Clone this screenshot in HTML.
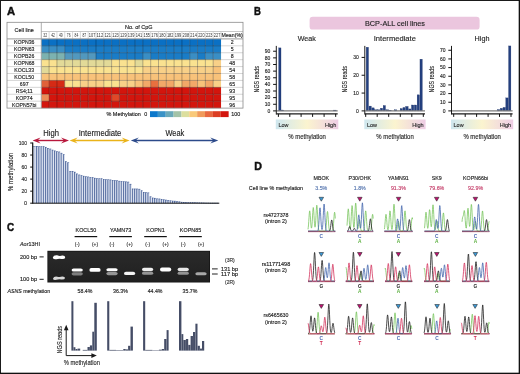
<!DOCTYPE html>
<html><head><meta charset="utf-8"><title>Figure</title>
<style>
html,body{margin:0;padding:0;background:#fff;}
body{width:520px;height:374px;overflow:hidden;position:relative;font-family:"Liberation Sans", sans-serif;}
svg{position:absolute;left:0;top:0;display:block;will-change:transform;filter:blur(0.25px);}
svg text{font-family:"Liberation Sans", sans-serif;}
</style></head><body>
<svg width="520" height="374" viewBox="0 0 520 374">
<rect x="0" y="0" width="520" height="374" fill="#fff"/>
<text x="7.00" y="15.40" font-size="11.4" text-anchor="start" fill="#111" font-weight="bold" textLength="8.10" lengthAdjust="spacingAndGlyphs" stroke="#111" stroke-width="0.45">A</text>
<text x="253.90" y="15.20" font-size="11.4" text-anchor="start" fill="#111" font-weight="bold" textLength="6.90" lengthAdjust="spacingAndGlyphs" stroke="#111" stroke-width="0.45">B</text>
<text x="7.10" y="230.60" font-size="11.8" text-anchor="start" fill="#111" font-weight="bold" textLength="7.20" lengthAdjust="spacingAndGlyphs" stroke="#111" stroke-width="0.45">C</text>
<text x="254.20" y="169.50" font-size="11.0" text-anchor="start" fill="#111" font-weight="bold" textLength="7.70" lengthAdjust="spacingAndGlyphs" stroke="#111" stroke-width="0.45">D</text>
<rect x="7.00" y="22.30" width="236.00" height="85.80" fill="#fff" />
<rect x="41.30" y="38.90" width="7.86" height="6.97" fill="#0a70c4" />
<rect x="49.11" y="38.90" width="7.86" height="6.97" fill="#0a70c4" />
<rect x="56.93" y="38.90" width="7.86" height="6.97" fill="#0a70c4" />
<rect x="64.74" y="38.90" width="7.86" height="6.97" fill="#0a70c4" />
<rect x="72.55" y="38.90" width="7.86" height="6.97" fill="#0a70c4" />
<rect x="80.37" y="38.90" width="7.86" height="6.97" fill="#0a70c4" />
<rect x="88.18" y="38.90" width="7.86" height="6.97" fill="#0a70c4" />
<rect x="95.99" y="38.90" width="7.86" height="6.97" fill="#0a70c4" />
<rect x="103.80" y="38.90" width="7.86" height="6.97" fill="#0a70c4" />
<rect x="111.62" y="38.90" width="7.86" height="6.97" fill="#0a70c4" />
<rect x="119.43" y="38.90" width="7.86" height="6.97" fill="#0a70c4" />
<rect x="127.24" y="38.90" width="7.86" height="6.97" fill="#0a70c4" />
<rect x="135.06" y="38.90" width="7.86" height="6.97" fill="#0a70c4" />
<rect x="142.87" y="38.90" width="7.86" height="6.97" fill="#0a70c4" />
<rect x="150.68" y="38.90" width="7.86" height="6.97" fill="#0a70c4" />
<rect x="158.50" y="38.90" width="7.86" height="6.97" fill="#0a70c4" />
<rect x="166.31" y="38.90" width="7.86" height="6.97" fill="#0a70c4" />
<rect x="174.12" y="38.90" width="7.86" height="6.97" fill="#0a70c4" />
<rect x="181.93" y="38.90" width="7.86" height="6.97" fill="#0a70c4" />
<rect x="189.75" y="38.90" width="7.86" height="6.97" fill="#0a70c4" />
<rect x="197.56" y="38.90" width="7.86" height="6.97" fill="#0a70c4" />
<rect x="205.37" y="38.90" width="7.86" height="6.97" fill="#0a70c4" />
<rect x="213.19" y="38.90" width="7.86" height="6.97" fill="#0a70c4" />
<rect x="41.30" y="45.82" width="7.86" height="6.97" fill="#3a8ec4" />
<rect x="49.11" y="45.82" width="7.86" height="6.97" fill="#3a8ec4" />
<rect x="56.93" y="45.82" width="7.86" height="6.97" fill="#3a8ec4" />
<rect x="64.74" y="45.82" width="7.86" height="6.97" fill="#1a7cc6" />
<rect x="72.55" y="45.82" width="7.86" height="6.97" fill="#1a7cc6" />
<rect x="80.37" y="45.82" width="7.86" height="6.97" fill="#1a7cc6" />
<rect x="88.18" y="45.82" width="7.86" height="6.97" fill="#1a7cc6" />
<rect x="95.99" y="45.82" width="7.86" height="6.97" fill="#1a7cc6" />
<rect x="103.80" y="45.82" width="7.86" height="6.97" fill="#1a7cc6" />
<rect x="111.62" y="45.82" width="7.86" height="6.97" fill="#1a7cc6" />
<rect x="119.43" y="45.82" width="7.86" height="6.97" fill="#1a7cc6" />
<rect x="127.24" y="45.82" width="7.86" height="6.97" fill="#1a7cc6" />
<rect x="135.06" y="45.82" width="7.86" height="6.97" fill="#1a7cc6" />
<rect x="142.87" y="45.82" width="7.86" height="6.97" fill="#1a7cc6" />
<rect x="150.68" y="45.82" width="7.86" height="6.97" fill="#1a7cc6" />
<rect x="158.50" y="45.82" width="7.86" height="6.97" fill="#1a7cc6" />
<rect x="166.31" y="45.82" width="7.86" height="6.97" fill="#1a7cc6" />
<rect x="174.12" y="45.82" width="7.86" height="6.97" fill="#1a7cc6" />
<rect x="181.93" y="45.82" width="7.86" height="6.97" fill="#1a7cc6" />
<rect x="189.75" y="45.82" width="7.86" height="6.97" fill="#1a7cc6" />
<rect x="197.56" y="45.82" width="7.86" height="6.97" fill="#1a7cc6" />
<rect x="205.37" y="45.82" width="7.86" height="6.97" fill="#1a7cc6" />
<rect x="213.19" y="45.82" width="7.86" height="6.97" fill="#1a7cc6" />
<rect x="41.30" y="52.74" width="7.86" height="6.97" fill="#7cb2b0" />
<rect x="49.11" y="52.74" width="7.86" height="6.97" fill="#7cb2b0" />
<rect x="56.93" y="52.74" width="7.86" height="6.97" fill="#7cb2b0" />
<rect x="64.74" y="52.74" width="7.86" height="6.97" fill="#5298be" />
<rect x="72.55" y="52.74" width="7.86" height="6.97" fill="#5298be" />
<rect x="80.37" y="52.74" width="7.86" height="6.97" fill="#5298be" />
<rect x="88.18" y="52.74" width="7.86" height="6.97" fill="#5298be" />
<rect x="95.99" y="52.74" width="7.86" height="6.97" fill="#1a7cc6" />
<rect x="103.80" y="52.74" width="7.86" height="6.97" fill="#1a7cc6" />
<rect x="111.62" y="52.74" width="7.86" height="6.97" fill="#1a7cc6" />
<rect x="119.43" y="52.74" width="7.86" height="6.97" fill="#1a7cc6" />
<rect x="127.24" y="52.74" width="7.86" height="6.97" fill="#1a7cc6" />
<rect x="135.06" y="52.74" width="7.86" height="6.97" fill="#1a7cc6" />
<rect x="142.87" y="52.74" width="7.86" height="6.97" fill="#3a8ec4" />
<rect x="150.68" y="52.74" width="7.86" height="6.97" fill="#1a7cc6" />
<rect x="158.50" y="52.74" width="7.86" height="6.97" fill="#1a7cc6" />
<rect x="166.31" y="52.74" width="7.86" height="6.97" fill="#1a7cc6" />
<rect x="174.12" y="52.74" width="7.86" height="6.97" fill="#1a7cc6" />
<rect x="181.93" y="52.74" width="7.86" height="6.97" fill="#1a7cc6" />
<rect x="189.75" y="52.74" width="7.86" height="6.97" fill="#3a8ec4" />
<rect x="197.56" y="52.74" width="7.86" height="6.97" fill="#1a7cc6" />
<rect x="205.37" y="52.74" width="7.86" height="6.97" fill="#3a8ec4" />
<rect x="213.19" y="52.74" width="7.86" height="6.97" fill="#3a8ec4" />
<rect x="41.30" y="59.66" width="7.86" height="6.97" fill="#fae290" />
<rect x="49.11" y="59.66" width="7.86" height="6.97" fill="#fae290" />
<rect x="56.93" y="59.66" width="7.86" height="6.97" fill="#e2da98" />
<rect x="64.74" y="59.66" width="7.86" height="6.97" fill="#e2da98" />
<rect x="72.55" y="59.66" width="7.86" height="6.97" fill="#e2da98" />
<rect x="80.37" y="59.66" width="7.86" height="6.97" fill="#e2da98" />
<rect x="88.18" y="59.66" width="7.86" height="6.97" fill="#e2da98" />
<rect x="95.99" y="59.66" width="7.86" height="6.97" fill="#e2da98" />
<rect x="103.80" y="59.66" width="7.86" height="6.97" fill="#e2da98" />
<rect x="111.62" y="59.66" width="7.86" height="6.97" fill="#fae290" />
<rect x="119.43" y="59.66" width="7.86" height="6.97" fill="#fae290" />
<rect x="127.24" y="59.66" width="7.86" height="6.97" fill="#fae290" />
<rect x="135.06" y="59.66" width="7.86" height="6.97" fill="#e2da98" />
<rect x="142.87" y="59.66" width="7.86" height="6.97" fill="#fae290" />
<rect x="150.68" y="59.66" width="7.86" height="6.97" fill="#fae290" />
<rect x="158.50" y="59.66" width="7.86" height="6.97" fill="#fae290" />
<rect x="166.31" y="59.66" width="7.86" height="6.97" fill="#fae290" />
<rect x="174.12" y="59.66" width="7.86" height="6.97" fill="#fae290" />
<rect x="181.93" y="59.66" width="7.86" height="6.97" fill="#fae290" />
<rect x="189.75" y="59.66" width="7.86" height="6.97" fill="#fae290" />
<rect x="197.56" y="59.66" width="7.86" height="6.97" fill="#fae290" />
<rect x="205.37" y="59.66" width="7.86" height="6.97" fill="#fae290" />
<rect x="213.19" y="59.66" width="7.86" height="6.97" fill="#f8d088" />
<rect x="41.30" y="66.58" width="7.86" height="6.97" fill="#e2da98" />
<rect x="49.11" y="66.58" width="7.86" height="6.97" fill="#fae290" />
<rect x="56.93" y="66.58" width="7.86" height="6.97" fill="#fae290" />
<rect x="64.74" y="66.58" width="7.86" height="6.97" fill="#fae290" />
<rect x="72.55" y="66.58" width="7.86" height="6.97" fill="#fae290" />
<rect x="80.37" y="66.58" width="7.86" height="6.97" fill="#fae290" />
<rect x="88.18" y="66.58" width="7.86" height="6.97" fill="#fae290" />
<rect x="95.99" y="66.58" width="7.86" height="6.97" fill="#fae290" />
<rect x="103.80" y="66.58" width="7.86" height="6.97" fill="#fae290" />
<rect x="111.62" y="66.58" width="7.86" height="6.97" fill="#fae290" />
<rect x="119.43" y="66.58" width="7.86" height="6.97" fill="#fae290" />
<rect x="127.24" y="66.58" width="7.86" height="6.97" fill="#fae290" />
<rect x="135.06" y="66.58" width="7.86" height="6.97" fill="#fae290" />
<rect x="142.87" y="66.58" width="7.86" height="6.97" fill="#f8d088" />
<rect x="150.68" y="66.58" width="7.86" height="6.97" fill="#f8d088" />
<rect x="158.50" y="66.58" width="7.86" height="6.97" fill="#f8d088" />
<rect x="166.31" y="66.58" width="7.86" height="6.97" fill="#f8d088" />
<rect x="174.12" y="66.58" width="7.86" height="6.97" fill="#f8d088" />
<rect x="181.93" y="66.58" width="7.86" height="6.97" fill="#f8d088" />
<rect x="189.75" y="66.58" width="7.86" height="6.97" fill="#f8d088" />
<rect x="197.56" y="66.58" width="7.86" height="6.97" fill="#f8d088" />
<rect x="205.37" y="66.58" width="7.86" height="6.97" fill="#f8d088" />
<rect x="213.19" y="66.58" width="7.86" height="6.97" fill="#f8c27a" />
<rect x="41.30" y="73.50" width="7.86" height="6.97" fill="#f8c27a" />
<rect x="49.11" y="73.50" width="7.86" height="6.97" fill="#f8c27a" />
<rect x="56.93" y="73.50" width="7.86" height="6.97" fill="#f8c27a" />
<rect x="64.74" y="73.50" width="7.86" height="6.97" fill="#f8c27a" />
<rect x="72.55" y="73.50" width="7.86" height="6.97" fill="#f8c27a" />
<rect x="80.37" y="73.50" width="7.86" height="6.97" fill="#f8c27a" />
<rect x="88.18" y="73.50" width="7.86" height="6.97" fill="#f8c27a" />
<rect x="95.99" y="73.50" width="7.86" height="6.97" fill="#f8c27a" />
<rect x="103.80" y="73.50" width="7.86" height="6.97" fill="#f8c27a" />
<rect x="111.62" y="73.50" width="7.86" height="6.97" fill="#f8c27a" />
<rect x="119.43" y="73.50" width="7.86" height="6.97" fill="#f8c27a" />
<rect x="127.24" y="73.50" width="7.86" height="6.97" fill="#f8c27a" />
<rect x="135.06" y="73.50" width="7.86" height="6.97" fill="#f8c27a" />
<rect x="142.87" y="73.50" width="7.86" height="6.97" fill="#f8c27a" />
<rect x="150.68" y="73.50" width="7.86" height="6.97" fill="#f8c27a" />
<rect x="158.50" y="73.50" width="7.86" height="6.97" fill="#f8c27a" />
<rect x="166.31" y="73.50" width="7.86" height="6.97" fill="#f8c27a" />
<rect x="174.12" y="73.50" width="7.86" height="6.97" fill="#f8c27a" />
<rect x="181.93" y="73.50" width="7.86" height="6.97" fill="#f8c27a" />
<rect x="189.75" y="73.50" width="7.86" height="6.97" fill="#f8c27a" />
<rect x="197.56" y="73.50" width="7.86" height="6.97" fill="#f8c27a" />
<rect x="205.37" y="73.50" width="7.86" height="6.97" fill="#f8c27a" />
<rect x="213.19" y="73.50" width="7.86" height="6.97" fill="#f8c27a" />
<rect x="41.30" y="80.42" width="7.86" height="6.97" fill="#e0603a" />
<rect x="49.11" y="80.42" width="7.86" height="6.97" fill="#d62a15" />
<rect x="56.93" y="80.42" width="7.86" height="6.97" fill="#d62a15" />
<rect x="64.74" y="80.42" width="7.86" height="6.97" fill="#fae290" />
<rect x="72.55" y="80.42" width="7.86" height="6.97" fill="#fae290" />
<rect x="80.37" y="80.42" width="7.86" height="6.97" fill="#f8d088" />
<rect x="88.18" y="80.42" width="7.86" height="6.97" fill="#f8d088" />
<rect x="95.99" y="80.42" width="7.86" height="6.97" fill="#f8d088" />
<rect x="103.80" y="80.42" width="7.86" height="6.97" fill="#fae290" />
<rect x="111.62" y="80.42" width="7.86" height="6.97" fill="#fae290" />
<rect x="119.43" y="80.42" width="7.86" height="6.97" fill="#f8d088" />
<rect x="127.24" y="80.42" width="7.86" height="6.97" fill="#f8d088" />
<rect x="135.06" y="80.42" width="7.86" height="6.97" fill="#f8c27a" />
<rect x="142.87" y="80.42" width="7.86" height="6.97" fill="#f2a868" />
<rect x="150.68" y="80.42" width="7.86" height="6.97" fill="#e8703f" />
<rect x="158.50" y="80.42" width="7.86" height="6.97" fill="#f2a868" />
<rect x="166.31" y="80.42" width="7.86" height="6.97" fill="#f2a868" />
<rect x="174.12" y="80.42" width="7.86" height="6.97" fill="#f8d088" />
<rect x="181.93" y="80.42" width="7.86" height="6.97" fill="#f2a868" />
<rect x="189.75" y="80.42" width="7.86" height="6.97" fill="#f2a868" />
<rect x="197.56" y="80.42" width="7.86" height="6.97" fill="#f8c27a" />
<rect x="205.37" y="80.42" width="7.86" height="6.97" fill="#f2a868" />
<rect x="213.19" y="80.42" width="7.86" height="6.97" fill="#f8d088" />
<rect x="41.30" y="87.34" width="7.86" height="6.97" fill="#d3150d" />
<rect x="49.11" y="87.34" width="7.86" height="6.97" fill="#d3150d" />
<rect x="56.93" y="87.34" width="7.86" height="6.97" fill="#d3150d" />
<rect x="64.74" y="87.34" width="7.86" height="6.97" fill="#d3150d" />
<rect x="72.55" y="87.34" width="7.86" height="6.97" fill="#d3150d" />
<rect x="80.37" y="87.34" width="7.86" height="6.97" fill="#d3150d" />
<rect x="88.18" y="87.34" width="7.86" height="6.97" fill="#d3150d" />
<rect x="95.99" y="87.34" width="7.86" height="6.97" fill="#d3150d" />
<rect x="103.80" y="87.34" width="7.86" height="6.97" fill="#d3150d" />
<rect x="111.62" y="87.34" width="7.86" height="6.97" fill="#d3150d" />
<rect x="119.43" y="87.34" width="7.86" height="6.97" fill="#d3150d" />
<rect x="127.24" y="87.34" width="7.86" height="6.97" fill="#d3150d" />
<rect x="135.06" y="87.34" width="7.86" height="6.97" fill="#d3150d" />
<rect x="142.87" y="87.34" width="7.86" height="6.97" fill="#d3150d" />
<rect x="150.68" y="87.34" width="7.86" height="6.97" fill="#d3150d" />
<rect x="158.50" y="87.34" width="7.86" height="6.97" fill="#d3150d" />
<rect x="166.31" y="87.34" width="7.86" height="6.97" fill="#d3150d" />
<rect x="174.12" y="87.34" width="7.86" height="6.97" fill="#d3150d" />
<rect x="181.93" y="87.34" width="7.86" height="6.97" fill="#d3150d" />
<rect x="189.75" y="87.34" width="7.86" height="6.97" fill="#d3150d" />
<rect x="197.56" y="87.34" width="7.86" height="6.97" fill="#d3150d" />
<rect x="205.37" y="87.34" width="7.86" height="6.97" fill="#d3150d" />
<rect x="213.19" y="87.34" width="7.86" height="6.97" fill="#d3150d" />
<rect x="41.30" y="94.26" width="7.86" height="6.97" fill="#ec8c58" />
<rect x="49.11" y="94.26" width="7.86" height="6.97" fill="#d3150d" />
<rect x="56.93" y="94.26" width="7.86" height="6.97" fill="#d3150d" />
<rect x="64.74" y="94.26" width="7.86" height="6.97" fill="#d3150d" />
<rect x="72.55" y="94.26" width="7.86" height="6.97" fill="#d3150d" />
<rect x="80.37" y="94.26" width="7.86" height="6.97" fill="#d3150d" />
<rect x="88.18" y="94.26" width="7.86" height="6.97" fill="#d3150d" />
<rect x="95.99" y="94.26" width="7.86" height="6.97" fill="#d3150d" />
<rect x="103.80" y="94.26" width="7.86" height="6.97" fill="#d3150d" />
<rect x="111.62" y="94.26" width="7.86" height="6.97" fill="#e04828" />
<rect x="119.43" y="94.26" width="7.86" height="6.97" fill="#d3150d" />
<rect x="127.24" y="94.26" width="7.86" height="6.97" fill="#d3150d" />
<rect x="135.06" y="94.26" width="7.86" height="6.97" fill="#d3150d" />
<rect x="142.87" y="94.26" width="7.86" height="6.97" fill="#d3150d" />
<rect x="150.68" y="94.26" width="7.86" height="6.97" fill="#d3150d" />
<rect x="158.50" y="94.26" width="7.86" height="6.97" fill="#d3150d" />
<rect x="166.31" y="94.26" width="7.86" height="6.97" fill="#d3150d" />
<rect x="174.12" y="94.26" width="7.86" height="6.97" fill="#d3150d" />
<rect x="181.93" y="94.26" width="7.86" height="6.97" fill="#d3150d" />
<rect x="189.75" y="94.26" width="7.86" height="6.97" fill="#d3150d" />
<rect x="197.56" y="94.26" width="7.86" height="6.97" fill="#d3150d" />
<rect x="205.37" y="94.26" width="7.86" height="6.97" fill="#d3150d" />
<rect x="213.19" y="94.26" width="7.86" height="6.97" fill="#d3150d" />
<rect x="41.30" y="101.18" width="7.86" height="6.97" fill="#d3150d" />
<rect x="49.11" y="101.18" width="7.86" height="6.97" fill="#d3150d" />
<rect x="56.93" y="101.18" width="7.86" height="6.97" fill="#d3150d" />
<rect x="64.74" y="101.18" width="7.86" height="6.97" fill="#d3150d" />
<rect x="72.55" y="101.18" width="7.86" height="6.97" fill="#d3150d" />
<rect x="80.37" y="101.18" width="7.86" height="6.97" fill="#d3150d" />
<rect x="88.18" y="101.18" width="7.86" height="6.97" fill="#d3150d" />
<rect x="95.99" y="101.18" width="7.86" height="6.97" fill="#d3150d" />
<rect x="103.80" y="101.18" width="7.86" height="6.97" fill="#d3150d" />
<rect x="111.62" y="101.18" width="7.86" height="6.97" fill="#d3150d" />
<rect x="119.43" y="101.18" width="7.86" height="6.97" fill="#d3150d" />
<rect x="127.24" y="101.18" width="7.86" height="6.97" fill="#d3150d" />
<rect x="135.06" y="101.18" width="7.86" height="6.97" fill="#d3150d" />
<rect x="142.87" y="101.18" width="7.86" height="6.97" fill="#d3150d" />
<rect x="150.68" y="101.18" width="7.86" height="6.97" fill="#d3150d" />
<rect x="158.50" y="101.18" width="7.86" height="6.97" fill="#d3150d" />
<rect x="166.31" y="101.18" width="7.86" height="6.97" fill="#d3150d" />
<rect x="174.12" y="101.18" width="7.86" height="6.97" fill="#d3150d" />
<rect x="181.93" y="101.18" width="7.86" height="6.97" fill="#d3150d" />
<rect x="189.75" y="101.18" width="7.86" height="6.97" fill="#d3150d" />
<rect x="197.56" y="101.18" width="7.86" height="6.97" fill="#d3150d" />
<rect x="205.37" y="101.18" width="7.86" height="6.97" fill="#d3150d" />
<rect x="213.19" y="101.18" width="7.86" height="6.97" fill="#d3150d" />
<line x1="49.11" y1="38.90" x2="49.11" y2="108.10" stroke="#000" stroke-width="0.7" stroke-opacity="0.4"/>
<line x1="56.93" y1="38.90" x2="56.93" y2="108.10" stroke="#000" stroke-width="0.7" stroke-opacity="0.4"/>
<line x1="64.74" y1="38.90" x2="64.74" y2="108.10" stroke="#000" stroke-width="0.7" stroke-opacity="0.4"/>
<line x1="72.55" y1="38.90" x2="72.55" y2="108.10" stroke="#000" stroke-width="0.7" stroke-opacity="0.4"/>
<line x1="80.37" y1="38.90" x2="80.37" y2="108.10" stroke="#000" stroke-width="0.7" stroke-opacity="0.4"/>
<line x1="88.18" y1="38.90" x2="88.18" y2="108.10" stroke="#000" stroke-width="0.7" stroke-opacity="0.4"/>
<line x1="95.99" y1="38.90" x2="95.99" y2="108.10" stroke="#000" stroke-width="0.7" stroke-opacity="0.4"/>
<line x1="103.80" y1="38.90" x2="103.80" y2="108.10" stroke="#000" stroke-width="0.7" stroke-opacity="0.4"/>
<line x1="111.62" y1="38.90" x2="111.62" y2="108.10" stroke="#000" stroke-width="0.7" stroke-opacity="0.4"/>
<line x1="119.43" y1="38.90" x2="119.43" y2="108.10" stroke="#000" stroke-width="0.7" stroke-opacity="0.4"/>
<line x1="127.24" y1="38.90" x2="127.24" y2="108.10" stroke="#000" stroke-width="0.7" stroke-opacity="0.4"/>
<line x1="135.06" y1="38.90" x2="135.06" y2="108.10" stroke="#000" stroke-width="0.7" stroke-opacity="0.4"/>
<line x1="142.87" y1="38.90" x2="142.87" y2="108.10" stroke="#000" stroke-width="0.7" stroke-opacity="0.4"/>
<line x1="150.68" y1="38.90" x2="150.68" y2="108.10" stroke="#000" stroke-width="0.7" stroke-opacity="0.4"/>
<line x1="158.50" y1="38.90" x2="158.50" y2="108.10" stroke="#000" stroke-width="0.7" stroke-opacity="0.4"/>
<line x1="166.31" y1="38.90" x2="166.31" y2="108.10" stroke="#000" stroke-width="0.7" stroke-opacity="0.4"/>
<line x1="174.12" y1="38.90" x2="174.12" y2="108.10" stroke="#000" stroke-width="0.7" stroke-opacity="0.4"/>
<line x1="181.93" y1="38.90" x2="181.93" y2="108.10" stroke="#000" stroke-width="0.7" stroke-opacity="0.4"/>
<line x1="189.75" y1="38.90" x2="189.75" y2="108.10" stroke="#000" stroke-width="0.7" stroke-opacity="0.4"/>
<line x1="197.56" y1="38.90" x2="197.56" y2="108.10" stroke="#000" stroke-width="0.7" stroke-opacity="0.4"/>
<line x1="205.37" y1="38.90" x2="205.37" y2="108.10" stroke="#000" stroke-width="0.7" stroke-opacity="0.4"/>
<line x1="213.19" y1="38.90" x2="213.19" y2="108.10" stroke="#000" stroke-width="0.7" stroke-opacity="0.4"/>
<line x1="41.30" y1="45.82" x2="221.00" y2="45.82" stroke="#000" stroke-width="0.7" stroke-opacity="0.4"/>
<line x1="41.30" y1="52.74" x2="221.00" y2="52.74" stroke="#000" stroke-width="0.7" stroke-opacity="0.4"/>
<line x1="41.30" y1="59.66" x2="221.00" y2="59.66" stroke="#000" stroke-width="0.7" stroke-opacity="0.4"/>
<line x1="41.30" y1="66.58" x2="221.00" y2="66.58" stroke="#000" stroke-width="0.7" stroke-opacity="0.4"/>
<line x1="41.30" y1="73.50" x2="221.00" y2="73.50" stroke="#000" stroke-width="0.7" stroke-opacity="0.4"/>
<line x1="41.30" y1="80.42" x2="221.00" y2="80.42" stroke="#000" stroke-width="0.7" stroke-opacity="0.4"/>
<line x1="41.30" y1="87.34" x2="221.00" y2="87.34" stroke="#000" stroke-width="0.7" stroke-opacity="0.4"/>
<line x1="41.30" y1="94.26" x2="221.00" y2="94.26" stroke="#000" stroke-width="0.7" stroke-opacity="0.4"/>
<line x1="41.30" y1="101.18" x2="221.00" y2="101.18" stroke="#000" stroke-width="0.7" stroke-opacity="0.4"/>
<line x1="7.00" y1="45.82" x2="41.30" y2="45.82" stroke="#c4c4c4" stroke-width="0.7" />
<line x1="221.00" y1="45.82" x2="243.00" y2="45.82" stroke="#c4c4c4" stroke-width="0.7" />
<line x1="7.00" y1="52.74" x2="41.30" y2="52.74" stroke="#c4c4c4" stroke-width="0.7" />
<line x1="221.00" y1="52.74" x2="243.00" y2="52.74" stroke="#c4c4c4" stroke-width="0.7" />
<line x1="7.00" y1="59.66" x2="41.30" y2="59.66" stroke="#c4c4c4" stroke-width="0.7" />
<line x1="221.00" y1="59.66" x2="243.00" y2="59.66" stroke="#c4c4c4" stroke-width="0.7" />
<line x1="7.00" y1="66.58" x2="41.30" y2="66.58" stroke="#c4c4c4" stroke-width="0.7" />
<line x1="221.00" y1="66.58" x2="243.00" y2="66.58" stroke="#c4c4c4" stroke-width="0.7" />
<line x1="7.00" y1="73.50" x2="41.30" y2="73.50" stroke="#c4c4c4" stroke-width="0.7" />
<line x1="221.00" y1="73.50" x2="243.00" y2="73.50" stroke="#c4c4c4" stroke-width="0.7" />
<line x1="7.00" y1="80.42" x2="41.30" y2="80.42" stroke="#c4c4c4" stroke-width="0.7" />
<line x1="221.00" y1="80.42" x2="243.00" y2="80.42" stroke="#c4c4c4" stroke-width="0.7" />
<line x1="7.00" y1="87.34" x2="41.30" y2="87.34" stroke="#c4c4c4" stroke-width="0.7" />
<line x1="221.00" y1="87.34" x2="243.00" y2="87.34" stroke="#c4c4c4" stroke-width="0.7" />
<line x1="7.00" y1="94.26" x2="41.30" y2="94.26" stroke="#c4c4c4" stroke-width="0.7" />
<line x1="221.00" y1="94.26" x2="243.00" y2="94.26" stroke="#c4c4c4" stroke-width="0.7" />
<line x1="7.00" y1="101.18" x2="41.30" y2="101.18" stroke="#c4c4c4" stroke-width="0.7" />
<line x1="221.00" y1="101.18" x2="243.00" y2="101.18" stroke="#c4c4c4" stroke-width="0.7" />
<line x1="41.30" y1="31.50" x2="243.00" y2="31.50" stroke="#b0b0b0" stroke-width="0.7" />
<line x1="49.11" y1="31.50" x2="49.11" y2="38.90" stroke="#c0c0c0" stroke-width="0.6" />
<line x1="56.93" y1="31.50" x2="56.93" y2="38.90" stroke="#c0c0c0" stroke-width="0.6" />
<line x1="64.74" y1="31.50" x2="64.74" y2="38.90" stroke="#c0c0c0" stroke-width="0.6" />
<line x1="72.55" y1="31.50" x2="72.55" y2="38.90" stroke="#c0c0c0" stroke-width="0.6" />
<line x1="80.37" y1="31.50" x2="80.37" y2="38.90" stroke="#c0c0c0" stroke-width="0.6" />
<line x1="88.18" y1="31.50" x2="88.18" y2="38.90" stroke="#c0c0c0" stroke-width="0.6" />
<line x1="95.99" y1="31.50" x2="95.99" y2="38.90" stroke="#c0c0c0" stroke-width="0.6" />
<line x1="103.80" y1="31.50" x2="103.80" y2="38.90" stroke="#c0c0c0" stroke-width="0.6" />
<line x1="111.62" y1="31.50" x2="111.62" y2="38.90" stroke="#c0c0c0" stroke-width="0.6" />
<line x1="119.43" y1="31.50" x2="119.43" y2="38.90" stroke="#c0c0c0" stroke-width="0.6" />
<line x1="127.24" y1="31.50" x2="127.24" y2="38.90" stroke="#c0c0c0" stroke-width="0.6" />
<line x1="135.06" y1="31.50" x2="135.06" y2="38.90" stroke="#c0c0c0" stroke-width="0.6" />
<line x1="142.87" y1="31.50" x2="142.87" y2="38.90" stroke="#c0c0c0" stroke-width="0.6" />
<line x1="150.68" y1="31.50" x2="150.68" y2="38.90" stroke="#c0c0c0" stroke-width="0.6" />
<line x1="158.50" y1="31.50" x2="158.50" y2="38.90" stroke="#c0c0c0" stroke-width="0.6" />
<line x1="166.31" y1="31.50" x2="166.31" y2="38.90" stroke="#c0c0c0" stroke-width="0.6" />
<line x1="174.12" y1="31.50" x2="174.12" y2="38.90" stroke="#c0c0c0" stroke-width="0.6" />
<line x1="181.93" y1="31.50" x2="181.93" y2="38.90" stroke="#c0c0c0" stroke-width="0.6" />
<line x1="189.75" y1="31.50" x2="189.75" y2="38.90" stroke="#c0c0c0" stroke-width="0.6" />
<line x1="197.56" y1="31.50" x2="197.56" y2="38.90" stroke="#c0c0c0" stroke-width="0.6" />
<line x1="205.37" y1="31.50" x2="205.37" y2="38.90" stroke="#c0c0c0" stroke-width="0.6" />
<line x1="213.19" y1="31.50" x2="213.19" y2="38.90" stroke="#c0c0c0" stroke-width="0.6" />
<line x1="221.00" y1="31.50" x2="221.00" y2="38.90" stroke="#c0c0c0" stroke-width="0.6" />
<line x1="7.00" y1="38.90" x2="243.00" y2="38.90" stroke="#9a9a9a" stroke-width="1.0" />
<line x1="41.30" y1="22.30" x2="41.30" y2="108.10" stroke="#9a9a9a" stroke-width="0.8" />
<rect x="7.0" y="22.3" width="236.0" height="85.8" fill="none" stroke="#8a8a8a" stroke-width="0.8"/>
<text x="24.20" y="32.20" font-size="5.4" text-anchor="middle" fill="#222" textLength="19.30" lengthAdjust="spacingAndGlyphs" stroke="#222" stroke-width="0.14" >Cell line</text>
<text x="138.80" y="28.60" font-size="5.5" text-anchor="middle" fill="#222" textLength="27.50" lengthAdjust="spacingAndGlyphs" stroke="#222" stroke-width="0.14" >No. of CpG</text>
<text x="45.21" y="36.70" font-size="5.0" text-anchor="middle" fill="#333" textLength="3.70" lengthAdjust="spacingAndGlyphs" >32</text>
<text x="53.02" y="36.70" font-size="5.0" text-anchor="middle" fill="#333" textLength="3.70" lengthAdjust="spacingAndGlyphs" >42</text>
<text x="60.83" y="36.70" font-size="5.0" text-anchor="middle" fill="#333" textLength="3.70" lengthAdjust="spacingAndGlyphs" >49</text>
<text x="68.65" y="36.70" font-size="5.0" text-anchor="middle" fill="#333" textLength="3.70" lengthAdjust="spacingAndGlyphs" >76</text>
<text x="76.46" y="36.70" font-size="5.0" text-anchor="middle" fill="#333" textLength="3.70" lengthAdjust="spacingAndGlyphs" >84</text>
<text x="84.27" y="36.70" font-size="5.0" text-anchor="middle" fill="#333" textLength="3.70" lengthAdjust="spacingAndGlyphs" >87</text>
<text x="92.08" y="36.70" font-size="5.0" text-anchor="middle" fill="#333" textLength="6.60" lengthAdjust="spacingAndGlyphs" >107</text>
<text x="99.90" y="36.70" font-size="5.0" text-anchor="middle" fill="#333" textLength="6.60" lengthAdjust="spacingAndGlyphs" >112</text>
<text x="107.71" y="36.70" font-size="5.0" text-anchor="middle" fill="#333" textLength="6.60" lengthAdjust="spacingAndGlyphs" >121</text>
<text x="115.52" y="36.70" font-size="5.0" text-anchor="middle" fill="#333" textLength="6.60" lengthAdjust="spacingAndGlyphs" >123</text>
<text x="123.34" y="36.70" font-size="5.0" text-anchor="middle" fill="#333" textLength="6.60" lengthAdjust="spacingAndGlyphs" >129</text>
<text x="131.15" y="36.70" font-size="5.0" text-anchor="middle" fill="#333" textLength="6.60" lengthAdjust="spacingAndGlyphs" >139</text>
<text x="138.96" y="36.70" font-size="5.0" text-anchor="middle" fill="#333" textLength="6.60" lengthAdjust="spacingAndGlyphs" >141</text>
<text x="146.78" y="36.70" font-size="5.0" text-anchor="middle" fill="#333" textLength="6.60" lengthAdjust="spacingAndGlyphs" >155</text>
<text x="154.59" y="36.70" font-size="5.0" text-anchor="middle" fill="#333" textLength="6.60" lengthAdjust="spacingAndGlyphs" >176</text>
<text x="162.40" y="36.70" font-size="5.0" text-anchor="middle" fill="#333" textLength="6.60" lengthAdjust="spacingAndGlyphs" >180</text>
<text x="170.22" y="36.70" font-size="5.0" text-anchor="middle" fill="#333" textLength="6.60" lengthAdjust="spacingAndGlyphs" >182</text>
<text x="178.03" y="36.70" font-size="5.0" text-anchor="middle" fill="#333" textLength="6.60" lengthAdjust="spacingAndGlyphs" >199</text>
<text x="185.84" y="36.70" font-size="5.0" text-anchor="middle" fill="#333" textLength="6.60" lengthAdjust="spacingAndGlyphs" >208</text>
<text x="193.65" y="36.70" font-size="5.0" text-anchor="middle" fill="#333" textLength="6.60" lengthAdjust="spacingAndGlyphs" >214</text>
<text x="201.47" y="36.70" font-size="5.0" text-anchor="middle" fill="#333" textLength="6.60" lengthAdjust="spacingAndGlyphs" >220</text>
<text x="209.28" y="36.70" font-size="5.0" text-anchor="middle" fill="#333" textLength="6.60" lengthAdjust="spacingAndGlyphs" >223</text>
<text x="217.09" y="36.70" font-size="5.0" text-anchor="middle" fill="#333" textLength="6.60" lengthAdjust="spacingAndGlyphs" >227</text>
<text x="232.20" y="36.70" font-size="5.3" text-anchor="middle" fill="#222" textLength="21.20" lengthAdjust="spacingAndGlyphs" stroke="#222" stroke-width="0.14" >Mean(%)</text>
<text x="24.20" y="44.26" font-size="5.2" text-anchor="middle" fill="#222" stroke="#222" stroke-width="0.14" >KOPN36</text>
<text x="232.20" y="44.26" font-size="5.2" text-anchor="middle" fill="#222" stroke="#222" stroke-width="0.14" >2</text>
<text x="24.20" y="51.18" font-size="5.2" text-anchor="middle" fill="#222" stroke="#222" stroke-width="0.14" >KOPN63</text>
<text x="232.20" y="51.18" font-size="5.2" text-anchor="middle" fill="#222" stroke="#222" stroke-width="0.14" >5</text>
<text x="24.20" y="58.10" font-size="5.2" text-anchor="middle" fill="#222" stroke="#222" stroke-width="0.14" >KOPB26</text>
<text x="232.20" y="58.10" font-size="5.2" text-anchor="middle" fill="#222" stroke="#222" stroke-width="0.14" >8</text>
<text x="24.20" y="65.02" font-size="5.2" text-anchor="middle" fill="#222" stroke="#222" stroke-width="0.14" >KOPN68</text>
<text x="232.20" y="65.02" font-size="5.2" text-anchor="middle" fill="#222" stroke="#222" stroke-width="0.14" >48</text>
<text x="24.20" y="71.94" font-size="5.2" text-anchor="middle" fill="#222" stroke="#222" stroke-width="0.14" >KOCL33</text>
<text x="232.20" y="71.94" font-size="5.2" text-anchor="middle" fill="#222" stroke="#222" stroke-width="0.14" >54</text>
<text x="24.20" y="78.86" font-size="5.2" text-anchor="middle" fill="#222" stroke="#222" stroke-width="0.14" >KOCL50</text>
<text x="232.20" y="78.86" font-size="5.2" text-anchor="middle" fill="#222" stroke="#222" stroke-width="0.14" >58</text>
<text x="24.20" y="85.78" font-size="5.2" text-anchor="middle" fill="#222" stroke="#222" stroke-width="0.14" >697</text>
<text x="232.20" y="85.78" font-size="5.2" text-anchor="middle" fill="#222" stroke="#222" stroke-width="0.14" >65</text>
<text x="24.20" y="92.70" font-size="5.2" text-anchor="middle" fill="#222" stroke="#222" stroke-width="0.14" >RS4;11</text>
<text x="232.20" y="92.70" font-size="5.2" text-anchor="middle" fill="#222" stroke="#222" stroke-width="0.14" >93</text>
<text x="24.20" y="99.62" font-size="5.2" text-anchor="middle" fill="#222" stroke="#222" stroke-width="0.14" >KOP74</text>
<text x="232.20" y="99.62" font-size="5.2" text-anchor="middle" fill="#222" stroke="#222" stroke-width="0.14" >95</text>
<text x="24.20" y="106.54" font-size="5.2" text-anchor="middle" fill="#222" stroke="#222" stroke-width="0.14" >KOPN57bi</text>
<text x="232.20" y="106.54" font-size="5.2" text-anchor="middle" fill="#222" stroke="#222" stroke-width="0.14" >96</text>
<text x="106.50" y="116.20" font-size="5.4" text-anchor="start" fill="#222" textLength="34.30" lengthAdjust="spacingAndGlyphs" stroke="#222" stroke-width="0.14" >% Methylation</text>
<text x="144.30" y="116.20" font-size="5.4" text-anchor="start" fill="#222" stroke="#222" stroke-width="0.14" >0</text>
<rect x="150.00" y="111.20" width="7.90" height="5.90" fill="#0c78cb" />
<rect x="157.86" y="111.20" width="7.90" height="5.90" fill="#3a92c6" />
<rect x="165.72" y="111.20" width="7.90" height="5.90" fill="#6aa9b9" />
<rect x="173.58" y="111.20" width="7.90" height="5.90" fill="#a3c3a8" />
<rect x="181.44" y="111.20" width="7.90" height="5.90" fill="#dcdf9e" />
<rect x="189.30" y="111.20" width="7.90" height="5.90" fill="#f9c979" />
<rect x="197.16" y="111.20" width="7.90" height="5.90" fill="#f09a5a" />
<rect x="205.02" y="111.20" width="7.90" height="5.90" fill="#e8683f" />
<rect x="212.88" y="111.20" width="7.90" height="5.90" fill="#dc3e23" />
<rect x="220.74" y="111.20" width="7.90" height="5.90" fill="#d3150d" />
<text x="231.30" y="116.20" font-size="5.4" text-anchor="start" fill="#222" stroke="#222" stroke-width="0.14" >100</text>
<rect x="32.60" y="146.31" width="3.10" height="56.89" fill="#c3cde4" />
<rect x="32.60" y="146.31" width="3.15" height="0.45" fill="#34508c" />
<rect x="36.23" y="146.01" width="1.70" height="57.19" fill="#c3cde4" />
<rect x="36.23" y="146.01" width="0.70" height="57.19" fill="#34508c" />
<rect x="36.23" y="146.01" width="1.75" height="0.45" fill="#34508c" />
<rect x="38.45" y="146.37" width="1.70" height="56.83" fill="#c3cde4" />
<rect x="38.45" y="146.37" width="0.70" height="56.83" fill="#34508c" />
<rect x="38.45" y="146.37" width="1.75" height="0.45" fill="#34508c" />
<rect x="40.68" y="146.43" width="1.70" height="56.77" fill="#c3cde4" />
<rect x="40.68" y="146.43" width="0.70" height="56.77" fill="#34508c" />
<rect x="40.68" y="146.43" width="1.75" height="0.45" fill="#34508c" />
<rect x="42.90" y="146.43" width="1.70" height="56.77" fill="#c3cde4" />
<rect x="42.90" y="146.43" width="0.70" height="56.77" fill="#34508c" />
<rect x="42.90" y="146.43" width="1.75" height="0.45" fill="#34508c" />
<rect x="45.13" y="146.97" width="1.70" height="56.23" fill="#c3cde4" />
<rect x="45.13" y="146.97" width="0.70" height="56.23" fill="#34508c" />
<rect x="45.13" y="146.97" width="1.75" height="0.45" fill="#34508c" />
<rect x="47.36" y="148.00" width="1.70" height="55.20" fill="#c3cde4" />
<rect x="47.36" y="148.00" width="0.70" height="55.20" fill="#34508c" />
<rect x="47.36" y="148.00" width="1.75" height="0.45" fill="#34508c" />
<rect x="49.58" y="148.78" width="1.70" height="54.42" fill="#c3cde4" />
<rect x="49.58" y="148.78" width="0.70" height="54.42" fill="#34508c" />
<rect x="49.58" y="148.78" width="1.75" height="0.45" fill="#34508c" />
<rect x="51.81" y="149.86" width="1.70" height="53.34" fill="#c3cde4" />
<rect x="51.81" y="149.86" width="0.70" height="53.34" fill="#34508c" />
<rect x="51.81" y="149.86" width="1.75" height="0.45" fill="#34508c" />
<rect x="54.03" y="150.71" width="1.70" height="52.49" fill="#c3cde4" />
<rect x="54.03" y="150.71" width="0.70" height="52.49" fill="#34508c" />
<rect x="54.03" y="150.71" width="1.75" height="0.45" fill="#34508c" />
<rect x="56.26" y="151.43" width="1.70" height="51.77" fill="#c3cde4" />
<rect x="56.26" y="151.43" width="0.70" height="51.77" fill="#34508c" />
<rect x="56.26" y="151.43" width="1.75" height="0.45" fill="#34508c" />
<rect x="58.49" y="151.73" width="1.70" height="51.47" fill="#c3cde4" />
<rect x="58.49" y="151.73" width="0.70" height="51.47" fill="#34508c" />
<rect x="58.49" y="151.73" width="1.75" height="0.45" fill="#34508c" />
<rect x="60.71" y="152.93" width="1.70" height="50.27" fill="#c3cde4" />
<rect x="60.71" y="152.93" width="0.70" height="50.27" fill="#34508c" />
<rect x="60.71" y="152.93" width="1.75" height="0.45" fill="#34508c" />
<rect x="62.94" y="154.44" width="1.70" height="48.76" fill="#c3cde4" />
<rect x="62.94" y="154.44" width="0.70" height="48.76" fill="#34508c" />
<rect x="62.94" y="154.44" width="1.75" height="0.45" fill="#34508c" />
<rect x="65.16" y="161.36" width="1.70" height="41.84" fill="#c3cde4" />
<rect x="65.16" y="161.36" width="0.70" height="41.84" fill="#34508c" />
<rect x="65.16" y="161.36" width="1.75" height="0.45" fill="#34508c" />
<rect x="67.39" y="162.56" width="1.70" height="40.63" fill="#c3cde4" />
<rect x="67.39" y="162.56" width="0.70" height="40.63" fill="#34508c" />
<rect x="67.39" y="162.56" width="1.75" height="0.45" fill="#34508c" />
<rect x="69.62" y="170.99" width="1.70" height="32.21" fill="#c3cde4" />
<rect x="69.62" y="170.99" width="0.70" height="32.21" fill="#34508c" />
<rect x="69.62" y="170.99" width="1.75" height="0.45" fill="#34508c" />
<rect x="71.84" y="170.99" width="1.70" height="32.21" fill="#c3cde4" />
<rect x="71.84" y="170.99" width="0.70" height="32.21" fill="#34508c" />
<rect x="71.84" y="170.99" width="1.75" height="0.45" fill="#34508c" />
<rect x="74.07" y="171.90" width="1.70" height="31.30" fill="#c3cde4" />
<rect x="74.07" y="171.90" width="0.70" height="31.30" fill="#34508c" />
<rect x="74.07" y="171.90" width="1.75" height="0.45" fill="#34508c" />
<rect x="76.29" y="173.70" width="1.70" height="29.50" fill="#c3cde4" />
<rect x="76.29" y="173.70" width="0.70" height="29.50" fill="#34508c" />
<rect x="76.29" y="173.70" width="1.75" height="0.45" fill="#34508c" />
<rect x="78.52" y="174.73" width="1.70" height="28.47" fill="#c3cde4" />
<rect x="78.52" y="174.73" width="0.70" height="28.47" fill="#34508c" />
<rect x="78.52" y="174.73" width="1.75" height="0.45" fill="#34508c" />
<rect x="80.75" y="175.33" width="1.70" height="27.87" fill="#c3cde4" />
<rect x="80.75" y="175.33" width="0.70" height="27.87" fill="#34508c" />
<rect x="80.75" y="175.33" width="1.75" height="0.45" fill="#34508c" />
<rect x="82.97" y="175.93" width="1.70" height="27.27" fill="#c3cde4" />
<rect x="82.97" y="175.93" width="0.70" height="27.27" fill="#34508c" />
<rect x="82.97" y="175.93" width="1.75" height="0.45" fill="#34508c" />
<rect x="85.20" y="176.53" width="1.70" height="26.67" fill="#c3cde4" />
<rect x="85.20" y="176.53" width="0.70" height="26.67" fill="#34508c" />
<rect x="85.20" y="176.53" width="1.75" height="0.45" fill="#34508c" />
<rect x="87.42" y="176.71" width="1.70" height="26.49" fill="#c3cde4" />
<rect x="87.42" y="176.71" width="0.70" height="26.49" fill="#34508c" />
<rect x="87.42" y="176.71" width="1.75" height="0.45" fill="#34508c" />
<rect x="89.65" y="177.13" width="1.70" height="26.07" fill="#c3cde4" />
<rect x="89.65" y="177.13" width="0.70" height="26.07" fill="#34508c" />
<rect x="89.65" y="177.13" width="1.75" height="0.45" fill="#34508c" />
<rect x="91.88" y="177.31" width="1.70" height="25.89" fill="#c3cde4" />
<rect x="91.88" y="177.31" width="0.70" height="25.89" fill="#34508c" />
<rect x="91.88" y="177.31" width="1.75" height="0.45" fill="#34508c" />
<rect x="94.10" y="177.92" width="1.70" height="25.28" fill="#c3cde4" />
<rect x="94.10" y="177.92" width="0.70" height="25.28" fill="#34508c" />
<rect x="94.10" y="177.92" width="1.75" height="0.45" fill="#34508c" />
<rect x="96.33" y="178.34" width="1.70" height="24.86" fill="#c3cde4" />
<rect x="96.33" y="178.34" width="0.70" height="24.86" fill="#34508c" />
<rect x="96.33" y="178.34" width="1.75" height="0.45" fill="#34508c" />
<rect x="98.55" y="178.52" width="1.70" height="24.68" fill="#c3cde4" />
<rect x="98.55" y="178.52" width="0.70" height="24.68" fill="#34508c" />
<rect x="98.55" y="178.52" width="1.75" height="0.45" fill="#34508c" />
<rect x="100.78" y="178.52" width="1.70" height="24.68" fill="#c3cde4" />
<rect x="100.78" y="178.52" width="0.70" height="24.68" fill="#34508c" />
<rect x="100.78" y="178.52" width="1.75" height="0.45" fill="#34508c" />
<rect x="103.01" y="179.12" width="1.70" height="24.08" fill="#c3cde4" />
<rect x="103.01" y="179.12" width="0.70" height="24.08" fill="#34508c" />
<rect x="103.01" y="179.12" width="1.75" height="0.45" fill="#34508c" />
<rect x="105.23" y="179.42" width="1.70" height="23.78" fill="#c3cde4" />
<rect x="105.23" y="179.42" width="0.70" height="23.78" fill="#34508c" />
<rect x="105.23" y="179.42" width="1.75" height="0.45" fill="#34508c" />
<rect x="107.46" y="179.54" width="1.70" height="23.66" fill="#c3cde4" />
<rect x="107.46" y="179.54" width="0.70" height="23.66" fill="#34508c" />
<rect x="107.46" y="179.54" width="1.75" height="0.45" fill="#34508c" />
<rect x="109.68" y="179.72" width="1.70" height="23.48" fill="#c3cde4" />
<rect x="109.68" y="179.72" width="0.70" height="23.48" fill="#34508c" />
<rect x="109.68" y="179.72" width="1.75" height="0.45" fill="#34508c" />
<rect x="111.91" y="180.14" width="1.70" height="23.06" fill="#c3cde4" />
<rect x="111.91" y="180.14" width="0.70" height="23.06" fill="#34508c" />
<rect x="111.91" y="180.14" width="1.75" height="0.45" fill="#34508c" />
<rect x="114.14" y="180.32" width="1.70" height="22.88" fill="#c3cde4" />
<rect x="114.14" y="180.32" width="0.70" height="22.88" fill="#34508c" />
<rect x="114.14" y="180.32" width="1.75" height="0.45" fill="#34508c" />
<rect x="116.36" y="180.50" width="1.70" height="22.70" fill="#c3cde4" />
<rect x="116.36" y="180.50" width="0.70" height="22.70" fill="#34508c" />
<rect x="116.36" y="180.50" width="1.75" height="0.45" fill="#34508c" />
<rect x="118.59" y="180.93" width="1.70" height="22.27" fill="#c3cde4" />
<rect x="118.59" y="180.93" width="0.70" height="22.27" fill="#34508c" />
<rect x="118.59" y="180.93" width="1.75" height="0.45" fill="#34508c" />
<rect x="120.81" y="181.23" width="1.70" height="21.97" fill="#c3cde4" />
<rect x="120.81" y="181.23" width="0.70" height="21.97" fill="#34508c" />
<rect x="120.81" y="181.23" width="1.75" height="0.45" fill="#34508c" />
<rect x="123.04" y="181.53" width="1.70" height="21.67" fill="#c3cde4" />
<rect x="123.04" y="181.53" width="0.70" height="21.67" fill="#34508c" />
<rect x="123.04" y="181.53" width="1.75" height="0.45" fill="#34508c" />
<rect x="125.27" y="181.65" width="1.70" height="21.55" fill="#c3cde4" />
<rect x="125.27" y="181.65" width="0.70" height="21.55" fill="#34508c" />
<rect x="125.27" y="181.65" width="1.75" height="0.45" fill="#34508c" />
<rect x="127.49" y="181.83" width="1.70" height="21.37" fill="#c3cde4" />
<rect x="127.49" y="181.83" width="0.70" height="21.37" fill="#34508c" />
<rect x="127.49" y="181.83" width="1.75" height="0.45" fill="#34508c" />
<rect x="129.72" y="183.94" width="1.70" height="19.26" fill="#c3cde4" />
<rect x="129.72" y="183.94" width="0.70" height="19.26" fill="#34508c" />
<rect x="129.72" y="183.94" width="1.75" height="0.45" fill="#34508c" />
<rect x="131.94" y="188.75" width="1.70" height="14.45" fill="#c3cde4" />
<rect x="131.94" y="188.75" width="0.70" height="14.45" fill="#34508c" />
<rect x="131.94" y="188.75" width="1.75" height="0.45" fill="#34508c" />
<rect x="134.17" y="188.75" width="1.70" height="14.45" fill="#c3cde4" />
<rect x="134.17" y="188.75" width="0.70" height="14.45" fill="#34508c" />
<rect x="134.17" y="188.75" width="1.75" height="0.45" fill="#34508c" />
<rect x="136.40" y="188.75" width="1.70" height="14.45" fill="#c3cde4" />
<rect x="136.40" y="188.75" width="0.70" height="14.45" fill="#34508c" />
<rect x="136.40" y="188.75" width="1.75" height="0.45" fill="#34508c" />
<rect x="138.62" y="188.93" width="1.70" height="14.27" fill="#c3cde4" />
<rect x="138.62" y="188.93" width="0.70" height="14.27" fill="#34508c" />
<rect x="138.62" y="188.93" width="1.75" height="0.45" fill="#34508c" />
<rect x="140.85" y="190.56" width="1.70" height="12.64" fill="#c3cde4" />
<rect x="140.85" y="190.56" width="0.70" height="12.64" fill="#34508c" />
<rect x="140.85" y="190.56" width="1.75" height="0.45" fill="#34508c" />
<rect x="143.07" y="192.06" width="1.70" height="11.14" fill="#c3cde4" />
<rect x="143.07" y="192.06" width="0.70" height="11.14" fill="#34508c" />
<rect x="143.07" y="192.06" width="1.75" height="0.45" fill="#34508c" />
<rect x="145.30" y="192.36" width="1.70" height="10.84" fill="#c3cde4" />
<rect x="145.30" y="192.36" width="0.70" height="10.84" fill="#34508c" />
<rect x="145.30" y="192.36" width="1.75" height="0.45" fill="#34508c" />
<rect x="147.53" y="192.66" width="1.70" height="10.53" fill="#c3cde4" />
<rect x="147.53" y="192.66" width="0.70" height="10.53" fill="#34508c" />
<rect x="147.53" y="192.66" width="1.75" height="0.45" fill="#34508c" />
<rect x="149.75" y="196.58" width="1.70" height="6.62" fill="#c3cde4" />
<rect x="149.75" y="196.58" width="0.70" height="6.62" fill="#34508c" />
<rect x="149.75" y="196.58" width="1.75" height="0.45" fill="#34508c" />
<rect x="151.98" y="197.78" width="1.70" height="5.42" fill="#c3cde4" />
<rect x="151.98" y="197.78" width="0.70" height="5.42" fill="#34508c" />
<rect x="151.98" y="197.78" width="1.75" height="0.45" fill="#34508c" />
<rect x="154.20" y="197.96" width="1.70" height="5.24" fill="#c3cde4" />
<rect x="154.20" y="197.96" width="0.70" height="5.24" fill="#34508c" />
<rect x="154.20" y="197.96" width="1.75" height="0.45" fill="#34508c" />
<rect x="156.43" y="198.62" width="1.70" height="4.58" fill="#c3cde4" />
<rect x="156.43" y="198.62" width="0.70" height="4.58" fill="#34508c" />
<rect x="156.43" y="198.62" width="1.75" height="0.45" fill="#34508c" />
<rect x="158.66" y="198.75" width="1.70" height="4.45" fill="#c3cde4" />
<rect x="158.66" y="198.75" width="0.70" height="4.45" fill="#34508c" />
<rect x="158.66" y="198.75" width="1.75" height="0.45" fill="#34508c" />
<rect x="160.88" y="198.99" width="1.70" height="4.21" fill="#c3cde4" />
<rect x="160.88" y="198.99" width="0.70" height="4.21" fill="#34508c" />
<rect x="160.88" y="198.99" width="1.75" height="0.45" fill="#34508c" />
<rect x="163.11" y="199.59" width="1.70" height="3.61" fill="#c3cde4" />
<rect x="163.11" y="199.59" width="0.70" height="3.61" fill="#34508c" />
<rect x="163.11" y="199.59" width="1.75" height="0.45" fill="#34508c" />
<rect x="165.33" y="199.83" width="1.70" height="3.37" fill="#c3cde4" />
<rect x="165.33" y="199.83" width="0.70" height="3.37" fill="#34508c" />
<rect x="165.33" y="199.83" width="1.75" height="0.45" fill="#34508c" />
<rect x="167.56" y="200.01" width="1.70" height="3.19" fill="#c3cde4" />
<rect x="167.56" y="200.01" width="0.70" height="3.19" fill="#34508c" />
<rect x="167.56" y="200.01" width="1.75" height="0.45" fill="#34508c" />
<rect x="169.79" y="200.61" width="1.70" height="2.59" fill="#c3cde4" />
<rect x="169.79" y="200.61" width="0.70" height="2.59" fill="#34508c" />
<rect x="169.79" y="200.61" width="1.75" height="0.45" fill="#34508c" />
<rect x="172.01" y="200.85" width="1.70" height="2.35" fill="#c3cde4" />
<rect x="172.01" y="200.85" width="0.70" height="2.35" fill="#34508c" />
<rect x="172.01" y="200.85" width="1.75" height="0.45" fill="#34508c" />
<rect x="174.24" y="200.91" width="1.70" height="2.29" fill="#c3cde4" />
<rect x="174.24" y="200.91" width="0.70" height="2.29" fill="#34508c" />
<rect x="174.24" y="200.91" width="1.75" height="0.45" fill="#34508c" />
<rect x="176.46" y="201.15" width="1.70" height="2.05" fill="#c3cde4" />
<rect x="176.46" y="201.15" width="0.70" height="2.05" fill="#34508c" />
<rect x="176.46" y="201.15" width="1.75" height="0.45" fill="#34508c" />
<rect x="178.69" y="201.63" width="1.70" height="1.57" fill="#c3cde4" />
<rect x="178.69" y="201.63" width="0.70" height="1.57" fill="#34508c" />
<rect x="178.69" y="201.63" width="1.75" height="0.45" fill="#34508c" />
<rect x="180.92" y="201.94" width="1.70" height="1.26" fill="#c3cde4" />
<rect x="180.92" y="201.94" width="0.70" height="1.26" fill="#34508c" />
<rect x="180.92" y="201.94" width="1.75" height="0.45" fill="#34508c" />
<rect x="183.14" y="202.00" width="1.70" height="1.20" fill="#c3cde4" />
<rect x="183.14" y="202.00" width="0.70" height="1.20" fill="#34508c" />
<rect x="183.14" y="202.00" width="1.75" height="0.45" fill="#34508c" />
<rect x="185.37" y="202.12" width="1.70" height="1.08" fill="#c3cde4" />
<rect x="185.37" y="202.12" width="0.70" height="1.08" fill="#34508c" />
<rect x="185.37" y="202.12" width="1.75" height="0.45" fill="#34508c" />
<rect x="187.59" y="202.24" width="1.70" height="0.96" fill="#c3cde4" />
<rect x="187.59" y="202.24" width="0.70" height="0.96" fill="#34508c" />
<rect x="187.59" y="202.24" width="1.75" height="0.45" fill="#34508c" />
<rect x="189.82" y="202.30" width="1.70" height="0.90" fill="#c3cde4" />
<rect x="189.82" y="202.30" width="0.70" height="0.90" fill="#34508c" />
<rect x="189.82" y="202.30" width="1.75" height="0.45" fill="#34508c" />
<rect x="192.05" y="202.42" width="1.70" height="0.78" fill="#c3cde4" />
<rect x="192.05" y="202.42" width="0.70" height="0.78" fill="#34508c" />
<rect x="192.05" y="202.42" width="1.75" height="0.45" fill="#34508c" />
<rect x="194.27" y="202.48" width="1.70" height="0.72" fill="#c3cde4" />
<rect x="194.27" y="202.48" width="0.70" height="0.72" fill="#34508c" />
<rect x="194.27" y="202.48" width="1.75" height="0.45" fill="#34508c" />
<rect x="196.50" y="202.60" width="1.70" height="0.60" fill="#c3cde4" />
<rect x="196.50" y="202.60" width="0.70" height="0.60" fill="#34508c" />
<rect x="196.50" y="202.60" width="1.75" height="0.45" fill="#34508c" />
<rect x="198.72" y="202.66" width="1.70" height="0.54" fill="#c3cde4" />
<rect x="198.72" y="202.66" width="0.70" height="0.54" fill="#34508c" />
<rect x="198.72" y="202.66" width="1.75" height="0.45" fill="#34508c" />
<rect x="200.95" y="202.72" width="1.70" height="0.48" fill="#c3cde4" />
<rect x="200.95" y="202.72" width="0.70" height="0.48" fill="#34508c" />
<rect x="200.95" y="202.72" width="1.75" height="0.45" fill="#34508c" />
<rect x="203.18" y="202.78" width="1.70" height="0.42" fill="#c3cde4" />
<rect x="203.18" y="202.78" width="0.70" height="0.42" fill="#34508c" />
<rect x="203.18" y="202.78" width="1.75" height="0.45" fill="#34508c" />
<rect x="205.40" y="202.84" width="1.70" height="0.36" fill="#c3cde4" />
<rect x="205.40" y="202.84" width="0.70" height="0.36" fill="#34508c" />
<rect x="205.40" y="202.84" width="1.75" height="0.45" fill="#34508c" />
<rect x="207.63" y="202.84" width="1.70" height="0.36" fill="#c3cde4" />
<rect x="207.63" y="202.84" width="0.70" height="0.36" fill="#34508c" />
<rect x="207.63" y="202.84" width="1.75" height="0.45" fill="#34508c" />
<rect x="209.85" y="202.90" width="1.70" height="0.30" fill="#c3cde4" />
<rect x="209.85" y="202.90" width="0.70" height="0.30" fill="#34508c" />
<rect x="209.85" y="202.90" width="1.75" height="0.45" fill="#34508c" />
<rect x="212.08" y="202.90" width="1.70" height="0.30" fill="#c3cde4" />
<rect x="212.08" y="202.90" width="0.70" height="0.30" fill="#34508c" />
<rect x="212.08" y="202.90" width="1.75" height="0.45" fill="#34508c" />
<rect x="214.31" y="202.90" width="1.70" height="0.30" fill="#c3cde4" />
<rect x="214.31" y="202.90" width="0.70" height="0.30" fill="#34508c" />
<rect x="214.31" y="202.90" width="1.75" height="0.45" fill="#34508c" />
<rect x="216.53" y="202.90" width="1.70" height="0.30" fill="#c3cde4" />
<rect x="216.53" y="202.90" width="0.70" height="0.30" fill="#34508c" />
<rect x="216.53" y="202.90" width="1.75" height="0.45" fill="#34508c" />
<line x1="32.70" y1="142.40" x2="32.70" y2="203.70" stroke="#111" stroke-width="1.2" />
<line x1="32.60" y1="203.20" x2="219.30" y2="203.20" stroke="#111" stroke-width="1.0" />
<line x1="30.20" y1="203.20" x2="32.60" y2="203.20" stroke="#111" stroke-width="1.0" />
<text x="27.00" y="205.10" font-size="5.5" text-anchor="end" fill="#2a2a2a" stroke="#2a2a2a" stroke-width="0.14" >0</text>
<line x1="30.20" y1="191.16" x2="32.60" y2="191.16" stroke="#111" stroke-width="1.0" />
<text x="27.00" y="193.06" font-size="5.5" text-anchor="end" fill="#2a2a2a" textLength="5.60" lengthAdjust="spacingAndGlyphs" stroke="#2a2a2a" stroke-width="0.14" >20</text>
<line x1="30.20" y1="179.12" x2="32.60" y2="179.12" stroke="#111" stroke-width="1.0" />
<text x="27.00" y="181.02" font-size="5.5" text-anchor="end" fill="#2a2a2a" textLength="5.60" lengthAdjust="spacingAndGlyphs" stroke="#2a2a2a" stroke-width="0.14" >40</text>
<line x1="30.20" y1="167.08" x2="32.60" y2="167.08" stroke="#111" stroke-width="1.0" />
<text x="27.00" y="168.98" font-size="5.5" text-anchor="end" fill="#2a2a2a" textLength="5.60" lengthAdjust="spacingAndGlyphs" stroke="#2a2a2a" stroke-width="0.14" >60</text>
<line x1="30.20" y1="155.04" x2="32.60" y2="155.04" stroke="#111" stroke-width="1.0" />
<text x="27.00" y="156.94" font-size="5.5" text-anchor="end" fill="#2a2a2a" textLength="5.60" lengthAdjust="spacingAndGlyphs" stroke="#2a2a2a" stroke-width="0.14" >80</text>
<line x1="30.20" y1="143.00" x2="32.60" y2="143.00" stroke="#111" stroke-width="1.0" />
<text x="27.00" y="144.90" font-size="5.5" text-anchor="end" fill="#2a2a2a" textLength="8.30" lengthAdjust="spacingAndGlyphs" stroke="#2a2a2a" stroke-width="0.14" >100</text>
<text x="0.00" y="0.00" font-size="6.6" text-anchor="middle" fill="#2a2a2a" textLength="38.50" lengthAdjust="spacingAndGlyphs" stroke="#2a2a2a" stroke-width="0.14" transform="translate(13.4,172) rotate(-90)">% methylation</text>
<line x1="36.60" y1="140.5" x2="65.00" y2="140.5" stroke="#b8173c" stroke-width="1.4"/>
<path d="M32.60,140.5 L40.60,137.60 L37.56,140.5 L40.60,143.40 Z" fill="#b8173c"/>
<path d="M69.00,140.5 L61.00,137.60 L64.04,140.5 L61.00,143.40 Z" fill="#b8173c"/>
<line x1="73.60" y1="140.5" x2="125.60" y2="140.5" stroke="#eab31a" stroke-width="1.4"/>
<path d="M69.60,140.5 L77.60,137.60 L74.56,140.5 L77.60,143.40 Z" fill="#eab31a"/>
<path d="M129.60,140.5 L121.60,137.60 L124.64,140.5 L121.60,143.40 Z" fill="#eab31a"/>
<line x1="134.80" y1="140.5" x2="214.30" y2="140.5" stroke="#2c4a8a" stroke-width="1.4"/>
<path d="M130.80,140.5 L138.80,137.60 L135.76,140.5 L138.80,143.40 Z" fill="#2c4a8a"/>
<path d="M218.30,140.5 L210.30,137.60 L213.34,140.5 L210.30,143.40 Z" fill="#2c4a8a"/>
<text x="51.10" y="135.80" font-size="8.6" text-anchor="middle" fill="#1e1e1e" textLength="15.70" lengthAdjust="spacingAndGlyphs" stroke="#1e1e1e" stroke-width="0.14" >High</text>
<text x="100.00" y="135.80" font-size="8.6" text-anchor="middle" fill="#1e1e1e" textLength="42.70" lengthAdjust="spacingAndGlyphs" stroke="#1e1e1e" stroke-width="0.14" >Intermediate</text>
<text x="174.90" y="135.80" font-size="8.6" text-anchor="middle" fill="#1e1e1e" textLength="18.80" lengthAdjust="spacingAndGlyphs" stroke="#1e1e1e" stroke-width="0.14" >Weak</text>
<rect x="309.6" y="16.7" width="170" height="12.9" rx="3.2" fill="#ebc6de"/>
<text x="395.00" y="25.90" font-size="8.0" text-anchor="middle" fill="#1e1e1e" textLength="60.00" lengthAdjust="spacingAndGlyphs" stroke="#1e1e1e" stroke-width="0.14" >BCP-ALL cell lines</text>
<text x="306.80" y="41.30" font-size="7.8" text-anchor="middle" fill="#1e1e1e" textLength="18.10" lengthAdjust="spacingAndGlyphs" stroke="#1e1e1e" stroke-width="0.14" >Weak</text>
<text x="394.80" y="41.30" font-size="7.8" text-anchor="middle" fill="#1e1e1e" textLength="42.20" lengthAdjust="spacingAndGlyphs" stroke="#1e1e1e" stroke-width="0.14" >Intermediate</text>
<text x="482.00" y="41.30" font-size="7.8" text-anchor="middle" fill="#1e1e1e" textLength="14.90" lengthAdjust="spacingAndGlyphs" stroke="#1e1e1e" stroke-width="0.14" >High</text>
<rect x="278.70" y="47.91" width="2.30" height="62.99" fill="#24407f" stroke="#1a2f66" stroke-width="0.3"/>
<rect x="281.30" y="110.04" width="2.30" height="0.86" fill="#24407f" stroke="#1a2f66" stroke-width="0.3"/>
<rect x="333.80" y="110.10" width="2.30" height="0.80" fill="#24407f" stroke="#1a2f66" stroke-width="0.3"/>
<line x1="276.80" y1="110.90" x2="337.70" y2="110.90" stroke="#7d7d7d" stroke-width="1.1" />
<line x1="276.30" y1="45.90" x2="276.30" y2="114.50" stroke="#111" stroke-width="0.95" />
<line x1="276.30" y1="113.90" x2="337.70" y2="113.90" stroke="#1a1a1a" stroke-width="1.2" />
<line x1="278.40" y1="113.90" x2="278.40" y2="116.90" stroke="#111" stroke-width="1.0" />
<line x1="289.80" y1="113.90" x2="289.80" y2="116.90" stroke="#111" stroke-width="1.0" />
<line x1="301.10" y1="113.90" x2="301.10" y2="116.90" stroke="#111" stroke-width="1.0" />
<line x1="312.60" y1="113.90" x2="312.60" y2="116.90" stroke="#111" stroke-width="1.0" />
<line x1="324.10" y1="113.90" x2="324.10" y2="116.90" stroke="#111" stroke-width="1.0" />
<line x1="335.70" y1="113.90" x2="335.70" y2="116.90" stroke="#111" stroke-width="1.0" />
<line x1="273.10" y1="110.90" x2="276.30" y2="110.90" stroke="#111" stroke-width="1.0" />
<text x="270.30" y="112.65" font-size="5.0" text-anchor="end" fill="#262626" stroke="#262626" stroke-width="0.14" >0</text>
<line x1="273.10" y1="104.27" x2="276.30" y2="104.27" stroke="#111" stroke-width="1.0" />
<text x="270.30" y="106.02" font-size="5.0" text-anchor="end" fill="#262626" stroke="#262626" stroke-width="0.14" >10</text>
<line x1="273.10" y1="97.64" x2="276.30" y2="97.64" stroke="#111" stroke-width="1.0" />
<text x="270.30" y="99.39" font-size="5.0" text-anchor="end" fill="#262626" stroke="#262626" stroke-width="0.14" >20</text>
<line x1="273.10" y1="91.01" x2="276.30" y2="91.01" stroke="#111" stroke-width="1.0" />
<text x="270.30" y="92.76" font-size="5.0" text-anchor="end" fill="#262626" stroke="#262626" stroke-width="0.14" >30</text>
<line x1="273.10" y1="84.38" x2="276.30" y2="84.38" stroke="#111" stroke-width="1.0" />
<text x="270.30" y="86.13" font-size="5.0" text-anchor="end" fill="#262626" stroke="#262626" stroke-width="0.14" >40</text>
<line x1="273.10" y1="77.75" x2="276.30" y2="77.75" stroke="#111" stroke-width="1.0" />
<text x="270.30" y="79.50" font-size="5.0" text-anchor="end" fill="#262626" stroke="#262626" stroke-width="0.14" >50</text>
<line x1="273.10" y1="71.12" x2="276.30" y2="71.12" stroke="#111" stroke-width="1.0" />
<text x="270.30" y="72.87" font-size="5.0" text-anchor="end" fill="#262626" stroke="#262626" stroke-width="0.14" >60</text>
<line x1="273.10" y1="64.49" x2="276.30" y2="64.49" stroke="#111" stroke-width="1.0" />
<text x="270.30" y="66.24" font-size="5.0" text-anchor="end" fill="#262626" stroke="#262626" stroke-width="0.14" >70</text>
<line x1="273.10" y1="57.86" x2="276.30" y2="57.86" stroke="#111" stroke-width="1.0" />
<text x="270.30" y="59.61" font-size="5.0" text-anchor="end" fill="#262626" stroke="#262626" stroke-width="0.14" >80</text>
<line x1="273.10" y1="51.23" x2="276.30" y2="51.23" stroke="#111" stroke-width="1.0" />
<text x="270.30" y="52.98" font-size="5.0" text-anchor="end" fill="#262626" stroke="#262626" stroke-width="0.14" >90</text>
<text x="0.00" y="0.00" font-size="7.5" text-anchor="middle" fill="#262626" textLength="26.40" lengthAdjust="spacingAndGlyphs" stroke="#262626" stroke-width="0.14" transform="translate(259.30,79.2) rotate(-90)">NGS reads</text>
<defs><linearGradient id="g1" x1="0" x2="1" y1="0" y2="0"><stop offset="0" stop-color="#cfe7ef"/><stop offset="0.5" stop-color="#fbf4cf"/><stop offset="1" stop-color="#eecde5"/></linearGradient></defs>
<rect x="275.80" y="119.50" width="62.50" height="9.70" fill="url(#g1)" />
<text x="278.40" y="126.60" font-size="6.0" text-anchor="start" fill="#2a2a2a" textLength="10.00" lengthAdjust="spacingAndGlyphs" stroke="#2a2a2a" stroke-width="0.14" >Low</text>
<text x="336.30" y="126.80" font-size="6.0" text-anchor="end" fill="#2a2a2a" textLength="11.40" lengthAdjust="spacingAndGlyphs" stroke="#2a2a2a" stroke-width="0.14" >High</text>
<text x="307.10" y="138.60" font-size="7.3" text-anchor="middle" fill="#262626" textLength="37.50" lengthAdjust="spacingAndGlyphs" stroke="#262626" stroke-width="0.14" >% methylation</text>
<rect x="366.20" y="47.25" width="2.30" height="63.65" fill="#24407f" stroke="#1a2f66" stroke-width="0.3"/>
<rect x="369.03" y="106.09" width="2.30" height="4.81" fill="#24407f" stroke="#1a2f66" stroke-width="0.3"/>
<rect x="371.86" y="107.87" width="2.30" height="3.03" fill="#24407f" stroke="#1a2f66" stroke-width="0.3"/>
<rect x="374.69" y="109.83" width="2.30" height="1.07" fill="#24407f" stroke="#1a2f66" stroke-width="0.3"/>
<rect x="377.52" y="109.83" width="2.30" height="1.07" fill="#24407f" stroke="#1a2f66" stroke-width="0.3"/>
<rect x="380.35" y="108.23" width="2.30" height="2.67" fill="#24407f" stroke="#1a2f66" stroke-width="0.3"/>
<rect x="383.18" y="105.55" width="2.30" height="5.35" fill="#24407f" stroke="#1a2f66" stroke-width="0.3"/>
<rect x="386.01" y="109.83" width="2.30" height="1.07" fill="#24407f" stroke="#1a2f66" stroke-width="0.3"/>
<rect x="388.84" y="110.19" width="2.30" height="0.71" fill="#24407f" stroke="#1a2f66" stroke-width="0.3"/>
<rect x="394.50" y="109.83" width="2.30" height="1.07" fill="#24407f" stroke="#1a2f66" stroke-width="0.3"/>
<rect x="400.16" y="108.58" width="2.30" height="2.32" fill="#24407f" stroke="#1a2f66" stroke-width="0.3"/>
<rect x="402.99" y="107.51" width="2.30" height="3.39" fill="#24407f" stroke="#1a2f66" stroke-width="0.3"/>
<rect x="405.82" y="106.44" width="2.30" height="4.46" fill="#24407f" stroke="#1a2f66" stroke-width="0.3"/>
<rect x="408.65" y="108.94" width="2.30" height="1.96" fill="#24407f" stroke="#1a2f66" stroke-width="0.3"/>
<rect x="411.48" y="105.02" width="2.30" height="5.88" fill="#24407f" stroke="#1a2f66" stroke-width="0.3"/>
<rect x="414.31" y="105.02" width="2.30" height="5.88" fill="#24407f" stroke="#1a2f66" stroke-width="0.3"/>
<rect x="417.14" y="94.85" width="2.30" height="16.05" fill="#24407f" stroke="#1a2f66" stroke-width="0.3"/>
<rect x="419.97" y="59.19" width="2.30" height="51.71" fill="#24407f" stroke="#1a2f66" stroke-width="0.3"/>
<line x1="365.30" y1="110.90" x2="425.00" y2="110.90" stroke="#7d7d7d" stroke-width="1.1" />
<line x1="364.80" y1="45.90" x2="364.80" y2="114.50" stroke="#111" stroke-width="0.95" />
<line x1="364.80" y1="113.90" x2="425.00" y2="113.90" stroke="#1a1a1a" stroke-width="1.2" />
<line x1="365.70" y1="113.90" x2="365.70" y2="116.90" stroke="#111" stroke-width="1.0" />
<line x1="377.20" y1="113.90" x2="377.20" y2="116.90" stroke="#111" stroke-width="1.0" />
<line x1="388.70" y1="113.90" x2="388.70" y2="116.90" stroke="#111" stroke-width="1.0" />
<line x1="400.30" y1="113.90" x2="400.30" y2="116.90" stroke="#111" stroke-width="1.0" />
<line x1="411.80" y1="113.90" x2="411.80" y2="116.90" stroke="#111" stroke-width="1.0" />
<line x1="423.30" y1="113.90" x2="423.30" y2="116.90" stroke="#111" stroke-width="1.0" />
<line x1="361.60" y1="110.90" x2="364.80" y2="110.90" stroke="#111" stroke-width="1.0" />
<text x="358.80" y="112.65" font-size="5.0" text-anchor="end" fill="#262626" stroke="#262626" stroke-width="0.14" >0</text>
<line x1="361.60" y1="93.07" x2="364.80" y2="93.07" stroke="#111" stroke-width="1.0" />
<text x="358.80" y="94.82" font-size="5.0" text-anchor="end" fill="#262626" stroke="#262626" stroke-width="0.14" >10</text>
<line x1="361.60" y1="75.24" x2="364.80" y2="75.24" stroke="#111" stroke-width="1.0" />
<text x="358.80" y="76.99" font-size="5.0" text-anchor="end" fill="#262626" stroke="#262626" stroke-width="0.14" >20</text>
<line x1="361.60" y1="57.41" x2="364.80" y2="57.41" stroke="#111" stroke-width="1.0" />
<text x="358.80" y="59.16" font-size="5.0" text-anchor="end" fill="#262626" stroke="#262626" stroke-width="0.14" >30</text>
<text x="0.00" y="0.00" font-size="7.5" text-anchor="middle" fill="#262626" textLength="26.40" lengthAdjust="spacingAndGlyphs" stroke="#262626" stroke-width="0.14" transform="translate(347.30,79.2) rotate(-90)">NGS reads</text>
<defs><linearGradient id="g2" x1="0" x2="1" y1="0" y2="0"><stop offset="0" stop-color="#cfe7ef"/><stop offset="0.5" stop-color="#fbf4cf"/><stop offset="1" stop-color="#eecde5"/></linearGradient></defs>
<rect x="364.30" y="119.50" width="61.30" height="9.70" fill="url(#g2)" />
<text x="366.90" y="126.60" font-size="6.0" text-anchor="start" fill="#2a2a2a" textLength="10.00" lengthAdjust="spacingAndGlyphs" stroke="#2a2a2a" stroke-width="0.14" >Low</text>
<text x="423.60" y="126.80" font-size="6.0" text-anchor="end" fill="#2a2a2a" textLength="11.40" lengthAdjust="spacingAndGlyphs" stroke="#2a2a2a" stroke-width="0.14" >High</text>
<text x="395.00" y="138.60" font-size="7.3" text-anchor="middle" fill="#262626" textLength="37.50" lengthAdjust="spacingAndGlyphs" stroke="#262626" stroke-width="0.14" >% methylation</text>
<rect x="497.48" y="109.60" width="2.30" height="1.30" fill="#24407f" stroke="#1a2f66" stroke-width="0.3"/>
<rect x="500.26" y="108.30" width="2.30" height="2.60" fill="#24407f" stroke="#1a2f66" stroke-width="0.3"/>
<rect x="503.04" y="107.44" width="2.30" height="3.46" fill="#24407f" stroke="#1a2f66" stroke-width="0.3"/>
<rect x="505.82" y="97.91" width="2.30" height="12.99" fill="#24407f" stroke="#1a2f66" stroke-width="0.3"/>
<rect x="508.60" y="45.95" width="2.30" height="64.95" fill="#24407f" stroke="#1a2f66" stroke-width="0.3"/>
<line x1="452.00" y1="110.90" x2="512.60" y2="110.90" stroke="#7d7d7d" stroke-width="1.1" />
<line x1="451.50" y1="45.90" x2="451.50" y2="114.50" stroke="#111" stroke-width="0.95" />
<line x1="451.50" y1="113.90" x2="512.60" y2="113.90" stroke="#1a1a1a" stroke-width="1.2" />
<line x1="453.70" y1="113.90" x2="453.70" y2="116.90" stroke="#111" stroke-width="1.0" />
<line x1="465.20" y1="113.90" x2="465.20" y2="116.90" stroke="#111" stroke-width="1.0" />
<line x1="476.60" y1="113.90" x2="476.60" y2="116.90" stroke="#111" stroke-width="1.0" />
<line x1="488.10" y1="113.90" x2="488.10" y2="116.90" stroke="#111" stroke-width="1.0" />
<line x1="499.50" y1="113.90" x2="499.50" y2="116.90" stroke="#111" stroke-width="1.0" />
<line x1="511.00" y1="113.90" x2="511.00" y2="116.90" stroke="#111" stroke-width="1.0" />
<line x1="448.30" y1="110.90" x2="451.50" y2="110.90" stroke="#111" stroke-width="1.0" />
<text x="445.50" y="112.65" font-size="5.0" text-anchor="end" fill="#262626" stroke="#262626" stroke-width="0.14" >0</text>
<line x1="448.30" y1="102.24" x2="451.50" y2="102.24" stroke="#111" stroke-width="1.0" />
<text x="445.50" y="103.99" font-size="5.0" text-anchor="end" fill="#262626" stroke="#262626" stroke-width="0.14" >10</text>
<line x1="448.30" y1="93.58" x2="451.50" y2="93.58" stroke="#111" stroke-width="1.0" />
<text x="445.50" y="95.33" font-size="5.0" text-anchor="end" fill="#262626" stroke="#262626" stroke-width="0.14" >20</text>
<line x1="448.30" y1="84.92" x2="451.50" y2="84.92" stroke="#111" stroke-width="1.0" />
<text x="445.50" y="86.67" font-size="5.0" text-anchor="end" fill="#262626" stroke="#262626" stroke-width="0.14" >30</text>
<line x1="448.30" y1="76.26" x2="451.50" y2="76.26" stroke="#111" stroke-width="1.0" />
<text x="445.50" y="78.01" font-size="5.0" text-anchor="end" fill="#262626" stroke="#262626" stroke-width="0.14" >40</text>
<line x1="448.30" y1="67.60" x2="451.50" y2="67.60" stroke="#111" stroke-width="1.0" />
<text x="445.50" y="69.35" font-size="5.0" text-anchor="end" fill="#262626" stroke="#262626" stroke-width="0.14" >50</text>
<line x1="448.30" y1="58.94" x2="451.50" y2="58.94" stroke="#111" stroke-width="1.0" />
<text x="445.50" y="60.69" font-size="5.0" text-anchor="end" fill="#262626" stroke="#262626" stroke-width="0.14" >60</text>
<line x1="448.30" y1="50.28" x2="451.50" y2="50.28" stroke="#111" stroke-width="1.0" />
<text x="445.50" y="52.03" font-size="5.0" text-anchor="end" fill="#262626" stroke="#262626" stroke-width="0.14" >70</text>
<text x="0.00" y="0.00" font-size="7.5" text-anchor="middle" fill="#262626" textLength="26.40" lengthAdjust="spacingAndGlyphs" stroke="#262626" stroke-width="0.14" transform="translate(434.10,79.2) rotate(-90)">NGS reads</text>
<defs><linearGradient id="g3" x1="0" x2="1" y1="0" y2="0"><stop offset="0" stop-color="#cfe7ef"/><stop offset="0.5" stop-color="#fbf4cf"/><stop offset="1" stop-color="#eecde5"/></linearGradient></defs>
<rect x="451.00" y="119.50" width="62.20" height="9.70" fill="url(#g3)" />
<text x="453.60" y="126.60" font-size="6.0" text-anchor="start" fill="#2a2a2a" textLength="10.00" lengthAdjust="spacingAndGlyphs" stroke="#2a2a2a" stroke-width="0.14" >Low</text>
<text x="511.20" y="126.80" font-size="6.0" text-anchor="end" fill="#2a2a2a" textLength="11.40" lengthAdjust="spacingAndGlyphs" stroke="#2a2a2a" stroke-width="0.14" >High</text>
<text x="482.15" y="138.60" font-size="7.3" text-anchor="middle" fill="#262626" textLength="37.50" lengthAdjust="spacingAndGlyphs" stroke="#262626" stroke-width="0.14" >% methylation</text>
<text x="85.90" y="232.20" font-size="5.4" text-anchor="middle" fill="#222" stroke="#222" stroke-width="0.14" >KOCL50</text>
<line x1="74.60" y1="236.60" x2="97.20" y2="236.60" stroke="#111" stroke-width="1.2" />
<text x="120.60" y="232.20" font-size="5.4" text-anchor="middle" fill="#222" stroke="#222" stroke-width="0.14" >YAMN73</text>
<line x1="109.30" y1="236.60" x2="131.90" y2="236.60" stroke="#111" stroke-width="1.2" />
<text x="155.50" y="232.20" font-size="5.4" text-anchor="middle" fill="#222" stroke="#222" stroke-width="0.14" >KOPN1</text>
<line x1="144.20" y1="236.60" x2="166.80" y2="236.60" stroke="#111" stroke-width="1.2" />
<text x="190.50" y="232.20" font-size="5.4" text-anchor="middle" fill="#222" stroke="#222" stroke-width="0.14" >KOPN85</text>
<line x1="179.20" y1="236.60" x2="201.80" y2="236.60" stroke="#111" stroke-width="1.2" />
<text x="77.20" y="246.00" font-size="4.8" text-anchor="middle" fill="#333" stroke="#333" stroke-width="0.14" >(-)</text>
<text x="95.00" y="246.00" font-size="4.8" text-anchor="middle" fill="#333" stroke="#333" stroke-width="0.14" >(+)</text>
<text x="112.00" y="246.00" font-size="4.8" text-anchor="middle" fill="#333" stroke="#333" stroke-width="0.14" >(-)</text>
<text x="129.60" y="246.00" font-size="4.8" text-anchor="middle" fill="#333" stroke="#333" stroke-width="0.14" >(+)</text>
<text x="147.60" y="246.00" font-size="4.8" text-anchor="middle" fill="#333" stroke="#333" stroke-width="0.14" >(-)</text>
<text x="165.60" y="246.00" font-size="4.8" text-anchor="middle" fill="#333" stroke="#333" stroke-width="0.14" >(+)</text>
<text x="183.20" y="246.00" font-size="4.8" text-anchor="middle" fill="#333" stroke="#333" stroke-width="0.14" >(-)</text>
<text x="201.00" y="246.00" font-size="4.8" text-anchor="middle" fill="#333" stroke="#333" stroke-width="0.14" >(+)</text>
<text x="20.00" y="246.00" font-size="5.3" text-anchor="start" fill="#222" textLength="19.90" lengthAdjust="spacingAndGlyphs" stroke="#222" stroke-width="0.14" ><tspan font-style="italic">Aor</tspan>13HI</text>
<text x="20.00" y="258.80" font-size="5.4" text-anchor="start" fill="#222" textLength="17.00" lengthAdjust="spacingAndGlyphs" stroke="#222" stroke-width="0.14" >200 bp</text>
<text x="20.00" y="281.20" font-size="5.4" text-anchor="start" fill="#222" textLength="17.00" lengthAdjust="spacingAndGlyphs" stroke="#222" stroke-width="0.14" >100 bp</text>
<line x1="39.50" y1="256.90" x2="43.70" y2="256.90" stroke="#222" stroke-width="1.0" />
<line x1="39.50" y1="279.30" x2="43.70" y2="279.30" stroke="#222" stroke-width="1.0" />
<defs><filter id="blr" x="-50%" y="-100%" width="200%" height="300%"><feGaussianBlur stdDeviation="0.7"/></filter><filter id="blr2" x="-50%" y="-100%" width="200%" height="300%"><feGaussianBlur stdDeviation="0.6"/></filter><linearGradient id="gelg" x1="0" x2="0" y1="0" y2="1"><stop offset="0" stop-color="#2a2a2a"/><stop offset="1" stop-color="#202020"/></linearGradient></defs>
<rect x="47.40" y="250.80" width="162.60" height="31.70" fill="#141414" />
<rect x="48.20" y="251.60" width="161.00" height="30.10" fill="url(#gelg)" />
<g filter="url(#blr2)">
<path d="M52.8,257.6 Q53.6,254.8 57.2,255.3 Q60,256.4 62.2,255.4 Q65.2,255.2 65.2,257.4 Q65,259.3 61.6,259.0 Q59,258.2 56.4,259.2 Q52.8,259.8 52.8,257.6 Z" fill="#ffffff"/>
<path d="M53.0,278.4 Q53.8,276.2 57.2,276.7 Q60,277.5 62.2,276.6 Q65.0,276.5 65.0,278.1 Q64.8,279.8 61.4,279.6 Q59,278.9 56.4,279.8 Q53.0,280.3 53.0,278.4 Z" fill="#d8d8d8"/>
</g>
<g filter="url(#blr)">
<rect x="71.60" y="268.45" width="11.2" height="3.10" rx="2" fill="#ffffff"/>
<rect x="71.60" y="272.20" width="11.2" height="3.20" rx="2" fill="#7e7e7e"/>
<rect x="89.40" y="267.95" width="11.2" height="3.90" rx="2" fill="#ffffff"/>
<rect x="106.40" y="268.25" width="11.2" height="3.10" rx="2" fill="#ffffff"/>
<rect x="106.40" y="272.00" width="11.2" height="3.20" rx="2" fill="#969696"/>
<rect x="124.00" y="271.80" width="11.2" height="3.20" rx="2" fill="#f4f4f4"/>
<rect x="142.00" y="267.85" width="11.2" height="3.10" rx="2" fill="#f0f0f0"/>
<rect x="142.00" y="271.60" width="11.2" height="3.20" rx="2" fill="#969696"/>
<rect x="160.00" y="267.55" width="11.2" height="3.90" rx="2" fill="#ffffff"/>
<rect x="177.60" y="267.85" width="11.2" height="3.10" rx="2" fill="#e8e8e8"/>
<rect x="177.60" y="271.60" width="11.2" height="3.20" rx="2" fill="#949494"/>
<rect x="195.40" y="272.20" width="11.2" height="3.00" rx="2" fill="#a8a8a8"/>
</g>
<text x="225.00" y="262.30" font-size="5.0" text-anchor="start" fill="#333" stroke="#333" stroke-width="0.14" >(3R)</text>
<text x="225.00" y="284.20" font-size="5.0" text-anchor="start" fill="#333" stroke="#333" stroke-width="0.14" >(2R)</text>
<line x1="212.00" y1="268.90" x2="217.70" y2="268.90" stroke="#222" stroke-width="1.0" />
<line x1="212.00" y1="274.00" x2="217.70" y2="274.00" stroke="#222" stroke-width="1.0" />
<text x="221.00" y="270.80" font-size="5.4" text-anchor="start" fill="#222" textLength="17.00" lengthAdjust="spacingAndGlyphs" stroke="#222" stroke-width="0.14" >131 bp</text>
<text x="221.00" y="276.20" font-size="5.4" text-anchor="start" fill="#222" textLength="17.00" lengthAdjust="spacingAndGlyphs" stroke="#222" stroke-width="0.14" >117 bp</text>
<text x="7.40" y="293.20" font-size="5.4" text-anchor="start" fill="#222" textLength="42.70" lengthAdjust="spacingAndGlyphs" stroke="#222" stroke-width="0.14" ><tspan font-style="italic">ASNS</tspan> methylation</text>
<text x="85.00" y="293.20" font-size="5.2" text-anchor="middle" fill="#222" textLength="14.80" lengthAdjust="spacingAndGlyphs" stroke="#222" stroke-width="0.14" >58.4%</text>
<text x="120.40" y="293.20" font-size="5.2" text-anchor="middle" fill="#222" textLength="14.80" lengthAdjust="spacingAndGlyphs" stroke="#222" stroke-width="0.14" >36.3%</text>
<text x="155.10" y="293.20" font-size="5.2" text-anchor="middle" fill="#222" textLength="14.80" lengthAdjust="spacingAndGlyphs" stroke="#222" stroke-width="0.14" >44.4%</text>
<text x="190.00" y="293.20" font-size="5.2" text-anchor="middle" fill="#222" textLength="14.80" lengthAdjust="spacingAndGlyphs" stroke="#222" stroke-width="0.14" >35.7%</text>
<rect x="71.40" y="301.20" width="2.00" height="49.40" fill="#454d66" />
<rect x="73.40" y="347.20" width="2.00" height="3.40" fill="#454d66" />
<rect x="75.40" y="349.00" width="2.10" height="1.60" fill="#454d66" />
<rect x="77.50" y="348.60" width="2.70" height="2.00" fill="#454d66" />
<rect x="82.70" y="349.90" width="4.80" height="0.70" fill="#454d66" />
<rect x="87.50" y="347.00" width="2.40" height="3.60" fill="#454d66" />
<rect x="89.90" y="345.40" width="2.40" height="5.20" fill="#454d66" />
<rect x="92.30" y="331.70" width="2.00" height="18.90" fill="#454d66" />
<rect x="94.30" y="302.80" width="2.50" height="47.80" fill="#454d66" />
<line x1="73.40" y1="347.20" x2="73.40" y2="350.60" stroke="#ffffff" stroke-width="0.3" stroke-opacity="0.3"/>
<line x1="75.40" y1="349.00" x2="75.40" y2="350.60" stroke="#ffffff" stroke-width="0.3" stroke-opacity="0.3"/>
<line x1="77.50" y1="349.00" x2="77.50" y2="350.60" stroke="#ffffff" stroke-width="0.3" stroke-opacity="0.3"/>
<line x1="82.70" y1="349.90" x2="82.70" y2="350.60" stroke="#ffffff" stroke-width="0.3" stroke-opacity="0.3"/>
<line x1="87.50" y1="349.90" x2="87.50" y2="350.60" stroke="#ffffff" stroke-width="0.3" stroke-opacity="0.3"/>
<line x1="89.90" y1="347.00" x2="89.90" y2="350.60" stroke="#ffffff" stroke-width="0.3" stroke-opacity="0.3"/>
<line x1="92.30" y1="345.40" x2="92.30" y2="350.60" stroke="#ffffff" stroke-width="0.3" stroke-opacity="0.3"/>
<line x1="94.30" y1="331.70" x2="94.30" y2="350.60" stroke="#ffffff" stroke-width="0.3" stroke-opacity="0.3"/>
<rect x="107.20" y="301.20" width="2.10" height="49.40" fill="#454d66" />
<rect x="109.30" y="349.90" width="6.70" height="0.70" fill="#454d66" />
<rect x="116.00" y="350.10" width="7.30" height="0.50" fill="#454d66" />
<rect x="123.30" y="349.00" width="2.40" height="1.60" fill="#454d66" />
<rect x="125.70" y="349.40" width="2.40" height="1.20" fill="#454d66" />
<rect x="128.10" y="345.80" width="2.40" height="4.80" fill="#454d66" />
<rect x="130.50" y="326.60" width="2.40" height="24.00" fill="#454d66" />
<line x1="109.30" y1="349.90" x2="109.30" y2="350.60" stroke="#ffffff" stroke-width="0.3" stroke-opacity="0.3"/>
<line x1="116.00" y1="350.10" x2="116.00" y2="350.60" stroke="#ffffff" stroke-width="0.3" stroke-opacity="0.3"/>
<line x1="123.30" y1="350.10" x2="123.30" y2="350.60" stroke="#ffffff" stroke-width="0.3" stroke-opacity="0.3"/>
<line x1="125.70" y1="349.40" x2="125.70" y2="350.60" stroke="#ffffff" stroke-width="0.3" stroke-opacity="0.3"/>
<line x1="128.10" y1="349.40" x2="128.10" y2="350.60" stroke="#ffffff" stroke-width="0.3" stroke-opacity="0.3"/>
<line x1="130.50" y1="345.80" x2="130.50" y2="350.60" stroke="#ffffff" stroke-width="0.3" stroke-opacity="0.3"/>
<rect x="143.10" y="301.20" width="2.10" height="49.40" fill="#454d66" />
<rect x="145.20" y="349.90" width="7.20" height="0.70" fill="#454d66" />
<rect x="152.40" y="350.20" width="6.50" height="0.40" fill="#454d66" />
<rect x="158.90" y="349.70" width="2.90" height="0.90" fill="#454d66" />
<rect x="161.80" y="349.00" width="2.40" height="1.60" fill="#454d66" />
<rect x="164.20" y="339.00" width="2.40" height="11.60" fill="#454d66" />
<rect x="166.60" y="330.10" width="2.00" height="20.50" fill="#454d66" />
<line x1="145.20" y1="349.90" x2="145.20" y2="350.60" stroke="#ffffff" stroke-width="0.3" stroke-opacity="0.3"/>
<line x1="152.40" y1="350.20" x2="152.40" y2="350.60" stroke="#ffffff" stroke-width="0.3" stroke-opacity="0.3"/>
<line x1="158.90" y1="350.20" x2="158.90" y2="350.60" stroke="#ffffff" stroke-width="0.3" stroke-opacity="0.3"/>
<line x1="161.80" y1="349.70" x2="161.80" y2="350.60" stroke="#ffffff" stroke-width="0.3" stroke-opacity="0.3"/>
<line x1="164.20" y1="349.00" x2="164.20" y2="350.60" stroke="#ffffff" stroke-width="0.3" stroke-opacity="0.3"/>
<line x1="166.60" y1="339.00" x2="166.60" y2="350.60" stroke="#ffffff" stroke-width="0.3" stroke-opacity="0.3"/>
<rect x="179.00" y="301.20" width="2.40" height="49.40" fill="#454d66" />
<rect x="181.40" y="334.10" width="1.90" height="16.50" fill="#454d66" />
<rect x="183.30" y="340.00" width="2.60" height="10.60" fill="#454d66" />
<rect x="185.90" y="339.00" width="2.30" height="11.60" fill="#454d66" />
<rect x="188.20" y="344.90" width="2.40" height="5.70" fill="#454d66" />
<rect x="190.60" y="336.00" width="2.40" height="14.60" fill="#454d66" />
<rect x="193.00" y="332.00" width="2.40" height="18.60" fill="#454d66" />
<rect x="195.40" y="323.70" width="2.10" height="26.90" fill="#454d66" />
<rect x="197.50" y="345.80" width="2.40" height="4.80" fill="#454d66" />
<rect x="199.90" y="348.60" width="2.10" height="2.00" fill="#454d66" />
<rect x="202.00" y="341.00" width="2.20" height="9.60" fill="#454d66" />
<line x1="181.40" y1="334.10" x2="181.40" y2="350.60" stroke="#ffffff" stroke-width="0.3" stroke-opacity="0.3"/>
<line x1="183.30" y1="340.00" x2="183.30" y2="350.60" stroke="#ffffff" stroke-width="0.3" stroke-opacity="0.3"/>
<line x1="185.90" y1="340.00" x2="185.90" y2="350.60" stroke="#ffffff" stroke-width="0.3" stroke-opacity="0.3"/>
<line x1="188.20" y1="344.90" x2="188.20" y2="350.60" stroke="#ffffff" stroke-width="0.3" stroke-opacity="0.3"/>
<line x1="190.60" y1="344.90" x2="190.60" y2="350.60" stroke="#ffffff" stroke-width="0.3" stroke-opacity="0.3"/>
<line x1="193.00" y1="336.00" x2="193.00" y2="350.60" stroke="#ffffff" stroke-width="0.3" stroke-opacity="0.3"/>
<line x1="195.40" y1="332.00" x2="195.40" y2="350.60" stroke="#ffffff" stroke-width="0.3" stroke-opacity="0.3"/>
<line x1="197.50" y1="345.80" x2="197.50" y2="350.60" stroke="#ffffff" stroke-width="0.3" stroke-opacity="0.3"/>
<line x1="199.90" y1="348.60" x2="199.90" y2="350.60" stroke="#ffffff" stroke-width="0.3" stroke-opacity="0.3"/>
<line x1="202.00" y1="348.60" x2="202.00" y2="350.60" stroke="#ffffff" stroke-width="0.3" stroke-opacity="0.3"/>
<line x1="66.20" y1="355.60" x2="66.20" y2="327.50" stroke="#1a1a1a" stroke-width="1.0" />
<path d="M66.2,324.8 L63.9,330.2 L68.5,330.2 Z" fill="#1a1a1a"/>
<line x1="66.20" y1="355.60" x2="93.50" y2="355.60" stroke="#1a1a1a" stroke-width="1.0" />
<path d="M96.8,355.6 L91.4,353.3 L91.4,357.9 Z" fill="#1a1a1a"/>
<text x="0.00" y="0.00" font-size="7.2" text-anchor="middle" fill="#2a2a2a" textLength="27.40" lengthAdjust="spacingAndGlyphs" stroke="#2a2a2a" stroke-width="0.14" transform="translate(61.6,339.7) rotate(-90)">NGS reads</text>
<text x="81.80" y="364.90" font-size="7.0" text-anchor="middle" fill="#2a2a2a" textLength="36.10" lengthAdjust="spacingAndGlyphs" stroke="#2a2a2a" stroke-width="0.14" >% methylation</text>
<text x="248.80" y="190.40" font-size="5.3" text-anchor="start" fill="#222" textLength="54.30" lengthAdjust="spacingAndGlyphs" stroke="#222" stroke-width="0.14" >Cell line % methylation</text>
<text x="321.30" y="180.30" font-size="5.3" text-anchor="middle" fill="#222" stroke="#222" stroke-width="0.14" >MBOK</text>
<text x="321.30" y="189.80" font-size="5.3" text-anchor="middle" fill="#5474ae" stroke="#5474ae" stroke-width="0.14" >3.5%</text>
<text x="359.80" y="180.30" font-size="5.3" text-anchor="middle" fill="#222" stroke="#222" stroke-width="0.14" >P30/OHK</text>
<text x="359.80" y="189.80" font-size="5.3" text-anchor="middle" fill="#5474ae" stroke="#5474ae" stroke-width="0.14" >1.8%</text>
<text x="398.40" y="180.30" font-size="5.3" text-anchor="middle" fill="#222" stroke="#222" stroke-width="0.14" >YAMN91</text>
<text x="398.40" y="189.80" font-size="5.3" text-anchor="middle" fill="#c43c68" stroke="#c43c68" stroke-width="0.14" >91.3%</text>
<text x="436.80" y="180.30" font-size="5.3" text-anchor="middle" fill="#222" stroke="#222" stroke-width="0.14" >SK9</text>
<text x="436.80" y="189.80" font-size="5.3" text-anchor="middle" fill="#c43c68" stroke="#c43c68" stroke-width="0.14" >79.6%</text>
<text x="475.60" y="180.30" font-size="5.3" text-anchor="middle" fill="#222" stroke="#222" stroke-width="0.14" >KOPN66bi</text>
<text x="475.60" y="189.80" font-size="5.3" text-anchor="middle" fill="#c43c68" stroke="#c43c68" stroke-width="0.14" >92.9%</text>
<text x="276.00" y="216.60" font-size="5.3" text-anchor="middle" fill="#222" textLength="25.00" lengthAdjust="spacingAndGlyphs" stroke="#222" stroke-width="0.14" >rs4727378</text>
<text x="275.90" y="223.00" font-size="5.3" text-anchor="middle" fill="#222" textLength="21.60" lengthAdjust="spacingAndGlyphs" stroke="#222" stroke-width="0.14" >(intron 2)</text>
<text x="276.00" y="265.80" font-size="5.3" text-anchor="middle" fill="#222" textLength="28.40" lengthAdjust="spacingAndGlyphs" stroke="#222" stroke-width="0.14" >rs11771498</text>
<text x="275.90" y="272.30" font-size="5.3" text-anchor="middle" fill="#222" textLength="21.60" lengthAdjust="spacingAndGlyphs" stroke="#222" stroke-width="0.14" >(intron 2)</text>
<text x="276.00" y="317.10" font-size="5.3" text-anchor="middle" fill="#222" textLength="25.00" lengthAdjust="spacingAndGlyphs" stroke="#222" stroke-width="0.14" >rs6465630</text>
<text x="275.90" y="323.60" font-size="5.3" text-anchor="middle" fill="#222" textLength="21.60" lengthAdjust="spacingAndGlyphs" stroke="#222" stroke-width="0.14" >(intron 2)</text>
<polyline points="308.00,229.30 308.25,227.57 308.50,224.94 308.75,221.46 309.00,217.53 309.25,213.90 309.50,211.44 309.75,210.85 310.00,212.29 310.25,215.34 310.50,219.18 310.76,222.91 311.01,225.86 311.26,227.65 311.51,228.12 311.76,227.22 312.01,224.94 312.26,221.40 312.51,217.01 312.76,212.56 313.01,209.09 313.26,207.53 313.51,208.34 313.76,211.28 314.01,215.51 314.26,219.98 314.51,223.76 314.76,226.26 315.01,227.19 315.26,226.47 315.51,224.10 315.76,220.27 316.01,215.48 316.27,210.63 316.52,206.87 316.77,205.22 317.02,206.18 317.27,209.47 317.52,214.17 317.77,219.16 318.02,223.52 318.27,226.78 318.52,228.91 318.77,230.13 319.02,230.75 319.27,231.03 319.52,231.14 319.77,231.18 320.02,231.19 320.27,231.20 320.52,231.20 320.77,231.20 321.02,231.20 321.27,231.20 321.52,231.20 321.78,231.20 322.03,231.20 322.28,231.20 322.53,231.20 322.78,231.20 323.03,231.20 323.28,231.20 323.53,231.20 323.78,231.20 324.03,231.20 324.28,231.20 324.53,231.19 324.78,231.15 325.03,231.07 325.28,230.85 325.53,230.38 325.78,229.46 326.03,227.84 326.28,225.36 326.53,222.05 326.78,218.27 327.03,214.71 327.29,212.23 327.54,211.52 327.79,212.78 328.04,215.65 328.29,219.36 328.54,223.07 328.79,226.16 329.04,228.38 329.29,229.78 329.54,230.55 329.79,230.94 330.04,231.10 330.29,231.17 330.54,231.19 330.79,231.20 331.04,231.20 331.29,231.20 331.54,231.19 331.79,231.17 332.04,231.11 332.29,230.96 332.54,230.61 332.80,229.89 333.05,228.59 333.30,226.50 333.55,223.56 333.80,220.01 334.05,216.41 334.30,213.57 334.55,212.24 334.80,212.81 335.05,215.11 335.30,218.50" fill="none" stroke="#74c258" stroke-width="0.85" stroke-opacity="0.9" stroke-linejoin="round"/>
<polyline points="308.00,231.20 308.25,231.20 308.50,231.20 308.75,231.20 309.00,231.20 309.25,231.20 309.50,231.20 309.75,231.20 310.00,231.20 310.25,231.20 310.50,231.20 310.76,231.20 311.01,231.20 311.26,231.20 311.51,231.20 311.76,231.20 312.01,231.20 312.26,231.20 312.51,231.20 312.76,231.20 313.01,231.20 313.26,231.20 313.51,231.20 313.76,231.20 314.01,231.20 314.26,231.20 314.51,231.20 314.76,231.20 315.01,231.20 315.26,231.20 315.51,231.20 315.76,231.20 316.01,231.20 316.27,231.20 316.52,231.20 316.77,231.20 317.02,231.20 317.27,231.20 317.52,231.20 317.77,231.20 318.02,231.20 318.27,231.20 318.52,231.20 318.77,231.20 319.02,231.20 319.27,231.20 319.52,231.20 319.77,231.20 320.02,231.20 320.27,231.20 320.52,231.20 320.77,231.20 321.02,231.20 321.27,231.20 321.52,231.20 321.78,231.20 322.03,231.20 322.28,231.20 322.53,231.20 322.78,231.20 323.03,231.20 323.28,231.20 323.53,231.20 323.78,231.20 324.03,231.20 324.28,231.20 324.53,231.20 324.78,231.20 325.03,231.20 325.28,231.20 325.53,231.20 325.78,231.20 326.03,231.20 326.28,231.20 326.53,231.20 326.78,231.20 327.03,231.20 327.29,231.20 327.54,231.20 327.79,231.20 328.04,231.20 328.29,231.20 328.54,231.20 328.79,231.19 329.04,231.17 329.29,231.10 329.54,230.96 329.79,230.64 330.04,230.03 330.29,228.99 330.54,227.45 330.79,225.46 331.04,223.28 331.29,221.34 331.54,220.13 331.79,219.98 332.04,220.95 332.29,222.75 332.54,224.92 332.80,226.98 333.05,228.65 333.30,229.81 333.55,230.51 333.80,230.90 334.05,231.08 334.30,231.16 334.55,231.19 334.80,231.20 335.05,231.20 335.30,231.20" fill="none" stroke="#222222" stroke-width="0.85" stroke-opacity="0.95" stroke-linejoin="round"/>
<polyline points="308.00,231.20 308.25,231.20 308.50,231.20 308.75,231.20 309.00,231.20 309.25,231.20 309.50,231.20 309.75,231.20 310.00,231.20 310.25,231.20 310.50,231.20 310.76,231.20 311.01,231.20 311.26,231.20 311.51,231.20 311.76,231.20 312.01,231.20 312.26,231.20 312.51,231.20 312.76,231.20 313.01,231.20 313.26,231.20 313.51,231.20 313.76,231.20 314.01,231.20 314.26,231.20 314.51,231.20 314.76,231.20 315.01,231.20 315.26,231.20 315.51,231.20 315.76,231.20 316.01,231.20 316.27,231.20 316.52,231.20 316.77,231.20 317.02,231.18 317.27,231.15 317.52,231.05 317.77,230.81 318.02,230.27 318.27,229.21 318.52,227.34 318.77,224.45 319.02,220.57 319.27,216.09 319.52,211.82 319.77,208.78 320.02,207.81 320.27,209.18 320.52,212.51 320.77,216.88 321.02,221.30 321.27,225.00 321.52,227.62 321.78,229.12 322.03,229.60 322.28,229.09 322.53,227.51 322.78,224.68 323.03,220.58 323.28,215.53 323.53,210.33 323.78,206.12 324.03,204.01 324.28,204.62 324.53,207.75 324.78,212.55 325.03,217.81 325.28,222.53 325.53,226.14 325.78,228.53 326.03,229.93 326.28,230.66 326.53,230.99 326.78,231.13 327.03,231.18 327.29,231.19 327.54,231.20 327.79,231.20 328.04,231.20 328.29,231.20 328.54,231.20 328.79,231.20 329.04,231.20 329.29,231.20 329.54,231.20 329.79,231.20 330.04,231.20 330.29,231.20 330.54,231.20 330.79,231.20 331.04,231.20 331.29,231.20 331.54,231.20 331.79,231.20 332.04,231.20 332.29,231.20 332.54,231.20 332.80,231.20 333.05,231.20 333.30,231.20 333.55,231.20 333.80,231.20 334.05,231.20 334.30,231.20 334.55,231.20 334.80,231.20 335.05,231.20 335.30,231.20" fill="none" stroke="#4567ad" stroke-width="0.85" stroke-opacity="0.95" stroke-linejoin="round"/>
<line x1="308.00" y1="231.70" x2="335.30" y2="231.70" stroke="#a02848" stroke-width="0.6"/>
<polyline points="347.00,225.61 347.25,222.12 347.50,217.90 347.76,213.64 348.01,210.32 348.26,208.83 348.51,209.61 348.76,212.42 349.02,216.48 349.27,220.78 349.52,224.49 349.77,227.12 350.02,228.51 350.27,228.63 350.53,227.46 350.78,224.93 351.03,221.11 351.28,216.34 351.53,211.43 351.79,207.49 352.04,205.58 352.29,206.25 352.54,209.31 352.79,213.88 353.05,218.80 353.30,223.05 353.55,226.00 353.80,227.35 354.05,227.02 354.31,224.98 354.56,221.30 354.81,216.34 355.06,210.87 355.31,206.08 355.57,203.22 355.82,203.12 356.07,205.81 356.32,210.51 356.57,216.00 356.82,221.11 357.08,225.09 357.33,227.66 357.58,228.90 357.83,229.01 358.08,228.18 358.34,226.61 358.59,224.54 358.84,222.38 359.09,220.65 359.34,219.83 359.60,220.15 359.85,221.53 360.10,223.58 360.35,225.79 360.60,227.74 360.86,229.20 361.11,230.16 361.36,230.71 361.61,231.00 361.86,231.12 362.12,231.17 362.37,231.19 362.62,231.19 362.87,231.17 363.12,231.11 363.38,230.96 363.63,230.60 363.88,229.86 364.13,228.50 364.38,226.30 364.63,223.17 364.89,219.36 365.14,215.46 365.39,212.35 365.64,210.86 365.89,211.42 366.15,213.88 366.40,217.53 366.65,221.48 366.90,224.98 367.15,227.61 367.41,229.33 367.66,230.33 367.91,230.83 368.16,231.06 368.41,231.15 368.67,231.19 368.92,231.20 369.17,231.20 369.42,231.20 369.67,231.19 369.93,231.15 370.18,231.06 370.43,230.85 370.68,230.38 370.93,229.47 371.18,227.92 371.44,225.61 371.69,222.61 371.94,219.31 372.19,216.37 372.44,214.54 372.70,214.33 372.95,215.81 373.20,218.55" fill="none" stroke="#74c258" stroke-width="0.85" stroke-opacity="0.9" stroke-linejoin="round"/>
<polyline points="347.00,231.18 347.25,231.15 347.50,231.08 347.76,230.92 348.01,230.63 348.26,230.15 348.51,229.46 348.76,228.61 349.02,227.73 349.27,227.00 349.52,226.62 349.77,226.71 350.02,227.23 350.27,228.04 350.53,228.93 350.78,229.73 351.03,230.34 351.28,230.75 351.53,230.98 351.79,231.09 352.04,231.12 352.29,231.08 352.54,230.97 352.79,230.75 353.05,230.40 353.30,229.93 353.55,229.37 353.80,228.83 354.05,228.44 354.31,228.30 354.56,228.45 354.81,228.86 355.06,229.40 355.31,229.95 355.57,230.42 355.82,230.76 356.07,230.98 356.32,231.10 356.57,231.16 356.82,231.18 357.08,231.19 357.33,231.20 357.58,231.20 357.83,231.20 358.08,231.20 358.34,231.20 358.59,231.20 358.84,231.20 359.09,231.20 359.34,231.20 359.60,231.20 359.85,231.20 360.10,231.20 360.35,231.20 360.60,231.20 360.86,231.20 361.11,231.20 361.36,231.20 361.61,231.20 361.86,231.20 362.12,231.20 362.37,231.20 362.62,231.20 362.87,231.20 363.12,231.20 363.38,231.20 363.63,231.20 363.88,231.20 364.13,231.20 364.38,231.20 364.63,231.20 364.89,231.20 365.14,231.20 365.39,231.20 365.64,231.20 365.89,231.20 366.15,231.20 366.40,231.20 366.65,231.20 366.90,231.20 367.15,231.20 367.41,231.19 367.66,231.17 367.91,231.12 368.16,231.00 368.41,230.72 368.67,230.15 368.92,229.16 369.17,227.63 369.42,225.56 369.67,223.17 369.93,220.90 370.18,219.30 370.43,218.81 370.68,219.58 370.93,221.38 371.18,223.72 371.44,226.07 371.69,228.03 371.94,229.44 372.19,230.32 372.44,230.80 372.70,231.04 372.95,231.14 373.20,231.18" fill="none" stroke="#222222" stroke-width="0.85" stroke-opacity="0.95" stroke-linejoin="round"/>
<polyline points="347.00,231.20 347.25,231.20 347.50,231.20 347.76,231.20 348.01,231.20 348.26,231.20 348.51,231.20 348.76,231.20 349.02,231.20 349.27,231.20 349.52,231.20 349.77,231.20 350.02,231.20 350.27,231.20 350.53,231.20 350.78,231.20 351.03,231.20 351.28,231.20 351.53,231.20 351.79,231.20 352.04,231.20 352.29,231.20 352.54,231.20 352.79,231.20 353.05,231.20 353.30,231.20 353.55,231.20 353.80,231.20 354.05,231.20 354.31,231.20 354.56,231.20 354.81,231.20 355.06,231.20 355.31,231.20 355.57,231.20 355.82,231.19 356.07,231.16 356.32,231.09 356.57,230.92 356.82,230.54 357.08,229.77 357.33,228.43 357.58,226.37 357.83,223.60 358.08,220.43 358.34,217.45 358.59,215.39 358.84,214.82 359.09,215.91 359.34,218.33 359.60,221.41 359.85,224.42 360.10,226.74 360.35,228.03 360.60,228.07 360.86,226.69 361.11,223.80 361.36,219.46 361.61,214.14 361.86,208.78 362.12,204.63 362.37,202.82 362.62,203.90 362.87,207.54 363.12,212.72 363.38,218.20 363.63,222.96 363.88,226.49 364.13,228.78 364.38,230.08 364.63,230.73 364.89,231.02 365.14,231.14 365.39,231.18 365.64,231.19 365.89,231.20 366.15,231.20 366.40,231.20 366.65,231.20 366.90,231.20 367.15,231.20 367.41,231.20 367.66,231.20 367.91,231.20 368.16,231.20 368.41,231.20 368.67,231.20 368.92,231.20 369.17,231.20 369.42,231.20 369.67,231.20 369.93,231.20 370.18,231.20 370.43,231.20 370.68,231.20 370.93,231.20 371.18,231.20 371.44,231.20 371.69,231.20 371.94,231.20 372.19,231.20 372.44,231.20 372.70,231.20 372.95,231.20 373.20,231.20" fill="none" stroke="#4567ad" stroke-width="0.85" stroke-opacity="0.95" stroke-linejoin="round"/>
<line x1="347.00" y1="231.70" x2="373.20" y2="231.70" stroke="#a02848" stroke-width="0.6"/>
<polyline points="384.40,229.13 384.65,227.38 384.90,224.87 385.16,221.74 385.41,218.46 385.66,215.75 385.91,214.31 386.16,214.56 386.41,216.44 386.67,219.39 386.92,222.68 387.17,225.65 387.42,227.88 387.67,229.26 387.92,229.80 388.18,229.53 388.43,228.39 388.68,226.28 388.93,223.19 389.18,219.39 389.44,215.50 389.69,212.37 389.94,210.86 390.19,211.40 390.44,213.84 390.69,217.47 390.95,221.42 391.20,224.89 391.45,227.45 391.70,228.96 391.95,229.45 392.21,228.91 392.46,227.24 392.71,224.29 392.96,220.07 393.21,214.98 393.46,209.87 393.72,205.93 393.97,204.22 394.22,205.25 394.47,208.71 394.72,213.63 394.98,218.84 395.23,223.36 395.48,226.71 395.73,228.87 395.98,230.05 396.23,230.54 396.49,230.54 396.74,230.12 396.99,229.25 397.24,227.91 397.49,226.16 397.74,224.24 398.00,222.54 398.25,221.49 398.50,221.38 398.75,222.26 399.00,223.86 399.26,225.77 399.51,227.58 399.76,229.03 400.01,230.03 400.26,230.63 400.51,230.95 400.77,231.10 401.02,231.16 401.27,231.19 401.52,231.20 401.77,231.20 402.02,231.19 402.28,231.15 402.53,231.07 402.78,230.84 403.03,230.35 403.28,229.39 403.54,227.70 403.79,225.11 404.04,221.65 404.29,217.70 404.54,214.02 404.79,211.49 405.05,210.84 405.30,212.24 405.55,215.29 405.80,219.17 406.05,223.01 406.31,226.17 406.56,228.42 406.81,229.81 407.06,230.58 407.31,230.95 407.56,231.11 407.82,231.17 408.07,231.19 408.32,231.20 408.57,231.20 408.82,231.20 409.08,231.20 409.33,231.18 409.58,231.15 409.83,231.06 410.08,230.86 410.33,230.42 410.59,229.59 410.84,228.22 411.09,226.23 411.34,223.73 411.59,221.08 411.84,218.85 412.10,217.62 412.35,217.75 412.60,219.19" fill="none" stroke="#74c258" stroke-width="0.85" stroke-opacity="0.9" stroke-linejoin="round"/>
<polyline points="384.40,231.20 384.65,231.20 384.90,231.20 385.16,231.20 385.41,231.20 385.66,231.20 385.91,231.20 386.16,231.20 386.41,231.20 386.67,231.20 386.92,231.20 387.17,231.20 387.42,231.20 387.67,231.20 387.92,231.20 388.18,231.20 388.43,231.20 388.68,231.20 388.93,231.20 389.18,231.20 389.44,231.20 389.69,231.20 389.94,231.20 390.19,231.20 390.44,231.20 390.69,231.20 390.95,231.20 391.20,231.20 391.45,231.20 391.70,231.20 391.95,231.20 392.21,231.20 392.46,231.20 392.71,231.20 392.96,231.20 393.21,231.20 393.46,231.20 393.72,231.20 393.97,231.20 394.22,231.20 394.47,231.20 394.72,231.20 394.98,231.20 395.23,231.20 395.48,231.20 395.73,231.20 395.98,231.20 396.23,231.20 396.49,231.20 396.74,231.20 396.99,231.20 397.24,231.20 397.49,231.20 397.74,231.20 398.00,231.20 398.25,231.20 398.50,231.20 398.75,231.20 399.00,231.20 399.26,231.20 399.51,231.20 399.76,231.20 400.01,231.20 400.26,231.20 400.51,231.20 400.77,231.20 401.02,231.20 401.27,231.20 401.52,231.20 401.77,231.20 402.02,231.20 402.28,231.20 402.53,231.20 402.78,231.20 403.03,231.20 403.28,231.20 403.54,231.20 403.79,231.20 404.04,231.20 404.29,231.20 404.54,231.20 404.79,231.20 405.05,231.20 405.30,231.20 405.55,231.20 405.80,231.20 406.05,231.20 406.31,231.20 406.56,231.18 406.81,231.15 407.06,231.07 407.31,230.87 407.56,230.47 407.82,229.71 408.07,228.48 408.32,226.72 408.57,224.54 408.82,222.30 409.08,220.47 409.33,219.55 409.58,219.80 409.83,221.15 410.08,223.22 410.33,225.49 410.59,227.52 410.84,229.06 411.09,230.08 411.34,230.67 411.59,230.98 411.84,231.11 412.10,231.17 412.35,231.19 412.60,231.20" fill="none" stroke="#222222" stroke-width="0.85" stroke-opacity="0.95" stroke-linejoin="round"/>
<polyline points="384.40,231.20 384.65,231.20 384.90,231.20 385.16,231.20 385.41,231.20 385.66,231.20 385.91,231.20 386.16,231.20 386.41,231.20 386.67,231.20 386.92,231.20 387.17,231.20 387.42,231.20 387.67,231.20 387.92,231.20 388.18,231.20 388.43,231.20 388.68,231.20 388.93,231.20 389.18,231.20 389.44,231.20 389.69,231.20 389.94,231.20 390.19,231.20 390.44,231.20 390.69,231.20 390.95,231.20 391.20,231.20 391.45,231.20 391.70,231.20 391.95,231.20 392.21,231.20 392.46,231.20 392.71,231.20 392.96,231.20 393.21,231.20 393.46,231.20 393.72,231.20 393.97,231.20 394.22,231.20 394.47,231.20 394.72,231.19 394.98,231.16 395.23,231.08 395.48,230.89 395.73,230.50 395.98,229.76 396.23,228.52 396.49,226.73 396.74,224.47 396.99,222.07 397.24,220.05 397.49,218.92 397.74,219.01 398.00,220.30 398.25,222.42 398.50,224.82 398.75,227.01 399.00,228.68 399.26,229.71 399.51,230.08 399.76,229.77 400.01,228.63 400.26,226.46 400.51,223.09 400.77,218.65 401.02,213.67 401.27,209.13 401.52,206.16 401.77,205.61 402.02,207.64 402.28,211.65 402.53,216.58 402.78,221.35 403.03,225.22 403.28,227.93 403.54,229.59 403.79,230.48 404.04,230.91 404.29,231.10 404.54,231.17 404.79,231.19 405.05,231.20 405.30,231.20 405.55,231.20 405.80,231.20 406.05,231.20 406.31,231.20 406.56,231.20 406.81,231.20 407.06,231.20 407.31,231.20 407.56,231.20 407.82,231.20 408.07,231.20 408.32,231.20 408.57,231.20 408.82,231.20 409.08,231.20 409.33,231.20 409.58,231.20 409.83,231.20 410.08,231.20 410.33,231.20 410.59,231.20 410.84,231.20 411.09,231.20 411.34,231.20 411.59,231.20 411.84,231.20 412.10,231.20 412.35,231.20 412.60,231.20" fill="none" stroke="#4567ad" stroke-width="0.85" stroke-opacity="0.95" stroke-linejoin="round"/>
<line x1="384.40" y1="231.70" x2="412.60" y2="231.70" stroke="#a02848" stroke-width="0.6"/>
<polyline points="424.50,228.21 424.75,225.94 425.00,222.85 425.25,219.23 425.50,215.73 425.75,213.15 426.00,212.20 426.25,213.15 426.50,215.72 426.75,219.21 427.00,222.76 427.25,225.71 427.50,227.63 427.75,228.36 428.00,227.84 428.25,226.05 428.50,223.06 428.75,219.18 429.00,215.05 429.25,211.57 429.50,209.68 429.75,209.89 430.00,212.16 430.25,215.81 430.50,219.89 430.75,223.47 431.00,225.88 431.25,226.75 431.50,225.93 431.75,223.40 432.00,219.40 432.25,214.50 432.50,209.68 432.75,206.12 433.00,204.80 433.25,206.12 433.50,209.70 433.75,214.57 434.00,219.58 434.25,223.86 434.50,226.95 434.75,228.84 435.00,229.68 435.25,229.68 435.50,228.97 435.75,227.64 436.00,225.84 436.25,223.85 436.50,222.08 436.75,220.99 437.00,220.89 437.25,221.80 437.50,223.46 437.75,225.46 438.00,227.35 438.25,228.87 438.50,229.93 438.75,230.58 439.00,230.92 439.25,231.09 439.50,231.16 439.75,231.19 440.00,231.19 440.25,231.19 440.50,231.18 440.75,231.14 441.00,231.04 441.25,230.79 441.50,230.25 441.75,229.24 442.00,227.52 442.25,224.99 442.50,221.74 442.75,218.20 443.00,215.07 443.25,213.14 443.50,212.95 443.75,214.56 444.00,217.51 444.25,221.04 444.50,224.39 444.75,227.09 445.00,228.96 445.25,230.10 445.50,230.71 445.75,231.00 446.00,231.13 446.25,231.18 446.50,231.19 446.75,231.20 447.00,231.20 447.25,231.20 447.50,231.20 447.75,231.20 448.00,231.20 448.25,231.20 448.50,231.20 448.75,231.20 449.00,231.20 449.25,231.20 449.50,231.20" fill="none" stroke="#74c258" stroke-width="0.85" stroke-opacity="0.9" stroke-linejoin="round"/>
<polyline points="424.50,231.20 424.75,231.20 425.00,231.20 425.25,231.20 425.50,231.20 425.75,231.20 426.00,231.20 426.25,231.20 426.50,231.20 426.75,231.20 427.00,231.20 427.25,231.20 427.50,231.20 427.75,231.20 428.00,231.20 428.25,231.20 428.50,231.20 428.75,231.20 429.00,231.20 429.25,231.20 429.50,231.20 429.75,231.20 430.00,231.20 430.25,231.20 430.50,231.20 430.75,231.20 431.00,231.20 431.25,231.20 431.50,231.20 431.75,231.20 432.00,231.20 432.25,231.20 432.50,231.20 432.75,231.20 433.00,231.20 433.25,231.20 433.50,231.20 433.75,231.20 434.00,231.20 434.25,231.20 434.50,231.20 434.75,231.20 435.00,231.20 435.25,231.20 435.50,231.20 435.75,231.20 436.00,231.20 436.25,231.20 436.50,231.20 436.75,231.20 437.00,231.20 437.25,231.20 437.50,231.20 437.75,231.20 438.00,231.20 438.25,231.20 438.50,231.20 438.75,231.20 439.00,231.20 439.25,231.20 439.50,231.20 439.75,231.20 440.00,231.20 440.25,231.20 440.50,231.20 440.75,231.20 441.00,231.20 441.25,231.20 441.50,231.20 441.75,231.20 442.00,231.20 442.25,231.20 442.50,231.20 442.75,231.20 443.00,231.20 443.25,231.20 443.50,231.20 443.75,231.20 444.00,231.20 444.25,231.20 444.50,231.19 444.75,231.16 445.00,231.10 445.25,230.94 445.50,230.60 445.75,229.95 446.00,228.86 446.25,227.25 446.50,225.19 446.75,222.93 447.00,220.94 447.25,219.71 447.50,219.60 447.75,220.62 448.00,222.50 448.25,224.74 448.50,226.87 448.75,228.58 449.00,229.77 449.25,230.50 449.50,230.89" fill="none" stroke="#222222" stroke-width="0.85" stroke-opacity="0.95" stroke-linejoin="round"/>
<polyline points="424.50,231.20 424.75,231.20 425.00,231.20 425.25,231.20 425.50,231.20 425.75,231.20 426.00,231.20 426.25,231.20 426.50,231.20 426.75,231.20 427.00,231.20 427.25,231.20 427.50,231.20 427.75,231.20 428.00,231.20 428.25,231.20 428.50,231.20 428.75,231.20 429.00,231.20 429.25,231.20 429.50,231.20 429.75,231.20 430.00,231.20 430.25,231.20 430.50,231.20 430.75,231.20 431.00,231.20 431.25,231.20 431.50,231.20 431.75,231.20 432.00,231.20 432.25,231.20 432.50,231.20 432.75,231.20 433.00,231.20 433.25,231.19 433.50,231.18 433.75,231.14 434.00,231.05 434.25,230.83 434.50,230.38 434.75,229.58 435.00,228.28 435.25,226.47 435.50,224.29 435.75,222.08 436.00,220.33 436.25,219.52 436.50,219.88 436.75,221.28 437.00,223.34 437.25,225.50 437.50,227.28 437.75,228.31 438.00,228.32 438.25,227.12 438.50,224.57 438.75,220.73 439.00,215.98 439.25,211.15 439.50,207.33 439.75,205.55 440.00,206.33 440.25,209.44 440.50,214.02 440.75,218.96 441.00,223.33 441.25,226.63 441.50,228.81 441.75,230.07 442.00,230.72 442.25,231.01 442.50,231.14 442.75,231.18 443.00,231.19 443.25,231.20 443.50,231.20 443.75,231.20 444.00,231.20 444.25,231.20 444.50,231.20 444.75,231.20 445.00,231.20 445.25,231.20 445.50,231.20 445.75,231.20 446.00,231.20 446.25,231.20 446.50,231.20 446.75,231.20 447.00,231.20 447.25,231.20 447.50,231.20 447.75,231.20 448.00,231.20 448.25,231.20 448.50,231.20 448.75,231.20 449.00,231.20 449.25,231.20 449.50,231.20" fill="none" stroke="#4567ad" stroke-width="0.85" stroke-opacity="0.95" stroke-linejoin="round"/>
<line x1="424.50" y1="231.70" x2="449.50" y2="231.70" stroke="#a02848" stroke-width="0.6"/>
<polyline points="462.00,221.80 462.25,219.54 462.50,217.87 462.75,216.91 463.01,216.38 463.26,215.77 463.51,214.66 463.76,213.03 464.01,211.39 464.26,210.52 464.51,211.10 464.77,213.28 465.02,216.67 465.27,220.51 465.52,224.01 465.77,226.60 466.02,228.01 466.27,228.11 466.52,226.87 466.78,224.29 467.03,220.56 467.28,216.18 467.53,212.01 467.78,209.08 468.03,208.22 468.28,209.67 468.54,213.00 468.79,217.28 469.04,221.44 469.29,224.65 469.54,226.36 469.79,226.33 470.04,224.50 470.30,220.99 470.55,216.24 470.80,211.11 471.05,206.78 471.30,204.41 471.55,204.71 471.80,207.58 472.06,212.22 472.31,217.45 472.56,222.21 472.81,225.88 473.06,228.29 473.31,229.59 473.56,230.00 473.81,229.72 474.07,228.83 474.32,227.40 474.57,225.58 474.82,223.69 475.07,222.14 475.32,221.35 475.57,221.54 475.83,222.67 476.08,224.41 476.33,226.33 476.58,228.05 476.83,229.36 477.08,230.23 477.33,230.74 477.59,231.00 477.84,231.12 478.09,231.17 478.34,231.19 478.59,231.20 478.84,231.20 479.09,231.20 479.34,231.19 479.60,231.18 479.85,231.14 480.10,231.02 480.35,230.74 480.60,230.14 480.85,229.00 481.10,227.08 481.36,224.24 481.61,220.60 481.86,216.65 482.11,213.20 482.36,211.12 482.61,211.01 482.86,212.91 483.12,216.26 483.37,220.20 483.62,223.90 483.87,226.83 484.12,228.85 484.37,230.06 484.62,230.70 484.88,231.00 485.13,231.13 485.38,231.18 485.63,231.19 485.88,231.20 486.13,231.20 486.38,231.19 486.63,231.16 486.89,231.08 487.14,230.91 487.39,230.55 487.64,229.89 487.89,228.82 488.14,227.33 488.39,225.51 488.65,223.66 488.90,222.20 489.15,221.52 489.40,221.81" fill="none" stroke="#74c258" stroke-width="0.85" stroke-opacity="0.9" stroke-linejoin="round"/>
<polyline points="462.00,231.20 462.25,231.20 462.50,231.20 462.75,231.20 463.01,231.20 463.26,231.20 463.51,231.20 463.76,231.20 464.01,231.20 464.26,231.20 464.51,231.20 464.77,231.20 465.02,231.20 465.27,231.20 465.52,231.20 465.77,231.20 466.02,231.20 466.27,231.20 466.52,231.20 466.78,231.20 467.03,231.20 467.28,231.20 467.53,231.20 467.78,231.20 468.03,231.20 468.28,231.20 468.54,231.20 468.79,231.20 469.04,231.20 469.29,231.20 469.54,231.20 469.79,231.20 470.04,231.20 470.30,231.20 470.55,231.20 470.80,231.20 471.05,231.20 471.30,231.20 471.55,231.20 471.80,231.20 472.06,231.20 472.31,231.20 472.56,231.20 472.81,231.20 473.06,231.20 473.31,231.20 473.56,231.20 473.81,231.20 474.07,231.20 474.32,231.20 474.57,231.20 474.82,231.20 475.07,231.20 475.32,231.20 475.57,231.20 475.83,231.20 476.08,231.20 476.33,231.20 476.58,231.20 476.83,231.20 477.08,231.20 477.33,231.20 477.59,231.20 477.84,231.20 478.09,231.20 478.34,231.20 478.59,231.20 478.84,231.20 479.09,231.20 479.34,231.20 479.60,231.20 479.85,231.20 480.10,231.20 480.35,231.20 480.60,231.20 480.85,231.20 481.10,231.20 481.36,231.20 481.61,231.20 481.86,231.20 482.11,231.20 482.36,231.20 482.61,231.20 482.86,231.20 483.12,231.20 483.37,231.20 483.62,231.19 483.87,231.16 484.12,231.09 484.37,230.92 484.62,230.55 484.88,229.86 485.13,228.72 485.38,227.04 485.63,224.92 485.88,222.66 486.13,220.73 486.38,219.63 486.63,219.67 486.89,220.85 487.14,222.82 487.39,225.09 487.64,227.18 487.89,228.82 488.14,229.93 488.39,230.59 488.65,230.93 488.90,231.10 489.15,231.16 489.40,231.19" fill="none" stroke="#222222" stroke-width="0.85" stroke-opacity="0.95" stroke-linejoin="round"/>
<polyline points="462.00,231.20 462.25,231.20 462.50,231.20 462.75,231.20 463.01,231.20 463.26,231.20 463.51,231.20 463.76,231.20 464.01,231.20 464.26,231.20 464.51,231.20 464.77,231.20 465.02,231.20 465.27,231.20 465.52,231.20 465.77,231.20 466.02,231.20 466.27,231.20 466.52,231.20 466.78,231.20 467.03,231.20 467.28,231.20 467.53,231.20 467.78,231.20 468.03,231.20 468.28,231.20 468.54,231.20 468.79,231.20 469.04,231.20 469.29,231.20 469.54,231.20 469.79,231.20 470.04,231.20 470.30,231.20 470.55,231.20 470.80,231.20 471.05,231.20 471.30,231.20 471.55,231.20 471.80,231.19 472.06,231.15 472.31,231.07 472.56,230.87 472.81,230.44 473.06,229.62 473.31,228.24 473.56,226.22 473.81,223.64 474.07,220.85 474.32,218.43 474.57,217.00 474.82,216.97 475.07,218.34 475.32,220.73 475.57,223.49 475.83,226.04 476.08,227.95 476.33,229.01 476.58,229.11 476.83,228.12 477.08,225.88 477.33,222.32 477.59,217.61 477.84,212.39 478.09,207.71 478.34,204.77 478.59,204.38 478.84,206.68 479.09,210.99 479.34,216.18 479.60,221.15 479.85,225.13 480.10,227.90 480.35,229.58 480.60,230.48 480.85,230.91 481.10,231.10 481.36,231.17 481.61,231.19 481.86,231.20 482.11,231.20 482.36,231.20 482.61,231.20 482.86,231.20 483.12,231.20 483.37,231.20 483.62,231.20 483.87,231.20 484.12,231.20 484.37,231.20 484.62,231.20 484.88,231.20 485.13,231.20 485.38,231.20 485.63,231.20 485.88,231.20 486.13,231.20 486.38,231.20 486.63,231.20 486.89,231.20 487.14,231.20 487.39,231.20 487.64,231.20 487.89,231.20 488.14,231.20 488.39,231.20 488.65,231.20 488.90,231.20 489.15,231.20 489.40,231.20" fill="none" stroke="#4567ad" stroke-width="0.85" stroke-opacity="0.95" stroke-linejoin="round"/>
<line x1="462.00" y1="231.70" x2="489.40" y2="231.70" stroke="#a02848" stroke-width="0.6"/>
<path d="M319.00,197.30 L323.60,197.30 L321.30,201.20 Z" fill="#3c9ad8" stroke="#222" stroke-width="0.55"/>
<path d="M357.50,197.30 L362.10,197.30 L359.80,201.20 Z" fill="#c01070" stroke="#222" stroke-width="0.55"/>
<path d="M396.30,197.30 L400.90,197.30 L398.60,201.20 Z" fill="#c01070" stroke="#222" stroke-width="0.55"/>
<path d="M434.40,197.30 L439.00,197.30 L436.70,201.20 Z" fill="#c01070" stroke="#222" stroke-width="0.55"/>
<path d="M473.10,197.30 L477.70,197.30 L475.40,201.20 Z" fill="#c01070" stroke="#222" stroke-width="0.55"/>
<polyline points="308.00,281.20 308.25,281.20 308.50,281.20 308.75,281.20 309.00,281.20 309.25,281.20 309.50,281.20 309.75,281.20 310.00,281.20 310.25,281.20 310.50,281.20 310.75,281.20 311.00,281.20 311.25,281.20 311.50,281.19 311.75,281.16 312.00,281.09 312.25,280.89 312.50,280.43 312.75,279.46 313.00,277.66 313.25,274.71 313.50,270.47 313.75,265.19 314.00,259.63 314.25,254.98 314.50,252.44 314.75,252.73 315.00,255.77 315.25,260.71 315.50,266.30 315.75,271.42 316.00,275.41 316.25,278.10 316.50,279.71 316.75,280.55 317.00,280.94 317.25,281.11 317.50,281.17 317.75,281.19 318.00,281.20 318.25,281.20 318.50,281.20 318.75,281.20 319.00,281.19 319.25,281.17 319.50,281.12 319.75,280.98 320.00,280.64 320.25,279.94 320.50,278.64 320.75,276.50 321.00,273.43 321.25,269.60 321.50,265.58 321.75,262.21 322.00,260.37 322.25,260.58 322.50,262.79 322.75,266.36 323.00,270.41 323.25,274.12 323.50,277.01 323.75,278.96 324.00,280.12 324.25,280.73 324.50,281.02 324.75,281.13 325.00,281.18 325.25,281.19 325.50,281.20 325.75,281.20 326.00,281.20 326.25,281.20 326.50,281.20 326.75,281.20 327.00,281.20 327.25,281.20 327.50,281.20 327.75,281.20 328.00,281.20 328.25,281.20 328.50,281.20 328.75,281.20 329.00,281.20 329.25,281.20 329.50,281.20 329.75,281.20 330.00,281.20 330.25,281.20 330.50,281.20 330.75,281.20 331.00,281.20 331.25,281.20 331.50,281.20 331.75,281.20 332.00,281.20 332.25,281.20 332.50,281.20 332.75,281.20 333.00,281.20 333.25,281.20 333.50,281.20 333.75,281.20 334.00,281.20 334.25,281.20 334.50,281.20 334.75,281.20 335.00,281.20" fill="none" stroke="#222222" stroke-width="0.85" stroke-opacity="0.95" stroke-linejoin="round"/>
<polyline points="308.00,281.20 308.25,281.20 308.50,281.20 308.75,281.20 309.00,281.20 309.25,281.20 309.50,281.20 309.75,281.20 310.00,281.20 310.25,281.20 310.50,281.20 310.75,281.20 311.00,281.20 311.25,281.20 311.50,281.20 311.75,281.20 312.00,281.20 312.25,281.20 312.50,281.20 312.75,281.20 313.00,281.20 313.25,281.20 313.50,281.20 313.75,281.20 314.00,281.20 314.25,281.20 314.50,281.20 314.75,281.20 315.00,281.20 315.25,281.20 315.50,281.20 315.75,281.20 316.00,281.20 316.25,281.20 316.50,281.20 316.75,281.20 317.00,281.20 317.25,281.20 317.50,281.20 317.75,281.20 318.00,281.20 318.25,281.20 318.50,281.20 318.75,281.20 319.00,281.20 319.25,281.20 319.50,281.20 319.75,281.20 320.00,281.20 320.25,281.20 320.50,281.20 320.75,281.20 321.00,281.20 321.25,281.20 321.50,281.20 321.75,281.20 322.00,281.20 322.25,281.20 322.50,281.20 322.75,281.19 323.00,281.17 323.25,281.10 323.50,280.94 323.75,280.60 324.00,279.93 324.25,278.77 324.50,277.00 324.75,274.67 325.00,272.04 325.25,269.60 325.50,267.94 325.75,267.52 326.00,268.47 326.25,270.48 326.50,273.00 326.75,275.38 327.00,277.10 327.25,277.81 327.50,277.35 327.75,275.67 328.00,272.93 328.25,269.55 328.50,266.20 328.75,263.71 329.00,262.80 329.25,263.72 329.50,266.22 329.75,269.61 330.00,273.11 330.25,276.11 330.50,278.30 330.75,279.71 331.00,280.51 331.25,280.91 331.50,281.09 331.75,281.16 332.00,281.19 332.25,281.20 332.50,281.20 332.75,281.20 333.00,281.20 333.25,281.20 333.50,281.20 333.75,281.20 334.00,281.20 334.25,281.20 334.50,281.20 334.75,281.20 335.00,281.20" fill="none" stroke="#4567ad" stroke-width="0.85" stroke-opacity="0.95" stroke-linejoin="round"/>
<polyline points="308.00,281.13 308.25,281.01 308.50,280.73 308.75,280.14 309.00,279.04 309.25,277.24 309.50,274.65 309.75,271.43 310.00,268.03 310.25,265.20 310.50,263.64 310.75,263.82 311.00,265.68 311.25,268.69 311.50,272.10 311.75,275.23 312.00,277.66 312.25,279.31 312.50,280.29 312.75,280.80 313.00,281.04 313.25,281.14 313.50,281.18 313.75,281.19 314.00,281.20 314.25,281.20 314.50,281.20 314.75,281.20 315.00,281.20 315.25,281.20 315.50,281.19 315.75,281.16 316.00,281.07 316.25,280.88 316.50,280.46 316.75,279.66 317.00,278.32 317.25,276.34 317.50,273.80 317.75,271.02 318.00,268.57 318.25,267.06 318.50,266.92 318.75,268.18 319.00,270.49 319.25,273.25 319.50,275.87 319.75,277.98 320.00,279.44 320.25,280.34 320.50,280.82 320.75,281.05 321.00,281.14 321.25,281.18 321.50,281.19 321.75,281.20 322.00,281.20 322.25,281.20 322.50,281.20 322.75,281.20 323.00,281.20 323.25,281.20 323.50,281.20 323.75,281.20 324.00,281.20 324.25,281.20 324.50,281.20 324.75,281.20 325.00,281.20 325.25,281.20 325.50,281.20 325.75,281.20 326.00,281.20 326.25,281.20 326.50,281.20 326.75,281.20 327.00,281.20 327.25,281.20 327.50,281.20 327.75,281.20 328.00,281.20 328.25,281.20 328.50,281.20 328.75,281.20 329.00,281.20 329.25,281.20 329.50,281.20 329.75,281.19 330.00,281.17 330.25,281.12 330.50,280.98 330.75,280.66 331.00,280.01 331.25,278.84 331.50,276.96 331.75,274.33 332.00,271.15 332.25,267.94 332.50,265.41 332.75,264.23 333.00,264.75 333.25,266.81 333.50,269.84 333.75,273.10 334.00,275.99 334.25,278.18 334.50,279.62 334.75,280.45 335.00,280.88" fill="none" stroke="#d4365e" stroke-width="0.85" stroke-opacity="0.95" stroke-linejoin="round"/>
<line x1="308.00" y1="281.70" x2="335.00" y2="281.70" stroke="#a02848" stroke-width="0.6"/>
<polyline points="345.80,267.94 346.05,267.53 346.30,268.50 346.56,270.57 346.81,273.18 347.06,275.75 347.31,277.86 347.56,279.36 347.81,280.28 348.07,280.79 348.32,281.03 348.57,281.14 348.82,281.18 349.07,281.19 349.32,281.20 349.58,281.20 349.83,281.20 350.08,281.20 350.33,281.20 350.58,281.20 350.84,281.20 351.09,281.20 351.34,281.20 351.59,281.20 351.84,281.20 352.09,281.20 352.35,281.20 352.60,281.20 352.85,281.20 353.10,281.20 353.35,281.20 353.61,281.20 353.86,281.20 354.11,281.20 354.36,281.20 354.61,281.20 354.86,281.20 355.12,281.20 355.37,281.20 355.62,281.20 355.87,281.20 356.12,281.20 356.38,281.20 356.63,281.20 356.88,281.20 357.13,281.20 357.38,281.20 357.63,281.19 357.89,281.16 358.14,281.08 358.39,280.92 358.64,280.58 358.89,279.98 359.14,279.04 359.40,277.75 359.65,276.24 359.90,274.77 360.15,273.69 360.40,273.30 360.66,273.71 360.91,274.81 361.16,276.28 361.41,277.79 361.66,279.07 361.91,280.00 362.17,280.59 362.42,280.92 362.67,281.09 362.92,281.16 363.17,281.19 363.43,281.20 363.68,281.20 363.93,281.20 364.18,281.20 364.43,281.20 364.68,281.20 364.94,281.20 365.19,281.20 365.44,281.20 365.69,281.20 365.94,281.20 366.19,281.20 366.45,281.20 366.70,281.20 366.95,281.20 367.20,281.20 367.45,281.20 367.71,281.20 367.96,281.20 368.21,281.20 368.46,281.20 368.71,281.20 368.96,281.20 369.22,281.20 369.47,281.20 369.72,281.20 369.97,281.20 370.22,281.20 370.48,281.20 370.73,281.20 370.98,281.20 371.23,281.20 371.48,281.20 371.73,281.20 371.99,281.20 372.24,281.20 372.49,281.20 372.74,281.20 372.99,281.20 373.24,281.20 373.50,281.20 373.75,281.20 374.00,281.20" fill="none" stroke="#74c258" stroke-width="0.85" stroke-opacity="0.9" stroke-linejoin="round"/>
<polyline points="345.80,281.20 346.05,281.20 346.30,281.20 346.56,281.20 346.81,281.20 347.06,281.20 347.31,281.20 347.56,281.20 347.81,281.20 348.07,281.20 348.32,281.20 348.57,281.20 348.82,281.20 349.07,281.20 349.32,281.20 349.58,281.20 349.83,281.20 350.08,281.20 350.33,281.19 350.58,281.16 350.84,281.07 351.09,280.84 351.34,280.32 351.59,279.23 351.84,277.25 352.09,274.05 352.35,269.55 352.60,264.10 352.85,258.58 353.10,254.24 353.35,252.25 353.61,253.19 353.86,256.78 354.11,262.01 354.36,267.62 354.61,272.54 354.86,276.22 355.12,278.62 355.37,280.00 355.62,280.69 355.87,281.01 356.12,281.13 356.38,281.18 356.63,281.19 356.88,281.20 357.13,281.20 357.38,281.20 357.63,281.20 357.89,281.20 358.14,281.19 358.39,281.16 358.64,281.09 358.89,280.93 359.14,280.59 359.40,279.94 359.65,278.88 359.90,277.35 360.15,275.44 360.40,273.44 360.66,271.77 360.91,270.87 361.16,271.01 361.41,272.15 361.66,273.95 361.91,275.97 362.17,277.80 362.42,279.21 362.67,280.15 362.92,280.70 363.17,280.99 363.43,281.12 363.68,281.17 363.93,281.19 364.18,281.20 364.43,281.20 364.68,281.20 364.94,281.20 365.19,281.20 365.44,281.20 365.69,281.20 365.94,281.20 366.19,281.20 366.45,281.20 366.70,281.20 366.95,281.20 367.20,281.20 367.45,281.20 367.71,281.20 367.96,281.20 368.21,281.20 368.46,281.20 368.71,281.20 368.96,281.20 369.22,281.20 369.47,281.20 369.72,281.20 369.97,281.20 370.22,281.20 370.48,281.20 370.73,281.20 370.98,281.20 371.23,281.20 371.48,281.20 371.73,281.20 371.99,281.20 372.24,281.20 372.49,281.20 372.74,281.20 372.99,281.20 373.24,281.20 373.50,281.20 373.75,281.20 374.00,281.20" fill="none" stroke="#222222" stroke-width="0.85" stroke-opacity="0.95" stroke-linejoin="round"/>
<polyline points="345.80,281.20 346.05,281.20 346.30,281.20 346.56,281.20 346.81,281.20 347.06,281.20 347.31,281.20 347.56,281.20 347.81,281.20 348.07,281.20 348.32,281.20 348.57,281.20 348.82,281.20 349.07,281.20 349.32,281.20 349.58,281.20 349.83,281.20 350.08,281.20 350.33,281.20 350.58,281.20 350.84,281.20 351.09,281.20 351.34,281.20 351.59,281.20 351.84,281.20 352.09,281.20 352.35,281.20 352.60,281.20 352.85,281.20 353.10,281.20 353.35,281.20 353.61,281.20 353.86,281.20 354.11,281.20 354.36,281.20 354.61,281.20 354.86,281.20 355.12,281.20 355.37,281.20 355.62,281.20 355.87,281.20 356.12,281.20 356.38,281.20 356.63,281.20 356.88,281.20 357.13,281.20 357.38,281.20 357.63,281.20 357.89,281.20 358.14,281.20 358.39,281.20 358.64,281.20 358.89,281.20 359.14,281.20 359.40,281.20 359.65,281.20 359.90,281.20 360.15,281.20 360.40,281.20 360.66,281.20 360.91,281.19 361.16,281.18 361.41,281.15 361.66,281.05 361.91,280.84 362.17,280.38 362.42,279.54 362.67,278.16 362.92,276.20 363.17,273.79 363.43,271.29 363.68,269.27 363.93,268.25 364.18,268.54 364.43,270.05 364.68,272.34 364.94,274.84 365.19,277.03 365.44,278.59 365.69,279.37 365.94,279.32 366.19,278.40 366.45,276.60 366.70,273.98 366.95,270.86 367.20,267.82 367.45,265.60 367.71,264.80 367.96,265.67 368.21,267.94 368.46,271.01 368.71,274.14 368.96,276.79 369.22,278.72 369.47,279.94 369.72,280.63 369.97,280.96 370.22,281.11 370.48,281.17 370.73,281.19 370.98,281.20 371.23,281.20 371.48,281.20 371.73,281.20 371.99,281.20 372.24,281.20 372.49,281.20 372.74,281.20 372.99,281.20 373.24,281.20 373.50,281.20 373.75,281.20 374.00,281.20" fill="none" stroke="#4567ad" stroke-width="0.85" stroke-opacity="0.95" stroke-linejoin="round"/>
<polyline points="345.80,281.20 346.05,281.19 346.30,281.15 346.56,281.06 346.81,280.85 347.06,280.37 347.31,279.44 347.56,277.83 347.81,275.41 348.07,272.22 348.32,268.65 348.57,265.40 348.82,263.28 349.07,262.88 349.32,264.33 349.58,267.20 349.83,270.73 350.08,274.15 350.33,276.92 350.58,278.86 350.84,280.05 351.09,280.69 351.34,281.00 351.59,281.13 351.84,281.18 352.09,281.19 352.35,281.20 352.60,281.20 352.85,281.20 353.10,281.20 353.35,281.20 353.61,281.20 353.86,281.20 354.11,281.18 354.36,281.15 354.61,281.05 354.86,280.83 355.12,280.35 355.37,279.44 355.62,277.92 355.87,275.69 356.12,272.85 356.38,269.81 356.63,267.20 356.88,265.69 357.13,265.72 357.38,267.28 357.63,269.92 357.89,272.96 358.14,275.78 358.39,277.99 358.64,279.48 358.89,280.37 359.14,280.84 359.40,281.06 359.65,281.15 359.90,281.18 360.15,281.20 360.40,281.20 360.66,281.20 360.91,281.20 361.16,281.20 361.41,281.20 361.66,281.20 361.91,281.20 362.17,281.20 362.42,281.20 362.67,281.20 362.92,281.20 363.17,281.20 363.43,281.20 363.68,281.20 363.93,281.20 364.18,281.20 364.43,281.20 364.68,281.20 364.94,281.20 365.19,281.20 365.44,281.20 365.69,281.20 365.94,281.20 366.19,281.20 366.45,281.20 366.70,281.20 366.95,281.20 367.20,281.20 367.45,281.20 367.71,281.20 367.96,281.20 368.21,281.19 368.46,281.18 368.71,281.13 368.96,281.01 369.22,280.74 369.47,280.16 369.72,279.09 369.97,277.36 370.22,274.88 370.48,271.83 370.73,268.68 370.98,266.14 371.23,264.87 371.48,265.24 371.73,267.15 371.99,270.06 372.24,273.24 372.49,276.07 372.74,278.22 372.99,279.64 373.24,280.47 373.50,280.89 373.75,281.08 374.00,281.16" fill="none" stroke="#d4365e" stroke-width="0.85" stroke-opacity="0.95" stroke-linejoin="round"/>
<line x1="345.80" y1="281.70" x2="374.00" y2="281.70" stroke="#a02848" stroke-width="0.6"/>
<polyline points="385.00,269.13 385.25,268.22 385.50,268.64 385.76,270.24 386.01,272.58 386.26,275.10 386.51,277.31 386.76,278.96 387.01,280.04 387.27,280.66 387.52,280.97 387.77,281.11 388.02,281.17 388.27,281.19 388.53,281.20 388.78,281.20 389.03,281.20 389.28,281.20 389.53,281.20 389.79,281.20 390.04,281.20 390.29,281.20 390.54,281.20 390.79,281.20 391.04,281.20 391.30,281.20 391.55,281.20 391.80,281.20 392.05,281.20 392.30,281.20 392.56,281.20 392.81,281.20 393.06,281.20 393.31,281.20 393.56,281.20 393.81,281.20 394.07,281.20 394.32,281.20 394.57,281.20 394.82,281.20 395.07,281.20 395.33,281.20 395.58,281.20 395.83,281.20 396.08,281.19 396.33,281.18 396.59,281.13 396.84,281.02 397.09,280.78 397.34,280.33 397.59,279.55 397.84,278.40 398.10,276.91 398.35,275.28 398.60,273.83 398.85,272.95 399.10,272.87 399.36,273.63 399.61,275.00 399.86,276.62 400.11,278.15 400.36,279.38 400.61,280.21 400.87,280.72 401.12,280.99 401.37,281.12 401.62,281.17 401.87,281.19 402.13,281.20 402.38,281.20 402.63,281.20 402.88,281.20 403.13,281.20 403.39,281.20 403.64,281.20 403.89,281.20 404.14,281.20 404.39,281.20 404.64,281.20 404.90,281.20 405.15,281.20 405.40,281.20 405.65,281.20 405.90,281.20 406.16,281.20 406.41,281.20 406.66,281.20 406.91,281.20 407.16,281.20 407.41,281.20 407.67,281.20 407.92,281.20 408.17,281.20 408.42,281.20 408.67,281.20 408.93,281.20 409.18,281.20 409.43,281.20 409.68,281.20 409.93,281.20 410.19,281.20 410.44,281.20 410.69,281.20 410.94,281.20 411.19,281.20 411.44,281.20 411.70,281.20 411.95,281.20 412.20,281.20" fill="none" stroke="#74c258" stroke-width="0.85" stroke-opacity="0.9" stroke-linejoin="round"/>
<polyline points="385.00,281.20 385.25,281.20 385.50,281.20 385.76,281.20 386.01,281.20 386.26,281.20 386.51,281.20 386.76,281.20 387.01,281.20 387.27,281.20 387.52,281.20 387.77,281.20 388.02,281.20 388.27,281.20 388.53,281.20 388.78,281.19 389.03,281.18 389.28,281.13 389.53,281.00 389.79,280.67 390.04,279.95 390.29,278.52 390.54,276.04 390.79,272.24 391.04,267.18 391.30,261.43 391.55,256.09 391.80,252.46 392.05,251.57 392.30,253.67 392.56,258.15 392.81,263.82 393.06,269.39 393.31,273.97 393.56,277.21 393.81,279.22 394.07,280.31 394.32,280.84 394.57,281.07 394.82,281.16 395.07,281.19 395.33,281.20 395.58,281.20 395.83,281.20 396.08,281.20 396.33,281.20 396.59,281.19 396.84,281.18 397.09,281.14 397.34,281.04 397.59,280.82 397.84,280.37 398.10,279.58 398.35,278.33 398.60,276.63 398.85,274.63 399.10,272.71 399.36,271.30 399.61,270.80 399.86,271.36 400.11,272.81 400.36,274.75 400.61,276.74 400.87,278.42 401.12,279.64 401.37,280.41 401.62,280.84 401.87,281.05 402.13,281.15 402.38,281.18 402.63,281.19 402.88,281.20 403.13,281.20 403.39,281.20 403.64,281.20 403.89,281.20 404.14,281.20 404.39,281.20 404.64,281.20 404.90,281.20 405.15,281.20 405.40,281.20 405.65,281.20 405.90,281.20 406.16,281.20 406.41,281.20 406.66,281.20 406.91,281.20 407.16,281.20 407.41,281.20 407.67,281.20 407.92,281.20 408.17,281.20 408.42,281.20 408.67,281.20 408.93,281.20 409.18,281.20 409.43,281.20 409.68,281.20 409.93,281.20 410.19,281.20 410.44,281.20 410.69,281.20 410.94,281.20 411.19,281.20 411.44,281.20 411.70,281.20 411.95,281.20 412.20,281.20" fill="none" stroke="#222222" stroke-width="0.85" stroke-opacity="0.95" stroke-linejoin="round"/>
<polyline points="385.00,281.20 385.25,281.20 385.50,281.20 385.76,281.20 386.01,281.20 386.26,281.20 386.51,281.20 386.76,281.20 387.01,281.20 387.27,281.20 387.52,281.20 387.77,281.20 388.02,281.20 388.27,281.20 388.53,281.20 388.78,281.20 389.03,281.20 389.28,281.20 389.53,281.20 389.79,281.20 390.04,281.20 390.29,281.20 390.54,281.20 390.79,281.20 391.04,281.20 391.30,281.20 391.55,281.20 391.80,281.20 392.05,281.20 392.30,281.20 392.56,281.20 392.81,281.20 393.06,281.20 393.31,281.20 393.56,281.20 393.81,281.20 394.07,281.20 394.32,281.20 394.57,281.20 394.82,281.20 395.07,281.20 395.33,281.20 395.58,281.20 395.83,281.20 396.08,281.20 396.33,281.20 396.59,281.20 396.84,281.20 397.09,281.20 397.34,281.20 397.59,281.20 397.84,281.20 398.10,281.20 398.35,281.20 398.60,281.20 398.85,281.20 399.10,281.20 399.36,281.20 399.61,281.19 399.86,281.18 400.11,281.14 400.36,281.05 400.61,280.82 400.87,280.33 401.12,279.45 401.37,278.00 401.62,275.93 401.87,273.38 402.13,270.75 402.38,268.62 402.63,267.55 402.88,267.86 403.13,269.44 403.39,271.83 403.64,274.38 403.89,276.51 404.14,277.80 404.39,278.02 404.64,277.12 404.90,275.17 405.15,272.45 405.40,269.49 405.65,266.98 405.90,265.62 406.16,265.81 406.41,267.50 406.66,270.22 406.91,273.26 407.16,276.03 407.41,278.17 407.67,279.60 407.92,280.44 408.17,280.87 408.42,281.07 408.67,281.16 408.93,281.19 409.18,281.20 409.43,281.20 409.68,281.20 409.93,281.20 410.19,281.20 410.44,281.20 410.69,281.20 410.94,281.20 411.19,281.20 411.44,281.20 411.70,281.20 411.95,281.20 412.20,281.20" fill="none" stroke="#4567ad" stroke-width="0.85" stroke-opacity="0.95" stroke-linejoin="round"/>
<polyline points="385.00,281.20 385.25,281.19 385.50,281.17 385.76,281.11 386.01,280.96 386.26,280.62 386.51,279.92 386.76,278.66 387.01,276.65 387.27,273.84 387.52,270.48 387.77,267.14 388.02,264.59 388.27,263.51 388.53,264.23 388.78,266.53 389.03,269.77 389.28,273.18 389.53,276.13 389.79,278.31 390.04,279.72 390.29,280.51 390.54,280.91 390.79,281.09 391.04,281.16 391.30,281.19 391.55,281.20 391.80,281.20 392.05,281.20 392.30,281.20 392.56,281.19 392.81,281.18 393.06,281.13 393.31,281.01 393.56,280.72 393.81,280.15 394.07,279.11 394.32,277.47 394.57,275.17 394.82,272.44 395.07,269.73 395.33,267.66 395.58,266.81 395.83,267.41 396.08,269.30 396.33,271.94 396.59,274.71 396.84,277.11 397.09,278.87 397.34,280.01 397.59,280.65 397.84,280.97 398.10,281.11 398.35,281.17 398.60,281.19 398.85,281.20 399.10,281.20 399.36,281.20 399.61,281.20 399.86,281.20 400.11,281.20 400.36,281.20 400.61,281.20 400.87,281.20 401.12,281.20 401.37,281.20 401.62,281.20 401.87,281.20 402.13,281.20 402.38,281.20 402.63,281.20 402.88,281.20 403.13,281.20 403.39,281.20 403.64,281.20 403.89,281.20 404.14,281.20 404.39,281.20 404.64,281.20 404.90,281.20 405.15,281.20 405.40,281.20 405.65,281.20 405.90,281.20 406.16,281.20 406.41,281.19 406.66,281.17 406.91,281.10 407.16,280.93 407.41,280.56 407.67,279.81 407.92,278.50 408.17,276.47 408.42,273.72 408.67,270.56 408.93,267.57 409.18,265.45 409.43,264.81 409.68,265.83 409.93,268.22 410.19,271.32 410.44,274.42 410.69,277.01 410.94,278.87 411.19,280.03 411.44,280.67 411.70,280.98 411.95,281.12 412.20,281.17" fill="none" stroke="#d4365e" stroke-width="0.85" stroke-opacity="0.95" stroke-linejoin="round"/>
<line x1="385.00" y1="281.70" x2="412.20" y2="281.70" stroke="#a02848" stroke-width="0.6"/>
<polyline points="424.00,269.13 424.25,268.23 424.50,268.62 424.75,270.20 425.00,272.53 425.25,275.03 425.50,277.24 425.75,278.91 426.00,280.00 426.25,280.64 426.50,280.96 426.76,281.11 427.01,281.17 427.26,281.19 427.51,281.20 427.76,281.20 428.01,281.20 428.26,281.20 428.51,281.20 428.76,281.20 429.01,281.20 429.26,281.20 429.51,281.20 429.76,281.20 430.01,281.20 430.26,281.20 430.51,281.20 430.76,281.20 431.01,281.20 431.26,281.20 431.51,281.20 431.77,281.20 432.02,281.20 432.27,281.20 432.52,281.20 432.77,281.20 433.02,281.20 433.27,281.20 433.52,281.20 433.77,281.20 434.02,281.20 434.27,281.20 434.52,281.20 434.77,281.20 435.02,281.19 435.27,281.16 435.52,281.09 435.77,280.93 436.02,280.61 436.27,280.04 436.52,279.13 436.77,277.87 437.03,276.38 437.28,274.90 437.53,273.77 437.78,273.30 438.03,273.63 438.28,274.65 438.53,276.09 438.78,277.60 439.03,278.92 439.28,279.89 439.53,280.53 439.78,280.89 440.03,281.07 440.28,281.15 440.53,281.18 440.78,281.19 441.03,281.20 441.28,281.20 441.53,281.20 441.78,281.20 442.03,281.20 442.29,281.20 442.54,281.20 442.79,281.20 443.04,281.20 443.29,281.20 443.54,281.20 443.79,281.20 444.04,281.20 444.29,281.20 444.54,281.20 444.79,281.20 445.04,281.20 445.29,281.20 445.54,281.20 445.79,281.20 446.04,281.20 446.29,281.20 446.54,281.20 446.79,281.20 447.04,281.20 447.30,281.20 447.55,281.20 447.80,281.20 448.05,281.20 448.30,281.20 448.55,281.20 448.80,281.20 449.05,281.20 449.30,281.20 449.55,281.20 449.80,281.20" fill="none" stroke="#74c258" stroke-width="0.85" stroke-opacity="0.9" stroke-linejoin="round"/>
<polyline points="424.00,281.20 424.25,281.20 424.50,281.20 424.75,281.20 425.00,281.20 425.25,281.20 425.50,281.20 425.75,281.20 426.00,281.20 426.25,281.20 426.50,281.20 426.76,281.20 427.01,281.20 427.26,281.20 427.51,281.20 427.76,281.20 428.01,281.20 428.26,281.19 428.51,281.17 428.76,281.10 429.01,280.93 429.26,280.51 429.51,279.62 429.76,277.93 430.01,275.11 430.26,270.95 430.51,265.65 430.76,259.92 431.01,254.93 431.26,251.95 431.51,251.82 431.77,254.58 432.02,259.45 432.27,265.16 432.52,270.54 432.77,274.81 433.02,277.74 433.27,279.51 433.52,280.46 433.77,280.91 434.02,281.09 434.27,281.17 434.52,281.19 434.77,281.20 435.02,281.20 435.27,281.20 435.52,281.19 435.77,281.16 436.02,281.10 436.27,280.95 436.52,280.62 436.77,280.01 437.03,279.00 437.28,277.52 437.53,275.65 437.78,273.64 438.03,271.92 438.28,270.93 438.53,270.94 438.78,271.96 439.03,273.69 439.28,275.69 439.53,277.56 439.78,279.03 440.03,280.03 440.28,280.63 440.53,280.95 440.78,281.10 441.03,281.17 441.28,281.19 441.53,281.20 441.78,281.20 442.03,281.20 442.29,281.20 442.54,281.20 442.79,281.20 443.04,281.20 443.29,281.20 443.54,281.20 443.79,281.20 444.04,281.20 444.29,281.20 444.54,281.20 444.79,281.20 445.04,281.20 445.29,281.20 445.54,281.20 445.79,281.20 446.04,281.20 446.29,281.20 446.54,281.20 446.79,281.20 447.04,281.20 447.30,281.20 447.55,281.20 447.80,281.20 448.05,281.20 448.30,281.20 448.55,281.20 448.80,281.20 449.05,281.20 449.30,281.20 449.55,281.20 449.80,281.20" fill="none" stroke="#222222" stroke-width="0.85" stroke-opacity="0.95" stroke-linejoin="round"/>
<polyline points="424.00,281.20 424.25,281.20 424.50,281.20 424.75,281.20 425.00,281.20 425.25,281.20 425.50,281.20 425.75,281.20 426.00,281.20 426.25,281.20 426.50,281.20 426.76,281.20 427.01,281.20 427.26,281.20 427.51,281.20 427.76,281.20 428.01,281.20 428.26,281.20 428.51,281.20 428.76,281.20 429.01,281.20 429.26,281.20 429.51,281.20 429.76,281.20 430.01,281.20 430.26,281.20 430.51,281.20 430.76,281.20 431.01,281.20 431.26,281.20 431.51,281.20 431.77,281.20 432.02,281.20 432.27,281.20 432.52,281.20 432.77,281.20 433.02,281.20 433.27,281.20 433.52,281.20 433.77,281.20 434.02,281.20 434.27,281.20 434.52,281.20 434.77,281.20 435.02,281.20 435.27,281.20 435.52,281.20 435.77,281.20 436.02,281.20 436.27,281.20 436.52,281.20 436.77,281.20 437.03,281.20 437.28,281.20 437.53,281.20 437.78,281.20 438.03,281.20 438.28,281.20 438.53,281.19 438.78,281.15 439.03,281.07 439.28,280.88 439.53,280.47 439.78,279.69 440.03,278.41 440.28,276.55 440.53,274.20 440.78,271.70 441.03,269.56 441.28,268.34 441.53,268.38 441.78,269.65 442.03,271.76 442.29,274.08 442.54,276.01 442.79,277.05 443.04,276.94 443.29,275.61 443.54,273.23 443.79,270.26 444.04,267.39 444.29,265.37 444.54,264.82 444.79,265.90 445.04,268.30 445.29,271.40 445.54,274.48 445.79,277.04 446.04,278.88 446.29,280.03 446.54,280.67 446.79,280.98 447.04,281.12 447.30,281.17 447.55,281.19 447.80,281.20 448.05,281.20 448.30,281.20 448.55,281.20 448.80,281.20 449.05,281.20 449.30,281.20 449.55,281.20 449.80,281.20" fill="none" stroke="#4567ad" stroke-width="0.85" stroke-opacity="0.95" stroke-linejoin="round"/>
<polyline points="424.00,281.20 424.25,281.19 424.50,281.18 424.75,281.14 425.00,281.04 425.25,280.80 425.50,280.28 425.75,279.29 426.00,277.63 426.25,275.18 426.50,272.04 426.76,268.62 427.01,265.62 427.26,263.80 427.51,263.67 427.76,265.26 428.01,268.13 428.26,271.54 428.51,274.76 428.76,277.32 429.01,279.10 429.26,280.17 429.51,280.75 429.76,281.02 430.01,281.13 430.26,281.18 430.51,281.19 430.76,281.20 431.01,281.20 431.26,281.20 431.51,281.20 431.77,281.19 432.02,281.16 432.27,281.09 432.52,280.91 432.77,280.53 433.02,279.79 433.27,278.53 433.52,276.63 433.77,274.14 434.02,271.36 434.27,268.83 434.52,267.18 434.77,266.86 435.02,267.97 435.27,270.19 435.52,272.94 435.77,275.61 436.02,277.79 436.27,279.32 436.52,280.27 436.77,280.78 437.03,281.03 437.28,281.14 437.53,281.18 437.78,281.19 438.03,281.20 438.28,281.20 438.53,281.20 438.78,281.20 439.03,281.20 439.28,281.20 439.53,281.20 439.78,281.20 440.03,281.20 440.28,281.20 440.53,281.20 440.78,281.20 441.03,281.20 441.28,281.20 441.53,281.20 441.78,281.20 442.03,281.20 442.29,281.20 442.54,281.20 442.79,281.20 443.04,281.20 443.29,281.20 443.54,281.20 443.79,281.20 444.04,281.20 444.29,281.20 444.54,281.20 444.79,281.19 445.04,281.17 445.29,281.10 445.54,280.94 445.79,280.58 446.04,279.86 446.29,278.57 446.54,276.55 446.79,273.80 447.04,270.56 447.30,267.41 447.55,265.08 447.80,264.20 448.05,265.03 448.30,267.32 448.55,270.46 448.80,273.70 449.05,276.48 449.30,278.52 449.55,279.83 449.80,280.56" fill="none" stroke="#d4365e" stroke-width="0.85" stroke-opacity="0.95" stroke-linejoin="round"/>
<line x1="424.00" y1="281.70" x2="449.80" y2="281.70" stroke="#a02848" stroke-width="0.6"/>
<polyline points="462.00,281.20 462.25,281.20 462.50,281.20 462.76,281.20 463.01,281.20 463.26,281.20 463.51,281.20 463.76,281.20 464.01,281.20 464.27,281.20 464.52,281.20 464.77,281.20 465.02,281.20 465.27,281.19 465.53,281.17 465.78,281.10 466.03,280.93 466.28,280.51 466.53,279.64 466.79,277.99 467.04,275.25 467.29,271.27 467.54,266.26 467.79,260.97 468.04,256.50 468.30,254.04 468.55,254.29 468.80,257.18 469.05,261.88 469.30,267.20 469.56,272.06 469.81,275.82 470.06,278.35 470.31,279.84 470.56,280.61 470.81,280.97 471.07,281.12 471.32,281.18 471.57,281.19 471.82,281.20 472.07,281.20 472.33,281.20 472.58,281.20 472.83,281.19 473.08,281.18 473.33,281.14 473.59,281.04 473.84,280.78 474.09,280.22 474.34,279.15 474.59,277.33 474.84,274.63 475.10,271.13 475.35,267.31 475.60,263.93 475.85,261.85 476.10,261.67 476.36,263.44 476.61,266.65 476.86,270.46 477.11,274.06 477.36,276.92 477.61,278.89 477.87,280.08 478.12,280.71 478.37,281.01 478.62,281.13 478.87,281.18 479.13,281.19 479.38,281.20 479.63,281.20 479.88,281.20 480.13,281.20 480.39,281.20 480.64,281.20 480.89,281.20 481.14,281.20 481.39,281.20 481.64,281.20 481.90,281.20 482.15,281.20 482.40,281.20 482.65,281.20 482.90,281.20 483.16,281.20 483.41,281.20 483.66,281.20 483.91,281.20 484.16,281.20 484.41,281.20 484.67,281.20 484.92,281.20 485.17,281.20 485.42,281.20 485.67,281.20 485.93,281.20 486.18,281.20 486.43,281.20 486.68,281.20 486.93,281.20 487.19,281.20 487.44,281.20 487.69,281.20 487.94,281.20 488.19,281.20 488.44,281.20 488.70,281.20 488.95,281.20 489.20,281.20" fill="none" stroke="#222222" stroke-width="0.85" stroke-opacity="0.95" stroke-linejoin="round"/>
<polyline points="462.00,281.20 462.25,281.20 462.50,281.20 462.76,281.20 463.01,281.20 463.26,281.20 463.51,281.20 463.76,281.20 464.01,281.20 464.27,281.20 464.52,281.20 464.77,281.20 465.02,281.20 465.27,281.20 465.53,281.20 465.78,281.20 466.03,281.20 466.28,281.20 466.53,281.20 466.79,281.20 467.04,281.20 467.29,281.20 467.54,281.20 467.79,281.20 468.04,281.20 468.30,281.20 468.55,281.20 468.80,281.20 469.05,281.20 469.30,281.20 469.56,281.20 469.81,281.20 470.06,281.20 470.31,281.20 470.56,281.20 470.81,281.20 471.07,281.20 471.32,281.20 471.57,281.20 471.82,281.20 472.07,281.20 472.33,281.20 472.58,281.20 472.83,281.20 473.08,281.20 473.33,281.20 473.59,281.20 473.84,281.20 474.09,281.20 474.34,281.20 474.59,281.20 474.84,281.20 475.10,281.20 475.35,281.20 475.60,281.20 475.85,281.20 476.10,281.20 476.36,281.19 476.61,281.18 476.86,281.13 477.11,281.02 477.36,280.75 477.61,280.20 477.87,279.22 478.12,277.65 478.37,275.47 478.62,272.87 478.87,270.29 479.13,268.32 479.38,267.50 479.63,268.07 479.88,269.85 480.13,272.31 480.39,274.80 480.64,276.75 480.89,277.74 481.14,277.57 481.39,276.16 481.64,273.62 481.90,270.30 482.15,266.85 482.40,264.10 482.65,262.83 482.90,263.42 483.16,265.69 483.41,269.00 483.66,272.56 483.91,275.69 484.16,278.03 484.41,279.56 484.67,280.43 484.92,280.88 485.17,281.08 485.42,281.16 485.67,281.19 485.93,281.20 486.18,281.20 486.43,281.20 486.68,281.20 486.93,281.20 487.19,281.20 487.44,281.20 487.69,281.20 487.94,281.20 488.19,281.20 488.44,281.20 488.70,281.20 488.95,281.20 489.20,281.20" fill="none" stroke="#4567ad" stroke-width="0.85" stroke-opacity="0.95" stroke-linejoin="round"/>
<polyline points="462.00,281.04 462.25,280.79 462.50,280.24 462.76,279.21 463.01,277.46 463.26,274.89 463.51,271.59 463.76,268.02 464.01,264.91 464.27,263.07 464.52,263.01 464.77,264.76 465.02,267.81 465.27,271.38 465.53,274.71 465.78,277.33 466.03,279.13 466.28,280.20 466.53,280.76 466.79,281.03 467.04,281.14 467.29,281.18 467.54,281.19 467.79,281.20 468.04,281.20 468.30,281.20 468.55,281.20 468.80,281.20 469.05,281.19 469.30,281.16 469.56,281.08 469.81,280.90 470.06,280.49 470.31,279.69 470.56,278.32 470.81,276.25 471.07,273.53 471.32,270.48 471.57,267.71 471.82,265.90 472.07,265.57 472.33,266.81 472.58,269.27 472.83,272.28 473.08,275.20 473.33,277.56 473.59,279.21 473.84,280.22 474.09,280.76 474.34,281.03 474.59,281.14 474.84,281.18 475.10,281.19 475.35,281.20 475.60,281.20 475.85,281.20 476.10,281.20 476.36,281.20 476.61,281.20 476.86,281.20 477.11,281.20 477.36,281.20 477.61,281.20 477.87,281.20 478.12,281.20 478.37,281.20 478.62,281.20 478.87,281.20 479.13,281.20 479.38,281.20 479.63,281.20 479.88,281.20 480.13,281.20 480.39,281.20 480.64,281.20 480.89,281.20 481.14,281.20 481.39,281.20 481.64,281.20 481.90,281.20 482.15,281.20 482.40,281.20 482.65,281.20 482.90,281.20 483.16,281.19 483.41,281.18 483.66,281.14 483.91,281.03 484.16,280.75 484.41,280.18 484.67,279.08 484.92,277.24 485.17,274.54 485.42,271.11 485.67,267.43 485.93,264.26 486.18,262.43 486.43,262.46 486.68,264.34 486.93,267.54 487.19,271.22 487.44,274.63 487.69,277.31 487.94,279.12 488.19,280.20 488.44,280.77 488.70,281.03 488.95,281.14 489.20,281.18" fill="none" stroke="#d4365e" stroke-width="0.85" stroke-opacity="0.95" stroke-linejoin="round"/>
<line x1="462.00" y1="281.70" x2="489.20" y2="281.70" stroke="#a02848" stroke-width="0.6"/>
<path d="M319.00,252.50 L323.60,252.50 L321.30,256.40 Z" fill="#3c9ad8" stroke="#222" stroke-width="0.55"/>
<path d="M357.50,252.50 L362.10,252.50 L359.80,256.40 Z" fill="#c01070" stroke="#222" stroke-width="0.55"/>
<path d="M396.10,252.50 L400.70,252.50 L398.40,256.40 Z" fill="#c01070" stroke="#222" stroke-width="0.55"/>
<path d="M434.50,252.50 L439.10,252.50 L436.80,256.40 Z" fill="#c01070" stroke="#222" stroke-width="0.55"/>
<path d="M473.10,252.50 L477.70,252.50 L475.40,256.40 Z" fill="#3c9ad8" stroke="#222" stroke-width="0.55"/>
<polyline points="308.00,333.60 308.25,333.60 308.50,333.60 308.75,333.60 309.00,333.60 309.25,333.60 309.50,333.60 309.75,333.60 310.00,333.60 310.25,333.60 310.50,333.60 310.76,333.60 311.01,333.60 311.26,333.60 311.51,333.60 311.76,333.60 312.01,333.60 312.26,333.60 312.51,333.60 312.76,333.60 313.01,333.60 313.26,333.60 313.51,333.60 313.76,333.60 314.01,333.60 314.26,333.60 314.51,333.60 314.76,333.60 315.01,333.59 315.26,333.57 315.51,333.51 315.76,333.36 316.01,333.00 316.27,332.25 316.52,330.87 316.77,328.62 317.02,325.40 317.27,321.44 317.52,317.33 317.77,313.96 318.02,312.22 318.27,312.60 318.52,315.00 318.77,318.73 319.02,322.89 319.27,326.63 319.52,329.51 319.77,331.44 320.02,332.57 320.27,333.16 320.52,333.43 320.77,333.54 321.02,333.58 321.27,333.59 321.53,333.60 321.78,333.60 322.03,333.60 322.28,333.60 322.53,333.60 322.78,333.60 323.03,333.60 323.28,333.60 323.53,333.60 323.78,333.60 324.03,333.60 324.28,333.60 324.53,333.60 324.78,333.60 325.03,333.60 325.28,333.60 325.53,333.60 325.78,333.60 326.03,333.60 326.28,333.60 326.53,333.60 326.79,333.60 327.04,333.60 327.29,333.60 327.54,333.60 327.79,333.60 328.04,333.60 328.29,333.60 328.54,333.60 328.79,333.60 329.04,333.60 329.29,333.60 329.54,333.60 329.79,333.60 330.04,333.60 330.29,333.60 330.54,333.60 330.79,333.60 331.04,333.60 331.29,333.60 331.54,333.60 331.79,333.60 332.04,333.60 332.30,333.60 332.55,333.60 332.80,333.60 333.05,333.60 333.30,333.60 333.55,333.60 333.80,333.60 334.05,333.60 334.30,333.60 334.55,333.60 334.80,333.60" fill="none" stroke="#74c258" stroke-width="0.85" stroke-opacity="0.9" stroke-linejoin="round"/>
<polyline points="308.00,333.59 308.25,333.56 308.50,333.49 308.75,333.32 309.00,332.93 309.25,332.15 309.50,330.78 309.75,328.64 310.00,325.73 310.25,322.33 310.50,319.05 310.76,316.66 311.01,315.80 311.26,316.73 311.51,319.18 311.76,322.47 312.01,325.81 312.26,328.58 312.51,330.42 312.76,331.23 313.01,330.98 313.26,329.72 313.51,327.55 313.76,324.71 314.01,321.71 314.26,319.22 314.51,317.90 314.76,318.14 315.01,319.87 315.26,322.60 315.51,325.65 315.76,328.42 316.01,330.55 316.27,331.98 316.52,332.83 316.77,333.27 317.02,333.47 317.27,333.55 317.52,333.59 317.77,333.60 318.02,333.60 318.27,333.60 318.52,333.60 318.77,333.60 319.02,333.60 319.27,333.60 319.52,333.60 319.77,333.60 320.02,333.60 320.27,333.60 320.52,333.60 320.77,333.60 321.02,333.60 321.27,333.60 321.53,333.60 321.78,333.60 322.03,333.60 322.28,333.60 322.53,333.60 322.78,333.60 323.03,333.60 323.28,333.60 323.53,333.60 323.78,333.60 324.03,333.60 324.28,333.60 324.53,333.60 324.78,333.60 325.03,333.60 325.28,333.60 325.53,333.60 325.78,333.58 326.03,333.55 326.28,333.44 326.53,333.17 326.79,332.55 327.04,331.32 327.29,329.12 327.54,325.66 327.79,320.91 328.04,315.31 328.29,309.82 328.54,305.71 328.79,304.10 329.04,305.46 329.29,309.38 329.54,314.79 329.79,320.43 330.04,325.27 330.29,328.84 330.54,331.09 330.79,332.28 331.04,332.68 331.29,332.47 331.54,331.72 331.79,330.43 332.04,328.68 332.30,326.68 332.55,324.82 332.80,323.55 333.05,323.22 333.30,323.93 333.55,325.47 333.80,327.44 334.05,329.39 334.30,331.00 334.55,332.15 334.80,332.87" fill="none" stroke="#222222" stroke-width="0.85" stroke-opacity="0.95" stroke-linejoin="round"/>
<polyline points="308.00,323.20 308.25,323.72 308.50,325.14 308.75,327.06 309.00,329.04 309.25,330.73 309.50,331.97 309.75,332.77 310.00,333.22 310.25,333.44 310.50,333.54 310.76,333.58 311.01,333.59 311.26,333.60 311.51,333.60 311.76,333.60 312.01,333.60 312.26,333.60 312.51,333.60 312.76,333.60 313.01,333.60 313.26,333.60 313.51,333.60 313.76,333.60 314.01,333.60 314.26,333.60 314.51,333.60 314.76,333.60 315.01,333.60 315.26,333.60 315.51,333.60 315.76,333.60 316.01,333.60 316.27,333.60 316.52,333.60 316.77,333.60 317.02,333.60 317.27,333.60 317.52,333.60 317.77,333.60 318.02,333.60 318.27,333.60 318.52,333.59 318.77,333.56 319.02,333.49 319.27,333.34 319.52,333.02 319.77,332.46 320.02,331.56 320.27,330.32 320.52,328.85 320.77,327.39 321.02,326.27 321.27,325.80 321.53,326.12 321.78,327.11 322.03,328.51 322.28,329.95 322.53,331.10 322.78,331.73 323.03,331.69 323.28,330.84 323.53,329.12 323.78,326.58 324.03,323.51 324.28,320.46 324.53,318.15 324.78,317.20 325.03,317.91 325.28,320.05 325.53,323.05 325.78,326.19 326.03,328.90 326.28,330.92 326.53,332.22 326.79,332.96 327.04,333.33 327.29,333.50 327.54,333.57 327.79,333.59 328.04,333.60 328.29,333.60 328.54,333.60 328.79,333.60 329.04,333.60 329.29,333.60 329.54,333.60 329.79,333.60 330.04,333.60 330.29,333.60 330.54,333.60 330.79,333.60 331.04,333.60 331.29,333.60 331.54,333.60 331.79,333.60 332.04,333.60 332.30,333.60 332.55,333.60 332.80,333.60 333.05,333.60 333.30,333.60 333.55,333.60 333.80,333.60 334.05,333.60 334.30,333.60 334.55,333.60 334.80,333.60" fill="none" stroke="#d4365e" stroke-width="0.85" stroke-opacity="0.95" stroke-linejoin="round"/>
<line x1="308.00" y1="334.10" x2="334.80" y2="334.10" stroke="#a02848" stroke-width="0.6"/>
<polyline points="345.70,333.60 345.95,333.60 346.20,333.60 346.46,333.60 346.71,333.60 346.96,333.60 347.21,333.60 347.46,333.60 347.71,333.60 347.97,333.60 348.22,333.60 348.47,333.60 348.72,333.60 348.97,333.60 349.22,333.60 349.48,333.60 349.73,333.60 349.98,333.60 350.23,333.60 350.48,333.60 350.74,333.60 350.99,333.60 351.24,333.60 351.49,333.60 351.74,333.60 351.99,333.60 352.25,333.60 352.50,333.60 352.75,333.60 353.00,333.60 353.25,333.59 353.50,333.58 353.76,333.53 354.01,333.40 354.26,333.09 354.51,332.43 354.76,331.17 355.01,329.05 355.27,325.94 355.52,321.98 355.77,317.72 356.02,314.04 356.27,311.89 356.53,311.88 356.78,314.03 357.03,317.71 357.28,321.97 357.53,325.93 357.78,329.04 358.04,331.16 358.29,332.42 358.54,333.09 358.79,333.40 359.04,333.53 359.29,333.58 359.55,333.59 359.80,333.60 360.05,333.60 360.30,333.60 360.55,333.60 360.81,333.60 361.06,333.60 361.31,333.60 361.56,333.60 361.81,333.60 362.06,333.60 362.32,333.60 362.57,333.60 362.82,333.60 363.07,333.60 363.32,333.60 363.57,333.60 363.83,333.60 364.08,333.60 364.33,333.60 364.58,333.60 364.83,333.60 365.09,333.60 365.34,333.60 365.59,333.60 365.84,333.60 366.09,333.60 366.34,333.60 366.60,333.60 366.85,333.60 367.10,333.60 367.35,333.60 367.60,333.60 367.85,333.60 368.11,333.60 368.36,333.60 368.61,333.60 368.86,333.60 369.11,333.60 369.36,333.60 369.62,333.60 369.87,333.60 370.12,333.60 370.37,333.60 370.62,333.60 370.88,333.60 371.13,333.59 371.38,333.57 371.63,333.51 371.88,333.37 372.13,333.08 372.39,332.53 372.64,331.62 372.89,330.30 373.14,328.64 373.39,326.88 373.64,325.40 373.90,324.58 374.15,324.66 374.40,325.62" fill="none" stroke="#74c258" stroke-width="0.85" stroke-opacity="0.9" stroke-linejoin="round"/>
<polyline points="345.70,333.58 345.95,333.55 346.20,333.44 346.46,333.20 346.71,332.68 346.96,331.69 347.21,330.02 347.46,327.56 347.71,324.42 347.97,321.03 348.22,318.08 348.47,316.34 348.72,316.31 348.97,317.99 349.22,320.90 349.48,324.28 349.73,327.43 349.98,329.88 350.23,331.48 350.48,332.25 350.74,332.28 350.99,331.58 351.24,330.10 351.49,327.84 351.74,324.97 351.99,321.92 352.25,319.35 352.50,317.94 352.75,318.09 353.00,319.75 353.25,322.47 353.50,325.53 353.76,328.33 354.01,330.50 354.26,331.96 354.51,332.82 354.76,333.26 355.01,333.47 355.27,333.55 355.52,333.59 355.77,333.60 356.02,333.60 356.27,333.60 356.53,333.60 356.78,333.60 357.03,333.60 357.28,333.60 357.53,333.60 357.78,333.60 358.04,333.60 358.29,333.60 358.54,333.60 358.79,333.60 359.04,333.60 359.29,333.60 359.55,333.60 359.80,333.60 360.05,333.60 360.30,333.60 360.55,333.60 360.81,333.60 361.06,333.60 361.31,333.60 361.56,333.60 361.81,333.60 362.06,333.60 362.32,333.60 362.57,333.60 362.82,333.60 363.07,333.60 363.32,333.60 363.57,333.60 363.83,333.60 364.08,333.59 364.33,333.58 364.58,333.53 364.83,333.40 365.09,333.07 365.34,332.34 365.59,330.92 365.84,328.43 366.09,324.62 366.34,319.54 366.60,313.78 366.85,308.42 367.10,304.77 367.35,303.86 367.60,305.96 367.85,310.45 368.11,316.13 368.36,321.71 368.61,326.29 368.86,329.50 369.11,331.38 369.36,332.19 369.62,332.16 369.87,331.41 370.12,330.02 370.37,328.12 370.62,325.97 370.88,324.03 371.13,322.77 371.38,322.56 371.63,323.45 371.88,325.20 372.13,327.33 372.39,329.39 372.64,331.05 372.89,332.21 373.14,332.92 373.39,333.30 373.64,333.48 373.90,333.56 374.15,333.59 374.40,333.60" fill="none" stroke="#222222" stroke-width="0.85" stroke-opacity="0.95" stroke-linejoin="round"/>
<polyline points="345.70,327.80 345.95,328.09 346.20,328.89 346.46,329.97 346.71,331.08 346.96,332.02 347.21,332.71 347.46,333.15 347.71,333.39 347.97,333.51 348.22,333.57 348.47,333.59 348.72,333.60 348.97,333.60 349.22,333.60 349.48,333.60 349.73,333.60 349.98,333.60 350.23,333.60 350.48,333.60 350.74,333.60 350.99,333.60 351.24,333.60 351.49,333.60 351.74,333.60 351.99,333.60 352.25,333.60 352.50,333.60 352.75,333.60 353.00,333.60 353.25,333.60 353.50,333.60 353.76,333.60 354.01,333.60 354.26,333.60 354.51,333.60 354.76,333.60 355.01,333.60 355.27,333.60 355.52,333.60 355.77,333.60 356.02,333.60 356.27,333.60 356.53,333.60 356.78,333.59 357.03,333.58 357.28,333.53 357.53,333.42 357.78,333.19 358.04,332.74 358.29,331.97 358.54,330.82 358.79,329.34 359.04,327.71 359.29,326.26 359.55,325.36 359.80,325.27 360.05,326.00 360.30,327.35 360.55,328.95 360.81,330.42 361.06,331.47 361.31,331.91 361.56,331.63 361.81,330.50 362.06,328.44 362.32,325.54 362.57,322.14 362.82,318.88 363.07,316.55 363.32,315.81 363.57,316.87 363.83,319.42 364.08,322.78 364.33,326.15 364.58,328.98 364.83,331.02 365.09,332.30 365.34,333.01 365.59,333.36 365.84,333.51 366.09,333.57 366.34,333.59 366.60,333.60 366.85,333.60 367.10,333.60 367.35,333.60 367.60,333.60 367.85,333.60 368.11,333.60 368.36,333.60 368.61,333.60 368.86,333.60 369.11,333.60 369.36,333.60 369.62,333.60 369.87,333.60 370.12,333.60 370.37,333.60 370.62,333.60 370.88,333.60 371.13,333.60 371.38,333.60 371.63,333.60 371.88,333.60 372.13,333.60 372.39,333.60 372.64,333.60 372.89,333.60 373.14,333.60 373.39,333.60 373.64,333.60 373.90,333.60 374.15,333.60 374.40,333.60" fill="none" stroke="#d4365e" stroke-width="0.85" stroke-opacity="0.95" stroke-linejoin="round"/>
<line x1="345.70" y1="334.10" x2="374.40" y2="334.10" stroke="#a02848" stroke-width="0.6"/>
<polyline points="385.00,333.60 385.25,333.60 385.50,333.60 385.75,333.60 386.00,333.60 386.25,333.60 386.50,333.60 386.75,333.60 387.00,333.60 387.25,333.60 387.50,333.60 387.76,333.60 388.01,333.60 388.26,333.60 388.51,333.60 388.76,333.60 389.01,333.60 389.26,333.60 389.51,333.60 389.76,333.60 390.01,333.60 390.26,333.60 390.51,333.60 390.76,333.60 391.01,333.60 391.26,333.60 391.51,333.60 391.76,333.60 392.01,333.59 392.26,333.56 392.51,333.47 392.76,333.26 393.01,332.78 393.27,331.85 393.52,330.20 393.77,327.65 394.02,324.20 394.27,320.22 394.52,316.42 394.77,313.70 395.02,312.81 395.27,314.00 395.52,316.94 395.77,320.82 396.02,324.76 396.27,328.09 396.52,330.50 396.77,332.02 397.02,332.88 397.27,333.30 397.52,333.49 397.77,333.56 398.02,333.59 398.27,333.60 398.53,333.60 398.78,333.60 399.03,333.60 399.28,333.60 399.53,333.60 399.78,333.60 400.03,333.60 400.28,333.60 400.53,333.60 400.78,333.60 401.03,333.60 401.28,333.60 401.53,333.60 401.78,333.60 402.03,333.60 402.28,333.60 402.53,333.60 402.78,333.60 403.03,333.60 403.28,333.60 403.53,333.60 403.79,333.60 404.04,333.60 404.29,333.60 404.54,333.60 404.79,333.60 405.04,333.60 405.29,333.60 405.54,333.60 405.79,333.60 406.04,333.60 406.29,333.60 406.54,333.60 406.79,333.60 407.04,333.60 407.29,333.60 407.54,333.60 407.79,333.60 408.04,333.59 408.29,333.58 408.54,333.54 408.79,333.45 409.04,333.25 409.30,332.86 409.55,332.18 409.80,331.14 410.05,329.76 410.30,328.20 410.55,326.75 410.80,325.77 411.05,325.52 411.30,326.07 411.55,327.28 411.80,328.81" fill="none" stroke="#74c258" stroke-width="0.85" stroke-opacity="0.9" stroke-linejoin="round"/>
<polyline points="385.00,333.53 385.25,333.40 385.50,333.10 385.75,332.47 386.00,331.30 386.25,329.37 386.50,326.61 386.75,323.17 387.00,319.56 387.25,316.56 387.50,314.94 387.76,315.17 388.01,317.18 388.26,320.40 388.51,324.01 388.76,327.29 389.01,329.76 389.26,331.25 389.51,331.77 389.76,331.36 390.01,330.01 390.26,327.77 390.51,324.82 390.76,321.59 391.01,318.76 391.26,317.06 391.51,316.97 391.76,318.52 392.01,321.26 392.26,324.50 392.51,327.54 392.76,329.96 393.01,331.63 393.27,332.64 393.52,333.18 393.77,333.43 394.02,333.54 394.27,333.58 394.52,333.59 394.77,333.60 395.02,333.60 395.27,333.60 395.52,333.60 395.77,333.60 396.02,333.60 396.27,333.60 396.52,333.60 396.77,333.60 397.02,333.60 397.27,333.60 397.52,333.60 397.77,333.60 398.02,333.60 398.27,333.60 398.53,333.60 398.78,333.60 399.03,333.60 399.28,333.60 399.53,333.60 399.78,333.60 400.03,333.60 400.28,333.60 400.53,333.60 400.78,333.60 401.03,333.60 401.28,333.60 401.53,333.60 401.78,333.60 402.03,333.60 402.28,333.59 402.53,333.56 402.78,333.48 403.03,333.28 403.28,332.79 403.53,331.76 403.79,329.84 404.04,326.65 404.29,322.02 404.54,316.21 404.79,310.03 405.04,304.79 405.29,301.83 405.54,302.00 405.79,305.25 406.04,310.66 406.29,316.85 406.54,322.56 406.79,327.00 407.04,329.97 407.29,331.59 407.54,332.15 407.79,331.86 408.04,330.83 408.29,329.14 408.54,326.97 408.79,324.65 409.04,322.69 409.30,321.61 409.55,321.71 409.80,322.96 410.05,325.02 410.30,327.36 410.55,329.50 410.80,331.17 411.05,332.30 411.30,332.98 411.55,333.33 411.80,333.49" fill="none" stroke="#222222" stroke-width="0.85" stroke-opacity="0.95" stroke-linejoin="round"/>
<polyline points="385.00,333.60 385.25,333.60 385.50,333.60 385.75,333.60 386.00,333.60 386.25,333.60 386.50,333.60 386.75,333.60 387.00,333.60 387.25,333.60 387.50,333.60 387.76,333.60 388.01,333.60 388.26,333.60 388.51,333.60 388.76,333.60 389.01,333.60 389.26,333.60 389.51,333.60 389.76,333.60 390.01,333.60 390.26,333.60 390.51,333.60 390.76,333.60 391.01,333.60 391.26,333.60 391.51,333.60 391.76,333.60 392.01,333.60 392.26,333.60 392.51,333.60 392.76,333.60 393.01,333.60 393.27,333.60 393.52,333.60 393.77,333.60 394.02,333.60 394.27,333.60 394.52,333.60 394.77,333.60 395.02,333.59 395.27,333.57 395.52,333.50 395.77,333.34 396.02,332.98 396.27,332.28 396.52,331.05 396.77,329.14 397.02,326.58 397.27,323.63 397.52,320.82 397.77,318.83 398.02,318.21 398.27,319.13 398.53,321.32 398.78,324.21 399.03,327.12 399.28,329.57 399.53,331.33 399.78,332.45 400.03,333.08 400.28,333.38 400.53,333.52 400.78,333.57 401.03,333.59 401.28,333.60 401.53,333.60 401.78,333.60 402.03,333.60 402.28,333.60 402.53,333.60 402.78,333.60 403.03,333.60 403.28,333.60 403.53,333.60 403.79,333.60 404.04,333.60 404.29,333.60 404.54,333.60 404.79,333.60 405.04,333.60 405.29,333.60 405.54,333.60 405.79,333.60 406.04,333.60 406.29,333.60 406.54,333.60 406.79,333.60 407.04,333.60 407.29,333.60 407.54,333.60 407.79,333.60 408.04,333.60 408.29,333.60 408.54,333.60 408.79,333.60 409.04,333.60 409.30,333.60 409.55,333.60 409.80,333.60 410.05,333.60 410.30,333.60 410.55,333.60 410.80,333.60 411.05,333.60 411.30,333.60 411.55,333.60 411.80,333.60" fill="none" stroke="#4567ad" stroke-width="0.85" stroke-opacity="0.95" stroke-linejoin="round"/>
<polyline points="385.00,333.60 385.25,333.60 385.50,333.60 385.75,333.60 386.00,333.60 386.25,333.60 386.50,333.60 386.75,333.60 387.00,333.60 387.25,333.60 387.50,333.60 387.76,333.60 388.01,333.60 388.26,333.60 388.51,333.60 388.76,333.60 389.01,333.60 389.26,333.60 389.51,333.60 389.76,333.60 390.01,333.60 390.26,333.60 390.51,333.60 390.76,333.60 391.01,333.60 391.26,333.60 391.51,333.60 391.76,333.60 392.01,333.60 392.26,333.60 392.51,333.60 392.76,333.60 393.01,333.60 393.27,333.60 393.52,333.60 393.77,333.60 394.02,333.60 394.27,333.60 394.52,333.60 394.77,333.60 395.02,333.60 395.27,333.60 395.52,333.60 395.77,333.60 396.02,333.60 396.27,333.60 396.52,333.60 396.77,333.60 397.02,333.60 397.27,333.60 397.52,333.60 397.77,333.60 398.02,333.60 398.27,333.60 398.53,333.59 398.78,333.57 399.03,333.50 399.28,333.34 399.53,332.97 399.78,332.26 400.03,331.00 400.28,329.08 400.53,326.50 400.78,323.55 401.03,320.76 401.28,318.80 401.53,318.21 401.78,319.17 402.03,321.39 402.28,324.29 402.53,327.19 402.78,329.62 403.03,331.37 403.28,332.47 403.53,333.09 403.79,333.39 404.04,333.52 404.29,333.57 404.54,333.59 404.79,333.60 405.04,333.60 405.29,333.60 405.54,333.60 405.79,333.60 406.04,333.60 406.29,333.60 406.54,333.60 406.79,333.60 407.04,333.60 407.29,333.60 407.54,333.60 407.79,333.60 408.04,333.60 408.29,333.60 408.54,333.60 408.79,333.60 409.04,333.60 409.30,333.60 409.55,333.60 409.80,333.60 410.05,333.60 410.30,333.60 410.55,333.60 410.80,333.60 411.05,333.60 411.30,333.60 411.55,333.60 411.80,333.60" fill="none" stroke="#d4365e" stroke-width="0.85" stroke-opacity="0.95" stroke-linejoin="round"/>
<line x1="385.00" y1="334.10" x2="411.80" y2="334.10" stroke="#a02848" stroke-width="0.6"/>
<polyline points="424.00,333.60 424.25,333.60 424.50,333.60 424.75,333.60 425.00,333.60 425.25,333.60 425.50,333.60 425.75,333.60 426.00,333.60 426.25,333.60 426.50,333.60 426.76,333.60 427.01,333.60 427.26,333.60 427.51,333.60 427.76,333.60 428.01,333.60 428.26,333.60 428.51,333.60 428.76,333.60 429.01,333.60 429.26,333.60 429.51,333.60 429.76,333.60 430.01,333.60 430.26,333.59 430.51,333.58 430.76,333.53 431.01,333.41 431.26,333.13 431.51,332.52 431.76,331.37 432.01,329.45 432.27,326.62 432.52,323.03 432.77,319.15 433.02,315.78 433.27,313.79 433.52,313.73 433.77,315.62 434.02,318.93 434.27,322.80 434.52,326.43 434.77,329.30 435.02,331.28 435.27,332.47 435.52,333.10 435.77,333.40 436.02,333.53 436.27,333.58 436.52,333.59 436.77,333.60 437.02,333.60 437.27,333.60 437.53,333.60 437.78,333.60 438.03,333.60 438.28,333.60 438.53,333.60 438.78,333.60 439.03,333.60 439.28,333.60 439.53,333.60 439.78,333.60 440.03,333.60 440.28,333.60 440.53,333.60 440.78,333.60 441.03,333.60 441.28,333.60 441.53,333.60 441.78,333.60 442.03,333.60 442.28,333.60 442.53,333.60 442.79,333.60 443.04,333.60 443.29,333.60 443.54,333.60 443.79,333.60 444.04,333.60 444.29,333.60 444.54,333.60 444.79,333.60 445.04,333.60 445.29,333.60 445.54,333.60 445.79,333.60 446.04,333.60 446.29,333.60 446.54,333.60 446.79,333.60 447.04,333.60 447.29,333.60 447.54,333.60 447.79,333.59 448.04,333.57 448.30,333.53 448.55,333.43 448.80,333.23 449.05,332.89 449.30,332.38 449.55,331.70 449.80,330.93 450.05,330.22 450.30,329.73 450.55,329.61 450.80,329.89" fill="none" stroke="#74c258" stroke-width="0.85" stroke-opacity="0.9" stroke-linejoin="round"/>
<polyline points="424.00,332.97 424.25,332.24 424.50,330.95 424.75,328.93 425.00,326.19 425.25,322.99 425.50,319.89 425.75,317.62 426.00,316.80 426.25,317.67 426.50,319.97 426.76,323.08 427.01,326.27 427.26,328.97 427.51,330.91 427.76,332.02 428.01,332.40 428.26,332.07 428.51,331.03 428.76,329.23 429.01,326.72 429.26,323.78 429.51,320.95 429.76,318.91 430.01,318.20 430.26,319.04 430.51,321.19 430.76,324.05 431.01,326.97 431.26,329.45 431.51,331.26 431.76,332.41 432.01,333.05 432.27,333.37 432.52,333.52 432.77,333.57 433.02,333.59 433.27,333.60 433.52,333.60 433.77,333.60 434.02,333.60 434.27,333.60 434.52,333.60 434.77,333.60 435.02,333.60 435.27,333.60 435.52,333.60 435.77,333.60 436.02,333.60 436.27,333.60 436.52,333.60 436.77,333.60 437.02,333.60 437.27,333.60 437.53,333.60 437.78,333.60 438.03,333.60 438.28,333.60 438.53,333.60 438.78,333.60 439.03,333.60 439.28,333.60 439.53,333.60 439.78,333.60 440.03,333.60 440.28,333.60 440.53,333.60 440.78,333.60 441.03,333.60 441.28,333.58 441.53,333.54 441.78,333.43 442.03,333.16 442.28,332.53 442.53,331.28 442.79,329.04 443.04,325.51 443.29,320.67 443.54,314.96 443.79,309.36 444.04,305.16 444.29,303.50 444.54,304.87 444.79,308.87 445.04,314.39 445.29,320.14 445.54,325.07 445.79,328.68 446.04,330.91 446.29,331.98 446.54,332.11 446.79,331.44 447.04,330.04 447.29,328.01 447.54,325.59 447.79,323.22 448.04,321.47 448.30,320.80 448.55,321.42 448.80,323.15 449.05,325.51 449.30,327.95 449.55,330.04 449.80,331.58 450.05,332.56 450.30,333.12 450.55,333.40 450.80,333.52" fill="none" stroke="#222222" stroke-width="0.85" stroke-opacity="0.95" stroke-linejoin="round"/>
<polyline points="424.00,333.60 424.25,333.60 424.50,333.60 424.75,333.60 425.00,333.60 425.25,333.60 425.50,333.60 425.75,333.60 426.00,333.60 426.25,333.60 426.50,333.60 426.76,333.60 427.01,333.60 427.26,333.60 427.51,333.60 427.76,333.60 428.01,333.60 428.26,333.60 428.51,333.60 428.76,333.60 429.01,333.60 429.26,333.60 429.51,333.60 429.76,333.60 430.01,333.60 430.26,333.60 430.51,333.60 430.76,333.60 431.01,333.60 431.26,333.60 431.51,333.60 431.76,333.60 432.01,333.60 432.27,333.60 432.52,333.60 432.77,333.60 433.02,333.60 433.27,333.60 433.52,333.60 433.77,333.59 434.02,333.57 434.27,333.50 434.52,333.34 434.77,333.00 435.02,332.34 435.27,331.21 435.52,329.51 435.77,327.29 436.02,324.82 436.27,322.58 436.52,321.12 436.77,320.86 437.02,321.86 437.27,323.84 437.53,326.29 437.78,328.65 438.03,330.58 438.28,331.94 438.53,332.78 438.78,333.23 439.03,333.45 439.28,333.55 439.53,333.58 439.78,333.59 440.03,333.60 440.28,333.60 440.53,333.60 440.78,333.60 441.03,333.60 441.28,333.60 441.53,333.60 441.78,333.60 442.03,333.60 442.28,333.60 442.53,333.60 442.79,333.60 443.04,333.60 443.29,333.60 443.54,333.60 443.79,333.60 444.04,333.60 444.29,333.60 444.54,333.60 444.79,333.60 445.04,333.60 445.29,333.60 445.54,333.60 445.79,333.60 446.04,333.60 446.29,333.60 446.54,333.60 446.79,333.60 447.04,333.60 447.29,333.60 447.54,333.60 447.79,333.60 448.04,333.60 448.30,333.60 448.55,333.60 448.80,333.60 449.05,333.60 449.30,333.60 449.55,333.60 449.80,333.60 450.05,333.60 450.30,333.60 450.55,333.60 450.80,333.60" fill="none" stroke="#4567ad" stroke-width="0.85" stroke-opacity="0.95" stroke-linejoin="round"/>
<polyline points="424.00,333.60 424.25,333.60 424.50,333.60 424.75,333.60 425.00,333.60 425.25,333.60 425.50,333.60 425.75,333.60 426.00,333.60 426.25,333.60 426.50,333.60 426.76,333.60 427.01,333.60 427.26,333.60 427.51,333.60 427.76,333.60 428.01,333.60 428.26,333.60 428.51,333.60 428.76,333.60 429.01,333.60 429.26,333.60 429.51,333.60 429.76,333.60 430.01,333.60 430.26,333.60 430.51,333.60 430.76,333.60 431.01,333.60 431.26,333.60 431.51,333.60 431.76,333.60 432.01,333.60 432.27,333.60 432.52,333.60 432.77,333.60 433.02,333.60 433.27,333.60 433.52,333.60 433.77,333.60 434.02,333.60 434.27,333.60 434.52,333.60 434.77,333.60 435.02,333.60 435.27,333.60 435.52,333.60 435.77,333.60 436.02,333.60 436.27,333.60 436.52,333.60 436.77,333.60 437.02,333.60 437.27,333.59 437.53,333.57 437.78,333.51 438.03,333.37 438.28,333.04 438.53,332.38 438.78,331.20 439.03,329.34 439.28,326.77 439.53,323.72 439.78,320.71 440.03,318.44 440.28,317.51 440.53,318.19 440.78,320.29 441.03,323.23 441.28,326.31 441.53,328.98 441.78,330.96 442.03,332.24 442.28,332.97 442.53,333.33 442.79,333.50 443.04,333.57 443.29,333.59 443.54,333.60 443.79,333.60 444.04,333.60 444.29,333.60 444.54,333.60 444.79,333.60 445.04,333.60 445.29,333.60 445.54,333.60 445.79,333.60 446.04,333.60 446.29,333.60 446.54,333.60 446.79,333.60 447.04,333.60 447.29,333.60 447.54,333.60 447.79,333.60 448.04,333.60 448.30,333.60 448.55,333.60 448.80,333.60 449.05,333.60 449.30,333.60 449.55,333.60 449.80,333.60 450.05,333.60 450.30,333.60 450.55,333.60 450.80,333.60" fill="none" stroke="#d4365e" stroke-width="0.85" stroke-opacity="0.95" stroke-linejoin="round"/>
<line x1="424.00" y1="334.10" x2="450.80" y2="334.10" stroke="#a02848" stroke-width="0.6"/>
<polyline points="461.30,333.60 461.55,333.60 461.80,333.60 462.05,333.60 462.30,333.60 462.55,333.60 462.81,333.60 463.06,333.60 463.31,333.60 463.56,333.60 463.81,333.60 464.06,333.60 464.31,333.60 464.56,333.60 464.81,333.60 465.06,333.60 465.31,333.60 465.57,333.60 465.82,333.60 466.07,333.60 466.32,333.60 466.57,333.60 466.82,333.60 467.07,333.60 467.32,333.60 467.57,333.60 467.82,333.60 468.07,333.60 468.32,333.60 468.58,333.60 468.83,333.60 469.08,333.60 469.33,333.59 469.58,333.56 469.83,333.47 470.08,333.26 470.33,332.80 470.58,331.88 470.83,330.28 471.08,327.84 471.34,324.57 471.59,320.83 471.84,317.33 472.09,314.90 472.34,314.22 472.59,315.50 472.84,318.35 473.09,322.01 473.34,325.66 473.59,328.70 473.84,330.87 474.10,332.23 474.35,332.98 474.60,333.35 474.85,333.51 475.10,333.57 475.35,333.59 475.60,333.60 475.85,333.60 476.10,333.60 476.35,333.60 476.60,333.60 476.86,333.60 477.11,333.60 477.36,333.60 477.61,333.60 477.86,333.60 478.11,333.60 478.36,333.60 478.61,333.60 478.86,333.60 479.11,333.60 479.36,333.60 479.62,333.60 479.87,333.60 480.12,333.60 480.37,333.60 480.62,333.60 480.87,333.60 481.12,333.60 481.37,333.60 481.62,333.60 481.87,333.60 482.12,333.60 482.38,333.60 482.63,333.60 482.88,333.60 483.13,333.60 483.38,333.60 483.63,333.60 483.88,333.60 484.13,333.60 484.38,333.60 484.63,333.60 484.88,333.60 485.13,333.60 485.39,333.60 485.64,333.60 485.89,333.60 486.14,333.59 486.39,333.56 486.64,333.48 486.89,333.31 487.14,332.93 487.39,332.24 487.64,331.09 487.89,329.42 488.15,327.34 488.40,325.15 488.65,323.31 488.90,322.30 489.15,322.41 489.40,323.60" fill="none" stroke="#74c258" stroke-width="0.85" stroke-opacity="0.9" stroke-linejoin="round"/>
<polyline points="461.30,333.60 461.55,333.60 461.80,333.60 462.05,333.59 462.30,333.56 462.55,333.47 462.81,333.27 463.06,332.82 463.31,331.95 463.56,330.45 463.81,328.18 464.06,325.18 464.31,321.82 464.56,318.74 464.81,316.70 465.06,316.26 465.31,317.56 465.57,320.21 465.82,323.52 466.07,326.72 466.32,329.27 466.57,330.90 466.82,331.54 467.07,331.19 467.32,329.87 467.57,327.62 467.82,324.64 468.07,321.42 468.32,318.63 468.58,317.01 468.83,317.02 469.08,318.66 469.33,321.46 469.58,324.70 469.83,327.72 470.08,330.10 470.33,331.72 470.58,332.69 470.83,333.20 471.08,333.44 471.34,333.54 471.59,333.58 471.84,333.59 472.09,333.60 472.34,333.60 472.59,333.60 472.84,333.60 473.09,333.60 473.34,333.60 473.59,333.60 473.84,333.60 474.10,333.60 474.35,333.60 474.60,333.60 474.85,333.60 475.10,333.60 475.35,333.60 475.60,333.60 475.85,333.60 476.10,333.60 476.35,333.60 476.60,333.60 476.86,333.60 477.11,333.60 477.36,333.60 477.61,333.60 477.86,333.60 478.11,333.60 478.36,333.60 478.61,333.60 478.86,333.60 479.11,333.60 479.36,333.60 479.62,333.59 479.87,333.56 480.12,333.48 480.37,333.27 480.62,332.78 480.87,331.76 481.12,329.89 481.37,326.85 481.62,322.51 481.87,317.18 482.12,311.67 482.38,307.19 482.63,304.93 482.88,305.53 483.13,308.82 483.38,313.87 483.63,319.44 483.88,324.42 484.13,328.20 484.38,330.65 484.63,331.94 484.88,332.31 485.13,331.94 485.39,330.91 485.64,329.31 485.89,327.32 486.14,325.26 486.39,323.62 486.64,322.83 486.89,323.12 487.14,324.40 487.39,326.32 487.64,328.41 487.89,330.26 488.15,331.66 488.40,332.59 488.65,333.12 488.90,333.40 489.15,333.52 489.40,333.57" fill="none" stroke="#222222" stroke-width="0.85" stroke-opacity="0.95" stroke-linejoin="round"/>
<polyline points="461.30,322.80 461.55,323.34 461.80,324.82 462.05,326.82 462.30,328.88 462.55,330.64 462.81,331.92 463.06,332.74 463.31,333.21 463.56,333.44 463.81,333.54 464.06,333.58 464.31,333.59 464.56,333.60 464.81,333.60 465.06,333.60 465.31,333.60 465.57,333.60 465.82,333.60 466.07,333.60 466.32,333.60 466.57,333.60 466.82,333.60 467.07,333.60 467.32,333.60 467.57,333.60 467.82,333.60 468.07,333.60 468.32,333.60 468.58,333.60 468.83,333.60 469.08,333.60 469.33,333.60 469.58,333.60 469.83,333.60 470.08,333.60 470.33,333.60 470.58,333.60 470.83,333.60 471.08,333.60 471.34,333.60 471.59,333.60 471.84,333.60 472.09,333.58 472.34,333.55 472.59,333.45 472.84,333.21 473.09,332.69 473.34,331.71 473.59,330.04 473.84,327.56 474.10,324.36 474.35,320.86 474.60,317.76 474.85,315.84 475.10,315.65 475.35,317.23 475.60,320.14 475.85,323.61 476.10,326.87 476.35,329.40 476.60,330.95 476.86,331.47 477.11,330.97 477.36,329.46 477.61,327.00 477.86,323.85 478.11,320.52 478.36,317.77 478.61,316.31 478.86,316.57 479.11,318.48 479.36,321.49 479.62,324.86 479.87,327.91 480.12,330.26 480.37,331.83 480.62,332.76 480.87,333.24 481.12,333.46 481.37,333.55 481.62,333.58 481.87,333.60 482.12,333.60 482.38,333.60 482.63,333.60 482.88,333.60 483.13,333.60 483.38,333.60 483.63,333.60 483.88,333.60 484.13,333.60 484.38,333.60 484.63,333.60 484.88,333.60 485.13,333.60 485.39,333.60 485.64,333.60 485.89,333.60 486.14,333.60 486.39,333.60 486.64,333.60 486.89,333.60 487.14,333.60 487.39,333.60 487.64,333.60 487.89,333.60 488.15,333.60 488.40,333.60 488.65,333.60 488.90,333.60 489.15,333.60 489.40,333.60" fill="none" stroke="#d4365e" stroke-width="0.85" stroke-opacity="0.95" stroke-linejoin="round"/>
<line x1="461.30" y1="334.10" x2="489.40" y2="334.10" stroke="#a02848" stroke-width="0.6"/>
<path d="M319.00,304.50 L323.60,304.50 L321.30,308.40 Z" fill="#c01070" stroke="#222" stroke-width="0.55"/>
<path d="M357.40,304.50 L362.00,304.50 L359.70,308.40 Z" fill="#c01070" stroke="#222" stroke-width="0.55"/>
<path d="M396.00,304.50 L400.60,304.50 L398.30,308.40 Z" fill="#3c9ad8" stroke="#222" stroke-width="0.55"/>
<path d="M434.80,304.50 L439.40,304.50 L437.10,308.40 Z" fill="#3c9ad8" stroke="#222" stroke-width="0.55"/>
<path d="M472.80,304.50 L477.40,304.50 L475.10,308.40 Z" fill="#3c9ad8" stroke="#222" stroke-width="0.55"/>
<text x="321.30" y="237.60" font-size="4.8" text-anchor="middle" fill="#4a68b0" font-weight="bold" >C</text>
<text x="359.80" y="237.60" font-size="4.8" text-anchor="middle" fill="#4a68b0" font-weight="bold" >C</text>
<text x="359.80" y="242.60" font-size="4.8" text-anchor="middle" fill="#5cb040" font-weight="bold" >A</text>
<text x="398.40" y="237.60" font-size="4.8" text-anchor="middle" fill="#4a68b0" font-weight="bold" >C</text>
<text x="398.40" y="242.60" font-size="4.8" text-anchor="middle" fill="#5cb040" font-weight="bold" >A</text>
<text x="436.80" y="237.60" font-size="4.8" text-anchor="middle" fill="#4a68b0" font-weight="bold" >C</text>
<text x="436.80" y="242.60" font-size="4.8" text-anchor="middle" fill="#5cb040" font-weight="bold" >A</text>
<text x="475.40" y="237.60" font-size="4.8" text-anchor="middle" fill="#4a68b0" font-weight="bold" >C</text>
<text x="475.40" y="242.60" font-size="4.8" text-anchor="middle" fill="#5cb040" font-weight="bold" >A</text>
<text x="321.30" y="287.80" font-size="4.8" text-anchor="middle" fill="#222" font-weight="bold" >G</text>
<text x="359.80" y="287.80" font-size="4.8" text-anchor="middle" fill="#222" font-weight="bold" >G</text>
<text x="359.80" y="292.80" font-size="4.8" text-anchor="middle" fill="#5cb040" font-weight="bold" >A</text>
<text x="398.40" y="287.80" font-size="4.8" text-anchor="middle" fill="#222" font-weight="bold" >G</text>
<text x="398.40" y="292.80" font-size="4.8" text-anchor="middle" fill="#5cb040" font-weight="bold" >A</text>
<text x="436.80" y="287.80" font-size="4.8" text-anchor="middle" fill="#222" font-weight="bold" >G</text>
<text x="436.80" y="292.80" font-size="4.8" text-anchor="middle" fill="#5cb040" font-weight="bold" >A</text>
<text x="475.40" y="287.80" font-size="4.8" text-anchor="middle" fill="#222" font-weight="bold" >G</text>
<text x="321.30" y="339.80" font-size="4.8" text-anchor="middle" fill="#4a68b0" font-weight="bold" >C</text>
<text x="321.30" y="344.80" font-size="4.8" text-anchor="middle" fill="#d02850" font-weight="bold" >T</text>
<text x="359.80" y="339.80" font-size="4.8" text-anchor="middle" fill="#4a68b0" font-weight="bold" >C</text>
<text x="359.80" y="344.80" font-size="4.8" text-anchor="middle" fill="#d02850" font-weight="bold" >T</text>
<text x="398.40" y="339.80" font-size="4.8" text-anchor="middle" fill="#4a68b0" font-weight="bold" >C</text>
<text x="437.00" y="339.80" font-size="4.8" text-anchor="middle" fill="#4a68b0" font-weight="bold" >C</text>
<text x="475.20" y="339.80" font-size="4.8" text-anchor="middle" fill="#d02850" font-weight="bold" >T</text>
<rect x="0" y="0" width="520" height="1" fill="#1a1a1a"/>
<rect x="0" y="0" width="1" height="374" fill="#1a1a1a"/>
<rect x="518" y="0" width="1" height="374" fill="#000" fill-opacity="0.3"/>
<rect x="0" y="372" width="520" height="1" fill="#000" fill-opacity="0.3"/>
<rect x="519" y="0" width="1" height="374" fill="#111"/>
<rect x="0" y="373" width="520" height="1" fill="#111"/>
</svg>
</body></html>
